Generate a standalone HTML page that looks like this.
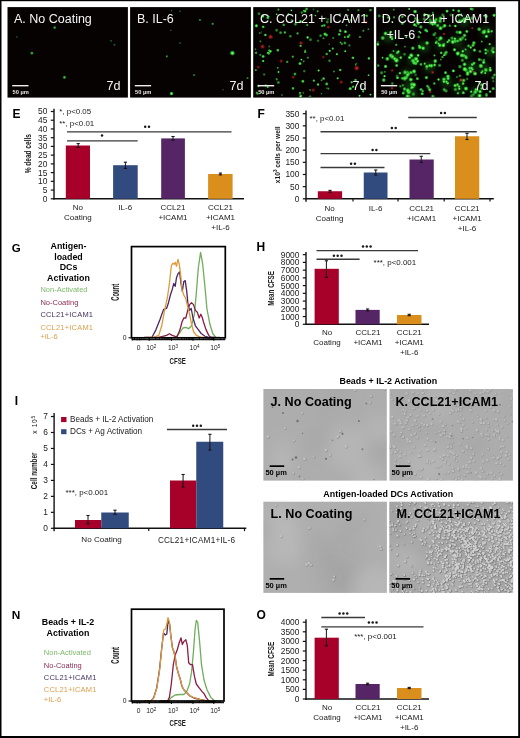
<!DOCTYPE html>
<html><head><meta charset="utf-8"><style>
html,body{margin:0;padding:0;background:#fff;}
body{width:520px;height:738px;position:relative;overflow:hidden;font-family:"Liberation Sans", sans-serif;}
</style></head><body>
<svg width="520" height="738" viewBox="0 0 520 738" style="position:absolute;left:0;top:0;will-change:transform;filter:blur(0.25px)" font-family='"Liberation Sans", sans-serif'>
<defs><filter id="blur1" x="-5%" y="-5%" width="110%" height="110%"><feGaussianBlur stdDeviation="0.85"/></filter><filter id="blurH" x="-10%" y="-10%" width="120%" height="120%"><feGaussianBlur stdDeviation="2.5"/></filter><filter id="blurBig" x="-20%" y="-20%" width="140%" height="140%"><feGaussianBlur stdDeviation="7"/></filter><filter id="blurS" x="-5%" y="-5%" width="110%" height="110%"><feGaussianBlur stdDeviation="0.45"/></filter><filter id="blurF" x="-5%" y="-5%" width="110%" height="110%"><feGaussianBlur stdDeviation="0.65"/></filter><radialGradient id="gG"><stop offset="0" stop-color="#b4ffb0"/><stop offset="0.35" stop-color="#46ee46"/><stop offset="0.7" stop-color="#22b422" stop-opacity="0.75"/><stop offset="1" stop-color="#128012" stop-opacity="0"/></radialGradient><radialGradient id="gGd"><stop offset="0" stop-color="#60c060"/><stop offset="0.4" stop-color="#2a8a2a"/><stop offset="1" stop-color="#145a14" stop-opacity="0"/></radialGradient><radialGradient id="gR"><stop offset="0" stop-color="#ff5050"/><stop offset="0.4" stop-color="#c81c1c"/><stop offset="1" stop-color="#801010" stop-opacity="0"/></radialGradient></defs>
<rect x="0" y="0" width="520" height="738" fill="#fff"/>
<rect x="7.5" y="7.1" width="120.4" height="90.5" fill="#060202"/>
<defs><clipPath id="f1"><rect x="7.5" y="7.1" width="120.4" height="90.5"/></clipPath></defs>
<g clip-path="url(#f1)">
<g filter="url(#blurF)">
<circle cx="54.7" cy="27.6" r="1.81" fill="url(#gG)" opacity="0.6"/>
<circle cx="16.8" cy="36.9" r="1.4" fill="url(#gGd)" opacity="0.45"/>
<circle cx="31.9" cy="53.1" r="1.95" fill="url(#gG)" opacity="0.68"/>
<circle cx="64.5" cy="77.3" r="2.09" fill="url(#gG)" opacity="0.68"/>
<circle cx="111" cy="40.8" r="1.53" fill="url(#gGd)" opacity="0.52"/>
<circle cx="114.5" cy="44.8" r="1.67" fill="url(#gGd)" opacity="0.52"/>
</g>
</g>
<text x="14" y="23.3" font-size="12.5" text-anchor="start" font-weight="normal" fill="#f4f4f4" >A. No Coating</text>
<text x="120.6" y="90.2" font-size="12.6" text-anchor="end" font-weight="normal" fill="#f4f4f4" >7d</text>
<rect x="12.2" y="85" width="16.3" height="1.4" fill="#eeeeee"/>
<text x="12.5" y="93.5" font-size="5.7" text-anchor="start" font-weight="bold" fill="#e8e8e8" >50 &#181;m</text>
<rect x="130.1" y="7.1" width="120.8" height="90.5" fill="#060202"/>
<defs><clipPath id="f2"><rect x="130.1" y="7.1" width="120.8" height="90.5"/></clipPath></defs>
<g clip-path="url(#f2)">
<g filter="url(#blurF)">
<circle cx="171.5" cy="10.6" r="1.4" fill="url(#gGd)" opacity="0.49"/>
<circle cx="180.1" cy="11.3" r="1.4" fill="url(#gGd)" opacity="0.49"/>
<circle cx="199.9" cy="19.9" r="1.53" fill="url(#gG)" opacity="0.56"/>
<circle cx="212.7" cy="23.8" r="1.67" fill="url(#gG)" opacity="0.56"/>
<circle cx="170.8" cy="30.4" r="1.4" fill="url(#gGd)" opacity="0.42"/>
<circle cx="180.1" cy="43.1" r="1.53" fill="url(#gGd)" opacity="0.49"/>
<circle cx="166.8" cy="56.4" r="1.53" fill="url(#gG)" opacity="0.56"/>
<circle cx="232.4" cy="53.1" r="2.79" fill="url(#gG)" opacity="0.95"/>
<circle cx="194.1" cy="75.1" r="1.53" fill="url(#gG)" opacity="0.49"/>
<circle cx="171.5" cy="93.6" r="2.23" fill="url(#gG)" opacity="0.95"/>
<circle cx="247.5" cy="78.1" r="1.53" fill="url(#gG)" opacity="0.49"/>
<circle cx="223.1" cy="89.7" r="1.4" fill="url(#gGd)" opacity="0.42"/>
</g>
</g>
<text x="137" y="23.3" font-size="12.5" text-anchor="start" font-weight="normal" fill="#f4f4f4" >B. IL-6</text>
<text x="243.6" y="90.2" font-size="12.6" text-anchor="end" font-weight="normal" fill="#f4f4f4" >7d</text>
<rect x="134.8" y="85" width="16.3" height="1.4" fill="#eeeeee"/>
<text x="135.1" y="93.5" font-size="5.7" text-anchor="start" font-weight="bold" fill="#e8e8e8" >50 &#181;m</text>
<rect x="253.2" y="7.1" width="120.7" height="90.5" fill="#060202"/>
<defs><clipPath id="f3"><rect x="253.2" y="7.1" width="120.7" height="90.5"/></clipPath></defs>
<g clip-path="url(#f3)">
<g filter="url(#blurF)">
<circle cx="307.85" cy="57.64" r="1.63" fill="url(#gGd)" opacity="0.88"/>
<circle cx="276.72" cy="79.25" r="1.78" fill="url(#gGd)" opacity="0.86"/>
<circle cx="265.36" cy="34.95" r="1.7" fill="url(#gG)" opacity="0.9"/>
<circle cx="329.45" cy="60.8" r="2.06" fill="url(#gGd)" opacity="0.79"/>
<circle cx="327.21" cy="22.04" r="1.95" fill="url(#gG)" opacity="0.53"/>
<circle cx="258.43" cy="85.94" r="1.9" fill="url(#gG)" opacity="0.65"/>
<circle cx="324.29" cy="25.39" r="1.79" fill="url(#gG)" opacity="0.72"/>
<circle cx="332.77" cy="48.57" r="1.59" fill="url(#gG)" opacity="0.75"/>
<circle cx="364.7" cy="15.46" r="1.51" fill="url(#gG)" opacity="0.6"/>
<circle cx="288.48" cy="14.31" r="1.58" fill="url(#gG)" opacity="0.88"/>
<circle cx="300.04" cy="92.89" r="1.42" fill="url(#gG)" opacity="0.92"/>
<circle cx="260.41" cy="41.33" r="1.6" fill="url(#gGd)" opacity="0.75"/>
<circle cx="277.74" cy="67.83" r="1.31" fill="url(#gG)" opacity="0.65"/>
<circle cx="368.54" cy="75.19" r="1.35" fill="url(#gG)" opacity="0.82"/>
<circle cx="255.5" cy="49.25" r="1.39" fill="url(#gGd)" opacity="0.75"/>
<circle cx="307.26" cy="24.98" r="1.6" fill="url(#gG)" opacity="0.67"/>
<circle cx="301.03" cy="95.72" r="1.47" fill="url(#gG)" opacity="0.94"/>
<circle cx="349.48" cy="35.02" r="1.42" fill="url(#gG)" opacity="0.68"/>
<circle cx="355.53" cy="64.9" r="1.28" fill="url(#gG)" opacity="0.57"/>
<circle cx="306.57" cy="8.95" r="1.95" fill="url(#gG)" opacity="0.67"/>
<circle cx="263.01" cy="26.57" r="1.25" fill="url(#gG)" opacity="0.67"/>
<circle cx="327.99" cy="19.36" r="1.95" fill="url(#gGd)" opacity="0.56"/>
<circle cx="299.99" cy="63.61" r="2.01" fill="url(#gG)" opacity="0.87"/>
<circle cx="283.79" cy="24.9" r="1.83" fill="url(#gG)" opacity="0.67"/>
<circle cx="311.43" cy="15.05" r="1.33" fill="url(#gG)" opacity="0.52"/>
<circle cx="368.37" cy="29.2" r="1.46" fill="url(#gGd)" opacity="0.87"/>
<circle cx="324.94" cy="34.07" r="2.03" fill="url(#gG)" opacity="0.94"/>
<circle cx="269.19" cy="50.52" r="1.48" fill="url(#gG)" opacity="0.91"/>
<circle cx="278.39" cy="9.57" r="1.59" fill="url(#gG)" opacity="0.61"/>
<circle cx="259.73" cy="33.05" r="1.32" fill="url(#gG)" opacity="0.56"/>
<circle cx="307.61" cy="37.39" r="1.74" fill="url(#gG)" opacity="0.92"/>
<circle cx="310.51" cy="39.74" r="2.06" fill="url(#gG)" opacity="0.51"/>
<circle cx="329.65" cy="50.78" r="1.51" fill="url(#gG)" opacity="0.95"/>
<circle cx="263.13" cy="56.43" r="2.01" fill="url(#gG)" opacity="0.83"/>
<circle cx="337.66" cy="78.3" r="1.54" fill="url(#gG)" opacity="0.81"/>
<circle cx="361.04" cy="85.19" r="2.04" fill="url(#gGd)" opacity="0.51"/>
<circle cx="313.49" cy="9.39" r="1.56" fill="url(#gGd)" opacity="0.51"/>
<circle cx="262.77" cy="16.12" r="2.09" fill="url(#gG)" opacity="0.9"/>
<circle cx="340.57" cy="42.48" r="1.62" fill="url(#gGd)" opacity="0.88"/>
<circle cx="264.14" cy="74.49" r="1.5" fill="url(#gG)" opacity="0.54"/>
<circle cx="256.84" cy="92.83" r="1.66" fill="url(#gG)" opacity="0.78"/>
<circle cx="363.37" cy="30.74" r="1.55" fill="url(#gG)" opacity="0.56"/>
<circle cx="326.75" cy="53.98" r="1.8" fill="url(#gG)" opacity="0.7"/>
<circle cx="359.96" cy="37.04" r="1.41" fill="url(#gG)" opacity="0.69"/>
<circle cx="349.79" cy="89.01" r="1.57" fill="url(#gG)" opacity="0.76"/>
<circle cx="291.74" cy="20.15" r="1.54" fill="url(#gGd)" opacity="0.9"/>
<circle cx="259.01" cy="13.78" r="1.94" fill="url(#gG)" opacity="0.55"/>
<circle cx="310.1" cy="90.03" r="1.57" fill="url(#gGd)" opacity="0.73"/>
<circle cx="333.92" cy="71.49" r="1.51" fill="url(#gGd)" opacity="0.87"/>
<circle cx="287.19" cy="61.87" r="1.73" fill="url(#gG)" opacity="0.64"/>
<circle cx="348.07" cy="9.79" r="1.59" fill="url(#gG)" opacity="0.59"/>
<circle cx="345.43" cy="31.68" r="1.92" fill="url(#gG)" opacity="0.94"/>
<circle cx="267.88" cy="17.75" r="2.06" fill="url(#gG)" opacity="0.81"/>
<circle cx="277.84" cy="50.15" r="1.85" fill="url(#gG)" opacity="0.84"/>
<circle cx="317.63" cy="11.3" r="1.47" fill="url(#gG)" opacity="0.66"/>
<circle cx="336.9" cy="54.16" r="1.58" fill="url(#gG)" opacity="0.86"/>
<circle cx="361.68" cy="15.82" r="1.35" fill="url(#gGd)" opacity="0.7"/>
<circle cx="328.39" cy="88.63" r="1.71" fill="url(#gGd)" opacity="0.79"/>
<circle cx="313.81" cy="80.62" r="1.64" fill="url(#gG)" opacity="0.79"/>
<circle cx="278.5" cy="71.99" r="1.42" fill="url(#gG)" opacity="0.9"/>
<circle cx="370.49" cy="94.6" r="1.46" fill="url(#gG)" opacity="0.82"/>
<circle cx="256.06" cy="52.77" r="1.62" fill="url(#gG)" opacity="0.75"/>
<circle cx="345.31" cy="51.24" r="1.43" fill="url(#gG)" opacity="0.89"/>
<circle cx="305.07" cy="11.21" r="1.83" fill="url(#gG)" opacity="0.91"/>
<circle cx="310.01" cy="96.58" r="2.05" fill="url(#gGd)" opacity="0.72"/>
<circle cx="366.77" cy="15.71" r="1.61" fill="url(#gG)" opacity="0.75"/>
<circle cx="352.78" cy="57.8" r="1.69" fill="url(#gG)" opacity="0.88"/>
<circle cx="320.61" cy="35.69" r="2.05" fill="url(#gGd)" opacity="0.89"/>
<circle cx="326.48" cy="35.04" r="2.07" fill="url(#gG)" opacity="0.74"/>
<circle cx="322.16" cy="25.89" r="1.67" fill="url(#gG)" opacity="0.77"/>
<circle cx="257.49" cy="93.89" r="1.7" fill="url(#gGd)" opacity="0.95"/>
<circle cx="268.66" cy="16.35" r="1.3" fill="url(#gG)" opacity="0.74"/>
<circle cx="303.27" cy="92.78" r="1.47" fill="url(#gGd)" opacity="0.71"/>
<circle cx="269.26" cy="46.48" r="1.69" fill="url(#gGd)" opacity="0.55"/>
<circle cx="303.96" cy="10.7" r="1.35" fill="url(#gG)" opacity="0.85"/>
<circle cx="256.9" cy="25.28" r="1.25" fill="url(#gG)" opacity="0.63"/>
<circle cx="340.02" cy="29.74" r="1.33" fill="url(#gGd)" opacity="0.83"/>
<circle cx="268.76" cy="53.28" r="1.85" fill="url(#gG)" opacity="0.82"/>
<circle cx="358.42" cy="10.16" r="1.94" fill="url(#gGd)" opacity="0.78"/>
<circle cx="318.03" cy="84.55" r="1.69" fill="url(#gG)" opacity="0.88"/>
<circle cx="326.75" cy="83.92" r="2.02" fill="url(#gG)" opacity="0.78"/>
<circle cx="295.42" cy="24.13" r="2" fill="url(#gG)" opacity="0.59"/>
<circle cx="346.51" cy="25.32" r="1.35" fill="url(#gG)" opacity="0.61"/>
<circle cx="340.37" cy="31.07" r="1.61" fill="url(#gG)" opacity="0.92"/>
<circle cx="318.63" cy="70.48" r="1.58" fill="url(#gG)" opacity="0.81"/>
<circle cx="256.31" cy="25.88" r="2.02" fill="url(#gG)" opacity="0.94"/>
<circle cx="267.89" cy="52.85" r="1.67" fill="url(#gG)" opacity="0.81"/>
<circle cx="276.62" cy="14.34" r="1.26" fill="url(#gG)" opacity="0.84"/>
<circle cx="326.94" cy="88.2" r="1.36" fill="url(#gGd)" opacity="0.58"/>
<circle cx="278.38" cy="82.46" r="2.03" fill="url(#gG)" opacity="0.54"/>
<circle cx="261.55" cy="92.31" r="1.31" fill="url(#gGd)" opacity="0.54"/>
<circle cx="300.56" cy="45.84" r="1.61" fill="url(#gG)" opacity="0.77"/>
<circle cx="255.77" cy="70.14" r="1.39" fill="url(#gG)" opacity="0.7"/>
<circle cx="341.89" cy="43.97" r="1.76" fill="url(#gG)" opacity="0.54"/>
<circle cx="348.17" cy="36.75" r="1.92" fill="url(#gG)" opacity="0.82"/>
<circle cx="356.28" cy="63.8" r="1.73" fill="url(#gGd)" opacity="0.59"/>
<circle cx="323.54" cy="38.28" r="1.48" fill="url(#gG)" opacity="0.55"/>
<circle cx="342.32" cy="22.26" r="1.35" fill="url(#gGd)" opacity="0.65"/>
<circle cx="318.11" cy="40.83" r="1.89" fill="url(#gGd)" opacity="0.68"/>
<circle cx="339.9" cy="14.34" r="1.5" fill="url(#gG)" opacity="0.55"/>
<circle cx="359.52" cy="95.77" r="1.44" fill="url(#gG)" opacity="0.93"/>
<circle cx="333.2" cy="38" r="1.73" fill="url(#gGd)" opacity="0.74"/>
<circle cx="300.41" cy="96.59" r="1.84" fill="url(#gG)" opacity="0.84"/>
<circle cx="370.44" cy="10.12" r="1.87" fill="url(#gG)" opacity="0.62"/>
<circle cx="301.82" cy="12.57" r="1.79" fill="url(#gG)" opacity="0.5"/>
<circle cx="284.86" cy="32.5" r="1.71" fill="url(#gG)" opacity="0.73"/>
<circle cx="368.9" cy="58.37" r="1.78" fill="url(#gG)" opacity="0.86"/>
<circle cx="263.24" cy="60.98" r="1.57" fill="url(#gG)" opacity="0.92"/>
<circle cx="299.97" cy="93.95" r="1.7" fill="url(#gGd)" opacity="0.77"/>
<circle cx="305.15" cy="51.87" r="1.69" fill="url(#gG)" opacity="0.77"/>
<circle cx="297.56" cy="33.39" r="1.72" fill="url(#gG)" opacity="0.63"/>
<circle cx="339.19" cy="34.3" r="1.9" fill="url(#gG)" opacity="0.76"/>
<circle cx="329.27" cy="44.28" r="1.29" fill="url(#gGd)" opacity="0.64"/>
<circle cx="301.38" cy="59.58" r="1.3" fill="url(#gG)" opacity="0.91"/>
<circle cx="305.14" cy="50.37" r="1.28" fill="url(#gG)" opacity="0.54"/>
<circle cx="350.29" cy="88.59" r="2.07" fill="url(#gG)" opacity="0.87"/>
<circle cx="325.79" cy="18.29" r="1.63" fill="url(#gGd)" opacity="0.59"/>
<circle cx="260.37" cy="54.84" r="1.55" fill="url(#gG)" opacity="0.56"/>
<circle cx="303.65" cy="61.29" r="1.55" fill="url(#gGd)" opacity="0.83"/>
<circle cx="350.87" cy="20.22" r="1.87" fill="url(#gG)" opacity="0.61"/>
<circle cx="267.7" cy="87.1" r="1.47" fill="url(#gG)" opacity="0.77"/>
<circle cx="340.19" cy="69.97" r="1.78" fill="url(#gG)" opacity="0.84"/>
<circle cx="276.71" cy="30.13" r="1.99" fill="url(#gG)" opacity="0.52"/>
<circle cx="261.41" cy="32.08" r="1.26" fill="url(#gGd)" opacity="0.52"/>
<circle cx="280.6" cy="32.73" r="2.02" fill="url(#gG)" opacity="0.57"/>
<circle cx="282.04" cy="94.96" r="1.65" fill="url(#gGd)" opacity="0.59"/>
<circle cx="294.96" cy="74.02" r="1.92" fill="url(#gG)" opacity="0.7"/>
<circle cx="351.69" cy="82.26" r="1.62" fill="url(#gG)" opacity="0.84"/>
<circle cx="300.47" cy="21.44" r="1.8" fill="url(#gG)" opacity="0.95"/>
<circle cx="292.79" cy="56.65" r="1.6" fill="url(#gG)" opacity="0.67"/>
<circle cx="265.71" cy="85.55" r="1.7" fill="url(#gG)" opacity="0.69"/>
<circle cx="321.56" cy="80.25" r="1.49" fill="url(#gGd)" opacity="0.85"/>
<circle cx="263.22" cy="26.97" r="1.83" fill="url(#gG)" opacity="0.72"/>
<circle cx="344.83" cy="37.12" r="1.43" fill="url(#gG)" opacity="0.8"/>
<circle cx="292.99" cy="88.31" r="1.84" fill="url(#gG)" opacity="0.76"/>
<circle cx="363.14" cy="91.28" r="1.61" fill="url(#gG)" opacity="0.86"/>
<circle cx="290.35" cy="36.21" r="2.07" fill="url(#gGd)" opacity="0.83"/>
<circle cx="315.42" cy="15.56" r="1.26" fill="url(#gG)" opacity="0.8"/>
<circle cx="323.56" cy="78.56" r="1.92" fill="url(#gG)" opacity="0.74"/>
<circle cx="353.39" cy="57.91" r="1.32" fill="url(#gG)" opacity="0.7"/>
<circle cx="355.57" cy="79.95" r="1.68" fill="url(#gG)" opacity="0.74"/>
<circle cx="321.5" cy="93.63" r="1.29" fill="url(#gGd)" opacity="0.75"/>
<circle cx="347.66" cy="15.54" r="1.47" fill="url(#gG)" opacity="0.55"/>
<circle cx="291.42" cy="10.4" r="1.32" fill="url(#gG)" opacity="0.87"/>
<circle cx="304.26" cy="71.13" r="1.89" fill="url(#gGd)" opacity="0.73"/>
<circle cx="344.89" cy="43" r="1.93" fill="url(#gG)" opacity="0.65"/>
<circle cx="270.41" cy="51.29" r="1.84" fill="url(#gG)" opacity="0.91"/>
<circle cx="302.9" cy="81.22" r="1.97" fill="url(#gG)" opacity="0.86"/>
<circle cx="353.09" cy="86.75" r="1.69" fill="url(#gG)" opacity="0.82"/>
<circle cx="349.35" cy="45.41" r="2.02" fill="url(#gGd)" opacity="0.61"/>
<circle cx="270.6" cy="36.9" r="2.94" fill="url(#gR)" opacity="0.7"/>
<circle cx="262.5" cy="46.6" r="2.79" fill="url(#gR)" opacity="0.65"/>
<circle cx="300.9" cy="43.1" r="2.48" fill="url(#gR)" opacity="0.6"/>
<circle cx="356.7" cy="68.1" r="3.1" fill="url(#gR)" opacity="0.75"/>
<circle cx="281.2" cy="61.1" r="2.33" fill="url(#gR)" opacity="0.55"/>
<circle cx="328.2" cy="27.1" r="2.17" fill="url(#gR)" opacity="0.5"/>
<circle cx="341.2" cy="82.1" r="2.33" fill="url(#gR)" opacity="0.55"/>
<circle cx="313.2" cy="90.1" r="2.33" fill="url(#gR)" opacity="0.55"/>
<circle cx="366.2" cy="22.1" r="2.17" fill="url(#gR)" opacity="0.5"/>
<circle cx="293.2" cy="77.1" r="2.17" fill="url(#gR)" opacity="0.5"/>
<circle cx="258.2" cy="67.1" r="2.17" fill="url(#gR)" opacity="0.5"/>
<circle cx="323.2" cy="57.1" r="2.02" fill="url(#gR)" opacity="0.5"/>
</g>
</g>
<text x="260" y="23.3" font-size="12.5" text-anchor="start" font-weight="normal" fill="#f4f4f4" >C. CCL21 + ICAM1</text>
<text x="366.6" y="90.2" font-size="12.6" text-anchor="end" font-weight="normal" fill="#f4f4f4" >7d</text>
<rect x="257.9" y="85" width="16.3" height="1.4" fill="#eeeeee"/>
<text x="258.2" y="93.5" font-size="5.7" text-anchor="start" font-weight="bold" fill="#e8e8e8" >50 &#181;m</text>
<rect x="376.2" y="7.1" width="119.6" height="90.5" fill="#060202"/>
<defs><clipPath id="f4"><rect x="376.2" y="7.1" width="119.6" height="90.5"/></clipPath></defs>
<g clip-path="url(#f4)">
<g filter="url(#blurH)">
<circle cx="463.9" cy="20.9" r="6" fill="#1a701a" opacity="0.4"/>
<circle cx="457" cy="41.7" r="6" fill="#1a701a" opacity="0.4"/>
<circle cx="465" cy="53.1" r="6" fill="#1a701a" opacity="0.4"/>
<circle cx="429.2" cy="67.1" r="6" fill="#1a701a" opacity="0.4"/>
<circle cx="413.2" cy="60.1" r="6" fill="#1a701a" opacity="0.4"/>
<circle cx="406.2" cy="74.1" r="6" fill="#1a701a" opacity="0.4"/>
<circle cx="409.2" cy="87.1" r="6" fill="#1a701a" opacity="0.4"/>
<circle cx="412.2" cy="95.1" r="6" fill="#1a701a" opacity="0.4"/>
<circle cx="459.2" cy="87.9" r="6" fill="#1a701a" opacity="0.4"/>
<circle cx="484.7" cy="69.1" r="6" fill="#1a701a" opacity="0.4"/>
<circle cx="440.8" cy="44.1" r="6" fill="#1a701a" opacity="0.4"/>
<circle cx="396.2" cy="57.1" r="6" fill="#1a701a" opacity="0.4"/>
<circle cx="486.2" cy="32.1" r="6" fill="#1a701a" opacity="0.4"/>
<circle cx="436.2" cy="22.1" r="6" fill="#1a701a" opacity="0.4"/>
<circle cx="476.2" cy="92.1" r="6" fill="#1a701a" opacity="0.4"/>
<circle cx="446.2" cy="82.1" r="6" fill="#1a701a" opacity="0.4"/>
<circle cx="388.2" cy="37.1" r="6" fill="#1a701a" opacity="0.4"/>
<circle cx="424.2" cy="47.1" r="6" fill="#1a701a" opacity="0.4"/>
<circle cx="471.2" cy="67.1" r="6" fill="#1a701a" opacity="0.4"/>
<circle cx="491.2" cy="52.1" r="6" fill="#1a701a" opacity="0.4"/>
</g>
<g filter="url(#blurF)">
<circle cx="438.53" cy="79.49" r="1.71" fill="url(#gG)" opacity="0.88"/>
<circle cx="459.95" cy="66.63" r="2.39" fill="url(#gG)" opacity="0.62"/>
<circle cx="472.98" cy="45.23" r="2.09" fill="url(#gG)" opacity="0.84"/>
<circle cx="462.3" cy="20.27" r="1.55" fill="url(#gG)" opacity="0.9"/>
<circle cx="400.3" cy="86.23" r="1.75" fill="url(#gG)" opacity="0.56"/>
<circle cx="461.28" cy="14.22" r="1.48" fill="url(#gGd)" opacity="0.97"/>
<circle cx="432.91" cy="96.27" r="2.14" fill="url(#gG)" opacity="0.7"/>
<circle cx="436.66" cy="37.87" r="1.8" fill="url(#gGd)" opacity="0.53"/>
<circle cx="465.56" cy="39.49" r="1.8" fill="url(#gGd)" opacity="0.89"/>
<circle cx="479.17" cy="29.25" r="2.43" fill="url(#gG)" opacity="0.76"/>
<circle cx="419.47" cy="31.75" r="1.6" fill="url(#gG)" opacity="0.8"/>
<circle cx="442.48" cy="57.08" r="1.67" fill="url(#gG)" opacity="0.65"/>
<circle cx="418.07" cy="23.21" r="2.38" fill="url(#gG)" opacity="0.79"/>
<circle cx="409.23" cy="8.96" r="1.42" fill="url(#gG)" opacity="0.87"/>
<circle cx="432.87" cy="12.88" r="1.73" fill="url(#gG)" opacity="0.54"/>
<circle cx="493.15" cy="88.64" r="2.07" fill="url(#gG)" opacity="0.76"/>
<circle cx="393.46" cy="51.01" r="1.59" fill="url(#gGd)" opacity="1"/>
<circle cx="490.11" cy="67.95" r="1.45" fill="url(#gG)" opacity="0.99"/>
<circle cx="413.05" cy="86.84" r="2.27" fill="url(#gG)" opacity="0.52"/>
<circle cx="486" cy="16.31" r="2.31" fill="url(#gG)" opacity="0.83"/>
<circle cx="424.63" cy="14.74" r="1.98" fill="url(#gG)" opacity="0.99"/>
<circle cx="403.63" cy="92.88" r="2.26" fill="url(#gG)" opacity="0.52"/>
<circle cx="481.5" cy="60" r="1.64" fill="url(#gGd)" opacity="0.7"/>
<circle cx="450.85" cy="14.95" r="2.21" fill="url(#gGd)" opacity="0.61"/>
<circle cx="414.59" cy="24.81" r="2.04" fill="url(#gG)" opacity="0.98"/>
<circle cx="445.12" cy="54.07" r="2.36" fill="url(#gG)" opacity="0.66"/>
<circle cx="445.18" cy="90.38" r="2.06" fill="url(#gG)" opacity="0.68"/>
<circle cx="494.48" cy="74.9" r="1.87" fill="url(#gG)" opacity="0.72"/>
<circle cx="388.18" cy="17.44" r="1.6" fill="url(#gG)" opacity="0.79"/>
<circle cx="459.91" cy="75.8" r="1.9" fill="url(#gGd)" opacity="0.93"/>
<circle cx="393.32" cy="56.72" r="1.41" fill="url(#gGd)" opacity="0.63"/>
<circle cx="493.27" cy="81.23" r="1.76" fill="url(#gGd)" opacity="0.66"/>
<circle cx="383.29" cy="16.82" r="1.42" fill="url(#gG)" opacity="0.74"/>
<circle cx="483.66" cy="62.28" r="2.24" fill="url(#gG)" opacity="0.91"/>
<circle cx="492.97" cy="48.4" r="2.34" fill="url(#gG)" opacity="0.51"/>
<circle cx="424.2" cy="18.96" r="2.2" fill="url(#gG)" opacity="0.53"/>
<circle cx="491.69" cy="31.32" r="1.77" fill="url(#gG)" opacity="0.77"/>
<circle cx="473.5" cy="94.42" r="2.39" fill="url(#gGd)" opacity="0.76"/>
<circle cx="494.07" cy="15.26" r="2.07" fill="url(#gG)" opacity="0.93"/>
<circle cx="415.43" cy="18.5" r="1.98" fill="url(#gG)" opacity="0.62"/>
<circle cx="435.3" cy="33.17" r="1.67" fill="url(#gG)" opacity="0.54"/>
<circle cx="426.61" cy="68.71" r="1.79" fill="url(#gGd)" opacity="0.61"/>
<circle cx="492.88" cy="77.77" r="2.25" fill="url(#gG)" opacity="0.54"/>
<circle cx="428.61" cy="87.53" r="2.11" fill="url(#gG)" opacity="0.57"/>
<circle cx="446.11" cy="90.92" r="2.27" fill="url(#gGd)" opacity="0.94"/>
<circle cx="489.61" cy="44.13" r="1.58" fill="url(#gG)" opacity="0.86"/>
<circle cx="468.62" cy="45.89" r="1.98" fill="url(#gG)" opacity="0.72"/>
<circle cx="436.17" cy="19.47" r="1.93" fill="url(#gG)" opacity="0.75"/>
<circle cx="420.96" cy="64.34" r="1.93" fill="url(#gG)" opacity="0.72"/>
<circle cx="481.74" cy="41.57" r="1.47" fill="url(#gG)" opacity="0.65"/>
<circle cx="411.1" cy="88.36" r="1.74" fill="url(#gGd)" opacity="0.98"/>
<circle cx="464.56" cy="35.39" r="2.4" fill="url(#gG)" opacity="0.76"/>
<circle cx="394.07" cy="17.31" r="1.65" fill="url(#gG)" opacity="0.61"/>
<circle cx="479.15" cy="82.37" r="1.8" fill="url(#gGd)" opacity="0.97"/>
<circle cx="413.36" cy="94.06" r="2.35" fill="url(#gG)" opacity="0.51"/>
<circle cx="479.31" cy="59.61" r="2.13" fill="url(#gG)" opacity="0.75"/>
<circle cx="426.92" cy="31.05" r="1.88" fill="url(#gG)" opacity="0.89"/>
<circle cx="396.28" cy="44.82" r="1.62" fill="url(#gG)" opacity="0.68"/>
<circle cx="480.11" cy="91.54" r="2.22" fill="url(#gG)" opacity="0.92"/>
<circle cx="385.58" cy="66.42" r="2.18" fill="url(#gG)" opacity="0.89"/>
<circle cx="487.59" cy="50.95" r="2.28" fill="url(#gGd)" opacity="0.54"/>
<circle cx="404.89" cy="46.68" r="1.64" fill="url(#gGd)" opacity="0.7"/>
<circle cx="434.31" cy="83.49" r="1.75" fill="url(#gG)" opacity="0.69"/>
<circle cx="402.36" cy="23.46" r="1.91" fill="url(#gG)" opacity="0.7"/>
<circle cx="492.08" cy="50.71" r="1.93" fill="url(#gG)" opacity="0.63"/>
<circle cx="392.35" cy="21.98" r="1.43" fill="url(#gG)" opacity="0.56"/>
<circle cx="429.03" cy="15.85" r="2.32" fill="url(#gG)" opacity="0.82"/>
<circle cx="439.63" cy="65.39" r="2.27" fill="url(#gG)" opacity="0.52"/>
<circle cx="453.31" cy="70.87" r="1.98" fill="url(#gG)" opacity="0.96"/>
<circle cx="459.93" cy="32.41" r="2.37" fill="url(#gG)" opacity="0.98"/>
<circle cx="467.38" cy="17.62" r="1.8" fill="url(#gG)" opacity="0.72"/>
<circle cx="471.54" cy="96.11" r="2.46" fill="url(#gG)" opacity="0.5"/>
<circle cx="472.13" cy="18.15" r="2.32" fill="url(#gG)" opacity="0.56"/>
<circle cx="442.77" cy="15.1" r="2.41" fill="url(#gGd)" opacity="0.84"/>
<circle cx="431.36" cy="65.57" r="1.45" fill="url(#gGd)" opacity="0.94"/>
<circle cx="408.71" cy="96.25" r="2.23" fill="url(#gG)" opacity="0.57"/>
<circle cx="403.09" cy="78" r="1.72" fill="url(#gG)" opacity="0.67"/>
<circle cx="379.16" cy="15.93" r="2.08" fill="url(#gG)" opacity="0.55"/>
<circle cx="415.55" cy="74.76" r="2.4" fill="url(#gGd)" opacity="0.53"/>
<circle cx="434.45" cy="55.38" r="1.72" fill="url(#gGd)" opacity="0.96"/>
<circle cx="462.38" cy="60.32" r="2.22" fill="url(#gG)" opacity="0.54"/>
<circle cx="415.06" cy="11.55" r="2.31" fill="url(#gG)" opacity="0.98"/>
<circle cx="456.92" cy="85.47" r="2.26" fill="url(#gGd)" opacity="0.55"/>
<circle cx="467.13" cy="78.97" r="1.95" fill="url(#gGd)" opacity="0.71"/>
<circle cx="466.85" cy="31.41" r="2.01" fill="url(#gG)" opacity="0.87"/>
<circle cx="447.97" cy="76.39" r="2.33" fill="url(#gG)" opacity="0.92"/>
<circle cx="454.49" cy="49.77" r="2.07" fill="url(#gG)" opacity="0.92"/>
<circle cx="465.56" cy="49.5" r="1.87" fill="url(#gGd)" opacity="0.91"/>
<circle cx="449.77" cy="25.71" r="1.67" fill="url(#gG)" opacity="0.63"/>
<circle cx="481.63" cy="84.96" r="2.29" fill="url(#gG)" opacity="0.69"/>
<circle cx="382.58" cy="57.63" r="1.42" fill="url(#gG)" opacity="0.77"/>
<circle cx="466.08" cy="70.09" r="2.28" fill="url(#gG)" opacity="0.83"/>
<circle cx="397.49" cy="77.69" r="2.04" fill="url(#gG)" opacity="0.91"/>
<circle cx="444.35" cy="89.8" r="1.53" fill="url(#gG)" opacity="0.95"/>
<circle cx="430.55" cy="21.64" r="2.39" fill="url(#gGd)" opacity="0.5"/>
<circle cx="378.12" cy="41.96" r="1.5" fill="url(#gGd)" opacity="0.6"/>
<circle cx="393.73" cy="9.7" r="1.75" fill="url(#gGd)" opacity="0.74"/>
<circle cx="490.25" cy="70.03" r="2.17" fill="url(#gG)" opacity="0.95"/>
<circle cx="432.35" cy="23.32" r="1.94" fill="url(#gG)" opacity="0.66"/>
<circle cx="407.7" cy="72.11" r="1.75" fill="url(#gG)" opacity="0.63"/>
<circle cx="423.12" cy="48.19" r="2.21" fill="url(#gG)" opacity="0.98"/>
<circle cx="402.14" cy="17.34" r="1.52" fill="url(#gG)" opacity="0.52"/>
<circle cx="418.84" cy="36.99" r="1.94" fill="url(#gG)" opacity="0.58"/>
<circle cx="486.43" cy="94.72" r="1.92" fill="url(#gG)" opacity="0.93"/>
<circle cx="460.89" cy="80.3" r="1.84" fill="url(#gGd)" opacity="0.67"/>
<circle cx="440.79" cy="59.54" r="1.42" fill="url(#gG)" opacity="0.53"/>
<circle cx="396.92" cy="75.84" r="2.1" fill="url(#gGd)" opacity="0.58"/>
<circle cx="410.83" cy="79.59" r="2.39" fill="url(#gG)" opacity="0.93"/>
<circle cx="486.43" cy="36.38" r="2.01" fill="url(#gG)" opacity="0.98"/>
<circle cx="411.64" cy="73.26" r="1.63" fill="url(#gGd)" opacity="0.78"/>
<circle cx="427.42" cy="86.03" r="1.9" fill="url(#gG)" opacity="0.66"/>
<circle cx="384.54" cy="76.16" r="1.54" fill="url(#gG)" opacity="0.98"/>
<circle cx="381.59" cy="72.84" r="2.25" fill="url(#gG)" opacity="0.54"/>
<circle cx="446.1" cy="52.36" r="2.28" fill="url(#gG)" opacity="0.69"/>
<circle cx="435.24" cy="61.07" r="2.4" fill="url(#gG)" opacity="0.91"/>
<circle cx="474.47" cy="50.11" r="2.05" fill="url(#gG)" opacity="0.9"/>
<circle cx="426.39" cy="77.63" r="2.23" fill="url(#gG)" opacity="0.82"/>
<circle cx="425.72" cy="30.07" r="2.04" fill="url(#gG)" opacity="0.77"/>
<circle cx="417.5" cy="20.55" r="2.44" fill="url(#gG)" opacity="0.63"/>
<circle cx="384.77" cy="71.84" r="1.68" fill="url(#gGd)" opacity="0.73"/>
<circle cx="471.01" cy="8.9" r="1.84" fill="url(#gG)" opacity="0.84"/>
<circle cx="378.25" cy="65.57" r="1.92" fill="url(#gG)" opacity="0.56"/>
<circle cx="472.27" cy="64.54" r="1.95" fill="url(#gG)" opacity="0.85"/>
<circle cx="458.81" cy="10.97" r="1.93" fill="url(#gG)" opacity="0.88"/>
<circle cx="473.82" cy="42.97" r="2.33" fill="url(#gG)" opacity="0.81"/>
<circle cx="403.1" cy="93.28" r="1.69" fill="url(#gG)" opacity="0.75"/>
<circle cx="444.07" cy="55.28" r="1.4" fill="url(#gG)" opacity="0.98"/>
<circle cx="472.4" cy="9.17" r="1.99" fill="url(#gG)" opacity="0.57"/>
<circle cx="429.64" cy="89.72" r="2.27" fill="url(#gG)" opacity="0.81"/>
<circle cx="447.05" cy="11.11" r="1.95" fill="url(#gG)" opacity="0.96"/>
<circle cx="443.22" cy="26.82" r="1.8" fill="url(#gG)" opacity="0.55"/>
<circle cx="467.56" cy="73.8" r="2.47" fill="url(#gG)" opacity="0.97"/>
<circle cx="436.45" cy="41.98" r="2.06" fill="url(#gG)" opacity="0.65"/>
<circle cx="444.11" cy="89.37" r="2.33" fill="url(#gGd)" opacity="0.82"/>
<circle cx="413.21" cy="87.29" r="1.45" fill="url(#gG)" opacity="0.6"/>
<circle cx="404.58" cy="54.23" r="1.93" fill="url(#gG)" opacity="0.5"/>
<circle cx="486.5" cy="95.54" r="2.03" fill="url(#gGd)" opacity="0.85"/>
<circle cx="396.65" cy="65.5" r="1.93" fill="url(#gG)" opacity="0.85"/>
<circle cx="377.75" cy="44.27" r="2.06" fill="url(#gG)" opacity="0.9"/>
<circle cx="390.85" cy="31.93" r="1.59" fill="url(#gG)" opacity="0.94"/>
<circle cx="444.7" cy="25.71" r="2.3" fill="url(#gG)" opacity="0.92"/>
<circle cx="455.29" cy="26.01" r="1.79" fill="url(#gG)" opacity="0.98"/>
<circle cx="455.4" cy="89.38" r="2.36" fill="url(#gG)" opacity="0.54"/>
<circle cx="434.07" cy="34.64" r="2.42" fill="url(#gGd)" opacity="0.97"/>
<circle cx="416.22" cy="25.98" r="1.66" fill="url(#gG)" opacity="0.64"/>
<circle cx="422.69" cy="91.14" r="1.58" fill="url(#gG)" opacity="0.8"/>
<circle cx="452.05" cy="38.13" r="2.24" fill="url(#gG)" opacity="0.6"/>
<circle cx="439.25" cy="39.75" r="1.9" fill="url(#gG)" opacity="0.7"/>
<circle cx="424.75" cy="63.63" r="1.63" fill="url(#gG)" opacity="0.81"/>
<circle cx="444.22" cy="44.11" r="1.57" fill="url(#gG)" opacity="0.78"/>
<circle cx="490.13" cy="91.58" r="1.58" fill="url(#gG)" opacity="0.97"/>
<circle cx="402.48" cy="16.59" r="1.74" fill="url(#gGd)" opacity="0.98"/>
<circle cx="488.43" cy="29.8" r="1.77" fill="url(#gG)" opacity="0.51"/>
<circle cx="402.86" cy="85.22" r="2.02" fill="url(#gGd)" opacity="0.82"/>
<circle cx="485.26" cy="73.01" r="1.48" fill="url(#gG)" opacity="0.92"/>
<circle cx="420.84" cy="26.97" r="2.16" fill="url(#gG)" opacity="0.72"/>
<circle cx="383.72" cy="80.05" r="2.39" fill="url(#gG)" opacity="0.79"/>
<circle cx="417.32" cy="78.69" r="2.02" fill="url(#gG)" opacity="0.8"/>
<circle cx="420.56" cy="32.77" r="1.42" fill="url(#gG)" opacity="0.75"/>
<circle cx="453.38" cy="10.22" r="1.64" fill="url(#gG)" opacity="0.81"/>
<circle cx="397.36" cy="52.67" r="1.86" fill="url(#gG)" opacity="0.89"/>
<circle cx="406.34" cy="37.14" r="1.42" fill="url(#gG)" opacity="0.81"/>
<circle cx="483.96" cy="59.99" r="1.77" fill="url(#gG)" opacity="0.6"/>
<circle cx="474.73" cy="73.41" r="2.43" fill="url(#gG)" opacity="0.8"/>
<circle cx="392.31" cy="83.43" r="2.21" fill="url(#gGd)" opacity="0.76"/>
<circle cx="462.76" cy="37.84" r="2.29" fill="url(#gG)" opacity="0.6"/>
<circle cx="479.98" cy="51.36" r="1.99" fill="url(#gG)" opacity="0.61"/>
<circle cx="430.16" cy="19.98" r="2.47" fill="url(#gGd)" opacity="0.7"/>
<circle cx="456.97" cy="77.04" r="1.58" fill="url(#gGd)" opacity="0.83"/>
<circle cx="457.11" cy="32.13" r="2.13" fill="url(#gG)" opacity="0.6"/>
<circle cx="464.47" cy="20.57" r="2.06" fill="url(#gG)" opacity="0.96"/>
<circle cx="464.13" cy="18.92" r="1.99" fill="url(#gG)" opacity="0.83"/>
<circle cx="458.6" cy="15.51" r="1.59" fill="url(#gG)" opacity="0.82"/>
<circle cx="459.64" cy="21.11" r="2.2" fill="url(#gG)" opacity="0.81"/>
<circle cx="464.72" cy="21.35" r="2.27" fill="url(#gG)" opacity="0.96"/>
<circle cx="454.96" cy="38.78" r="1.77" fill="url(#gG)" opacity="0.95"/>
<circle cx="457.71" cy="40.98" r="1.88" fill="url(#gG)" opacity="0.82"/>
<circle cx="454.96" cy="41.1" r="2.65" fill="url(#gG)" opacity="0.76"/>
<circle cx="460.51" cy="39.39" r="2.62" fill="url(#gG)" opacity="0.77"/>
<circle cx="449.1" cy="40.44" r="1.94" fill="url(#gG)" opacity="0.84"/>
<circle cx="452.76" cy="41.94" r="2.42" fill="url(#gG)" opacity="1"/>
<circle cx="462.81" cy="51.26" r="1.75" fill="url(#gG)" opacity="0.98"/>
<circle cx="465.58" cy="56.37" r="1.94" fill="url(#gG)" opacity="0.83"/>
<circle cx="470.76" cy="47.45" r="1.65" fill="url(#gG)" opacity="0.92"/>
<circle cx="463.48" cy="55.49" r="2.29" fill="url(#gG)" opacity="0.91"/>
<circle cx="466.22" cy="57.65" r="2.39" fill="url(#gG)" opacity="0.75"/>
<circle cx="457.77" cy="53.48" r="2.61" fill="url(#gG)" opacity="0.97"/>
<circle cx="461.75" cy="55.4" r="2.51" fill="url(#gG)" opacity="0.87"/>
<circle cx="431.39" cy="65.76" r="2.35" fill="url(#gG)" opacity="0.88"/>
<circle cx="429.56" cy="65.68" r="2.09" fill="url(#gG)" opacity="0.82"/>
<circle cx="434.61" cy="65" r="2.04" fill="url(#gG)" opacity="0.86"/>
<circle cx="426.88" cy="66.51" r="2.19" fill="url(#gG)" opacity="0.86"/>
<circle cx="415.28" cy="59.22" r="2.4" fill="url(#gG)" opacity="0.76"/>
<circle cx="411.24" cy="55.43" r="2.61" fill="url(#gG)" opacity="0.97"/>
<circle cx="418.11" cy="55.34" r="1.82" fill="url(#gG)" opacity="0.98"/>
<circle cx="417.53" cy="61.1" r="2.11" fill="url(#gG)" opacity="0.99"/>
<circle cx="415.62" cy="63.33" r="2.16" fill="url(#gG)" opacity="0.98"/>
<circle cx="414.07" cy="62.66" r="2.4" fill="url(#gG)" opacity="0.97"/>
<circle cx="412.96" cy="60.77" r="2.58" fill="url(#gG)" opacity="0.81"/>
<circle cx="416.17" cy="58.94" r="2.52" fill="url(#gG)" opacity="0.95"/>
<circle cx="409.58" cy="57.52" r="2.13" fill="url(#gG)" opacity="0.94"/>
<circle cx="408.47" cy="73.88" r="2.07" fill="url(#gG)" opacity="0.91"/>
<circle cx="407.47" cy="75.03" r="2.29" fill="url(#gG)" opacity="0.87"/>
<circle cx="406.25" cy="77.35" r="2.28" fill="url(#gG)" opacity="0.87"/>
<circle cx="405.12" cy="72.4" r="2.7" fill="url(#gG)" opacity="0.77"/>
<circle cx="402.21" cy="78.42" r="1.66" fill="url(#gG)" opacity="0.82"/>
<circle cx="404.72" cy="78.52" r="2.76" fill="url(#gG)" opacity="0.81"/>
<circle cx="410.91" cy="72.35" r="1.93" fill="url(#gG)" opacity="0.82"/>
<circle cx="414.04" cy="71.39" r="2.55" fill="url(#gG)" opacity="0.98"/>
<circle cx="399.89" cy="73.18" r="1.72" fill="url(#gG)" opacity="0.88"/>
<circle cx="404.51" cy="88.96" r="2.19" fill="url(#gG)" opacity="0.83"/>
<circle cx="408.92" cy="91.64" r="2.53" fill="url(#gG)" opacity="0.94"/>
<circle cx="411.93" cy="84.37" r="2.57" fill="url(#gG)" opacity="0.85"/>
<circle cx="407.24" cy="96.1" r="2.22" fill="url(#gG)" opacity="0.87"/>
<circle cx="413.93" cy="84.7" r="2.6" fill="url(#gG)" opacity="0.99"/>
<circle cx="408.52" cy="92.11" r="2.66" fill="url(#gG)" opacity="0.81"/>
<circle cx="407.74" cy="90.37" r="2.62" fill="url(#gG)" opacity="0.88"/>
<circle cx="411.89" cy="99.27" r="2.28" fill="url(#gG)" opacity="0.99"/>
<circle cx="418.16" cy="99.24" r="2.52" fill="url(#gG)" opacity="0.99"/>
<circle cx="411.98" cy="87.23" r="2.16" fill="url(#gG)" opacity="0.88"/>
<circle cx="422.17" cy="93.81" r="2.05" fill="url(#gG)" opacity="0.84"/>
<circle cx="421" cy="89.53" r="2.1" fill="url(#gG)" opacity="0.76"/>
<circle cx="463.08" cy="83.6" r="1.92" fill="url(#gG)" opacity="0.87"/>
<circle cx="455.07" cy="85.49" r="2.14" fill="url(#gG)" opacity="0.92"/>
<circle cx="459.01" cy="86.67" r="1.85" fill="url(#gG)" opacity="0.75"/>
<circle cx="463.3" cy="92.79" r="2" fill="url(#gG)" opacity="0.86"/>
<circle cx="463.64" cy="80.47" r="2.48" fill="url(#gG)" opacity="0.76"/>
<circle cx="457.49" cy="84.62" r="1.91" fill="url(#gG)" opacity="0.78"/>
<circle cx="459.29" cy="88.72" r="1.63" fill="url(#gG)" opacity="0.98"/>
<circle cx="465.97" cy="88.56" r="2.55" fill="url(#gG)" opacity="0.95"/>
<circle cx="457.91" cy="93.25" r="1.66" fill="url(#gG)" opacity="0.8"/>
<circle cx="485.79" cy="69.96" r="2.61" fill="url(#gG)" opacity="0.8"/>
<circle cx="482.42" cy="71.2" r="1.57" fill="url(#gG)" opacity="0.85"/>
<circle cx="480.83" cy="65.89" r="2.72" fill="url(#gG)" opacity="0.89"/>
<circle cx="481.49" cy="72.53" r="1.82" fill="url(#gG)" opacity="0.8"/>
<circle cx="447.61" cy="41.99" r="1.67" fill="url(#gG)" opacity="0.88"/>
<circle cx="438.52" cy="43.58" r="1.65" fill="url(#gG)" opacity="0.78"/>
<circle cx="439.79" cy="45.3" r="2.32" fill="url(#gG)" opacity="0.91"/>
<circle cx="435.88" cy="42.89" r="1.6" fill="url(#gG)" opacity="0.86"/>
<circle cx="443.33" cy="45.41" r="2.4" fill="url(#gG)" opacity="0.97"/>
<circle cx="440.63" cy="38.2" r="2.54" fill="url(#gG)" opacity="0.91"/>
<circle cx="441.22" cy="52.87" r="1.75" fill="url(#gG)" opacity="0.87"/>
<circle cx="396.32" cy="59.83" r="2.14" fill="url(#gG)" opacity="0.91"/>
<circle cx="394.82" cy="59.24" r="1.84" fill="url(#gG)" opacity="0.88"/>
<circle cx="387.36" cy="58.81" r="2.5" fill="url(#gG)" opacity="0.86"/>
<circle cx="390.87" cy="55.57" r="2.69" fill="url(#gG)" opacity="0.89"/>
<circle cx="396.45" cy="60.46" r="2.76" fill="url(#gG)" opacity="0.93"/>
<circle cx="400.73" cy="57.64" r="1.78" fill="url(#gG)" opacity="0.89"/>
<circle cx="392.42" cy="56.87" r="2.53" fill="url(#gG)" opacity="0.8"/>
<circle cx="398.43" cy="51.59" r="1.76" fill="url(#gG)" opacity="0.86"/>
<circle cx="394.61" cy="58.6" r="1.98" fill="url(#gG)" opacity="0.88"/>
<circle cx="484.4" cy="31.06" r="1.99" fill="url(#gG)" opacity="0.89"/>
<circle cx="483.5" cy="32.2" r="2.54" fill="url(#gG)" opacity="0.83"/>
<circle cx="488.48" cy="31.61" r="2.02" fill="url(#gG)" opacity="0.94"/>
<circle cx="484.28" cy="32.03" r="2.09" fill="url(#gG)" opacity="0.94"/>
<circle cx="440.08" cy="21.01" r="2.41" fill="url(#gG)" opacity="0.75"/>
<circle cx="440.46" cy="18.31" r="2.38" fill="url(#gG)" opacity="0.83"/>
<circle cx="432.64" cy="24.12" r="2.04" fill="url(#gG)" opacity="0.91"/>
<circle cx="440.5" cy="28.23" r="2.51" fill="url(#gG)" opacity="0.92"/>
<circle cx="430.74" cy="22.58" r="2.59" fill="url(#gG)" opacity="0.76"/>
<circle cx="434.75" cy="21.23" r="2.61" fill="url(#gG)" opacity="0.91"/>
<circle cx="437.68" cy="25.45" r="2.17" fill="url(#gG)" opacity="0.77"/>
<circle cx="434.76" cy="23.63" r="2.12" fill="url(#gG)" opacity="0.77"/>
<circle cx="475.72" cy="89.49" r="1.65" fill="url(#gG)" opacity="0.96"/>
<circle cx="479.57" cy="95.72" r="2.58" fill="url(#gG)" opacity="0.99"/>
<circle cx="481.54" cy="88.43" r="1.77" fill="url(#gG)" opacity="0.75"/>
<circle cx="477.07" cy="90.31" r="1.95" fill="url(#gG)" opacity="0.81"/>
<circle cx="471.23" cy="91.64" r="1.63" fill="url(#gG)" opacity="0.91"/>
<circle cx="475.29" cy="91.99" r="2.59" fill="url(#gG)" opacity="0.8"/>
<circle cx="445.53" cy="72.7" r="2.02" fill="url(#gG)" opacity="0.84"/>
<circle cx="448.08" cy="78.45" r="2.16" fill="url(#gG)" opacity="0.9"/>
<circle cx="443.99" cy="79.39" r="2.49" fill="url(#gG)" opacity="0.83"/>
<circle cx="447.75" cy="83.17" r="1.8" fill="url(#gG)" opacity="0.93"/>
<circle cx="443.9" cy="81.62" r="1.88" fill="url(#gG)" opacity="0.94"/>
<circle cx="446.48" cy="81.76" r="1.85" fill="url(#gG)" opacity="0.87"/>
<circle cx="391.33" cy="37.11" r="2.13" fill="url(#gG)" opacity="0.85"/>
<circle cx="392.1" cy="38.89" r="1.83" fill="url(#gG)" opacity="0.93"/>
<circle cx="385.51" cy="33.49" r="2.42" fill="url(#gG)" opacity="0.91"/>
<circle cx="382.73" cy="38.02" r="2.49" fill="url(#gG)" opacity="0.76"/>
<circle cx="419.13" cy="45.84" r="1.68" fill="url(#gG)" opacity="0.86"/>
<circle cx="412.83" cy="48.21" r="2.3" fill="url(#gG)" opacity="0.79"/>
<circle cx="427.09" cy="42.99" r="2.32" fill="url(#gG)" opacity="0.88"/>
<circle cx="419.89" cy="47.32" r="2.42" fill="url(#gG)" opacity="0.87"/>
<circle cx="467.68" cy="72.73" r="2.08" fill="url(#gG)" opacity="0.75"/>
<circle cx="464.56" cy="64.33" r="2.45" fill="url(#gG)" opacity="0.89"/>
<circle cx="472.42" cy="69.37" r="1.77" fill="url(#gG)" opacity="0.91"/>
<circle cx="475.24" cy="73.8" r="2.28" fill="url(#gG)" opacity="0.78"/>
<circle cx="464.72" cy="69.14" r="2.75" fill="url(#gG)" opacity="0.96"/>
<circle cx="473.95" cy="63.17" r="2" fill="url(#gG)" opacity="0.82"/>
<circle cx="469.75" cy="68.13" r="2.12" fill="url(#gG)" opacity="0.76"/>
<circle cx="471.47" cy="68.1" r="2.08" fill="url(#gG)" opacity="0.8"/>
<circle cx="470.4" cy="71.41" r="2.46" fill="url(#gG)" opacity="0.9"/>
<circle cx="485.66" cy="49.86" r="1.85" fill="url(#gG)" opacity="0.86"/>
<circle cx="493.23" cy="52.09" r="2.03" fill="url(#gG)" opacity="0.97"/>
<circle cx="497.25" cy="49.23" r="1.81" fill="url(#gG)" opacity="0.75"/>
<circle cx="485.76" cy="53.2" r="1.71" fill="url(#gG)" opacity="0.9"/>
<circle cx="430.23" cy="92" r="1.55" fill="url(#gR)" opacity="0.72"/>
<circle cx="392" cy="88.22" r="1.77" fill="url(#gR)" opacity="0.73"/>
<circle cx="473.25" cy="71.73" r="1.59" fill="url(#gR)" opacity="0.59"/>
<circle cx="392.12" cy="70.46" r="1.78" fill="url(#gR)" opacity="0.64"/>
<circle cx="460.85" cy="80.01" r="2.24" fill="url(#gR)" opacity="0.66"/>
<circle cx="444.01" cy="33.94" r="1.71" fill="url(#gR)" opacity="0.7"/>
<circle cx="432.65" cy="72.36" r="2.19" fill="url(#gR)" opacity="0.57"/>
<circle cx="472.26" cy="28.21" r="1.62" fill="url(#gR)" opacity="0.64"/>
</g>
</g>
<text x="381.8" y="23.3" font-size="12.5" text-anchor="start" font-weight="normal" fill="#f4f4f4" >D. CCL21 + ICAM1</text>
<text x="386.4" y="38.6" font-size="12.5" text-anchor="start" font-weight="normal" fill="#f4f4f4" >+IL-6</text>
<text x="488.5" y="90.2" font-size="12.6" text-anchor="end" font-weight="normal" fill="#f4f4f4" >7d</text>
<rect x="380.9" y="85" width="16.3" height="1.4" fill="#eeeeee"/>
<text x="381.2" y="93.5" font-size="5.7" text-anchor="start" font-weight="bold" fill="#e8e8e8" >50 &#181;m</text>
<text x="12.6" y="118.2" font-size="12" text-anchor="start" font-weight="bold" fill="#000" >E</text>
<line x1="54" y1="108.8" x2="54" y2="199.5" stroke="#111" stroke-width="1.4"/>
<line x1="50.8" y1="198.8" x2="54" y2="198.8" stroke="#111" stroke-width="1.2"/>
<text x="47.4" y="201.75" font-size="8.4" text-anchor="end" font-weight="normal" fill="#1a1a1a" >0</text>
<line x1="50.8" y1="190.07" x2="54" y2="190.07" stroke="#111" stroke-width="1.2"/>
<text x="47.4" y="193.02" font-size="8.4" text-anchor="end" font-weight="normal" fill="#1a1a1a" >5</text>
<line x1="50.8" y1="181.34" x2="54" y2="181.34" stroke="#111" stroke-width="1.2"/>
<text x="47.4" y="184.29" font-size="8.4" text-anchor="end" font-weight="normal" fill="#1a1a1a" >10</text>
<line x1="50.8" y1="172.61" x2="54" y2="172.61" stroke="#111" stroke-width="1.2"/>
<text x="47.4" y="175.56" font-size="8.4" text-anchor="end" font-weight="normal" fill="#1a1a1a" >15</text>
<line x1="50.8" y1="163.88" x2="54" y2="163.88" stroke="#111" stroke-width="1.2"/>
<text x="47.4" y="166.83" font-size="8.4" text-anchor="end" font-weight="normal" fill="#1a1a1a" >20</text>
<line x1="50.8" y1="155.15" x2="54" y2="155.15" stroke="#111" stroke-width="1.2"/>
<text x="47.4" y="158.1" font-size="8.4" text-anchor="end" font-weight="normal" fill="#1a1a1a" >25</text>
<line x1="50.8" y1="146.42" x2="54" y2="146.42" stroke="#111" stroke-width="1.2"/>
<text x="47.4" y="149.37" font-size="8.4" text-anchor="end" font-weight="normal" fill="#1a1a1a" >30</text>
<line x1="50.8" y1="137.69" x2="54" y2="137.69" stroke="#111" stroke-width="1.2"/>
<text x="47.4" y="140.64" font-size="8.4" text-anchor="end" font-weight="normal" fill="#1a1a1a" >35</text>
<line x1="50.8" y1="128.96" x2="54" y2="128.96" stroke="#111" stroke-width="1.2"/>
<text x="47.4" y="131.91" font-size="8.4" text-anchor="end" font-weight="normal" fill="#1a1a1a" >40</text>
<line x1="50.8" y1="120.23" x2="54" y2="120.23" stroke="#111" stroke-width="1.2"/>
<text x="47.4" y="123.18" font-size="8.4" text-anchor="end" font-weight="normal" fill="#1a1a1a" >45</text>
<line x1="50.8" y1="111.5" x2="54" y2="111.5" stroke="#111" stroke-width="1.2"/>
<text x="47.4" y="114.45" font-size="8.4" text-anchor="end" font-weight="normal" fill="#1a1a1a" >50</text>
<line x1="53.3" y1="198.8" x2="244" y2="198.8" stroke="#111" stroke-width="1.4"/>
<rect x="65.8" y="145.5" width="24.2" height="53.3" fill="#a7012a"/>
<line x1="78.2" y1="143.6" x2="78.2" y2="147.4" stroke="#151515" stroke-width="1"/>
<line x1="76.6" y1="143.6" x2="79.8" y2="143.6" stroke="#151515" stroke-width="1.1"/>
<line x1="76.6" y1="147.4" x2="79.8" y2="147.4" stroke="#151515" stroke-width="1.1"/>
<rect x="113.1" y="165.2" width="24.6" height="33.6" fill="#324b7e"/>
<line x1="125.4" y1="162.2" x2="125.4" y2="168.4" stroke="#151515" stroke-width="1"/>
<line x1="123.8" y1="162.2" x2="127" y2="162.2" stroke="#151515" stroke-width="1.1"/>
<line x1="123.8" y1="168.4" x2="127" y2="168.4" stroke="#151515" stroke-width="1.1"/>
<rect x="161.2" y="138.4" width="23.7" height="60.4" fill="#552566"/>
<line x1="173" y1="136.5" x2="173" y2="140.3" stroke="#151515" stroke-width="1"/>
<line x1="171.4" y1="136.5" x2="174.6" y2="136.5" stroke="#151515" stroke-width="1.1"/>
<line x1="171.4" y1="140.3" x2="174.6" y2="140.3" stroke="#151515" stroke-width="1.1"/>
<rect x="208.1" y="174" width="24.5" height="24.8" fill="#da8e1c"/>
<line x1="220.4" y1="173.1" x2="220.4" y2="174.9" stroke="#151515" stroke-width="1"/>
<line x1="218.8" y1="173.1" x2="222" y2="173.1" stroke="#151515" stroke-width="1.1"/>
<line x1="218.8" y1="174.9" x2="222" y2="174.9" stroke="#151515" stroke-width="1.1"/>
<line x1="67" y1="131.9" x2="231.5" y2="131.9" stroke="#3a3a3a" stroke-width="1.4"/>
<circle cx="145.2" cy="126.7" r="1.25" fill="#1a1a1a"/>
<circle cx="149" cy="126.7" r="1.25" fill="#1a1a1a"/>
<line x1="67" y1="140.85" x2="137.7" y2="140.85" stroke="#3a3a3a" stroke-width="1.4"/>
<circle cx="102" cy="135.6" r="1.25" fill="#1a1a1a"/>
<text x="59.3" y="114.2" font-size="7.9" text-anchor="start" font-weight="normal" fill="#1a1a1a" >*, p&lt;0.05</text>
<text x="59.3" y="125.9" font-size="7.9" text-anchor="start" font-weight="normal" fill="#1a1a1a" >**, p&lt;0.01</text>
<text x="77.8" y="210.3" font-size="8" text-anchor="middle" font-weight="normal" fill="#1a1a1a" >No</text>
<text x="77.8" y="220.25" font-size="8" text-anchor="middle" font-weight="normal" fill="#1a1a1a" >Coating</text>
<text x="125.3" y="210.3" font-size="8" text-anchor="middle" font-weight="normal" fill="#1a1a1a" >IL-6</text>
<text x="173" y="210.3" font-size="8" text-anchor="middle" font-weight="normal" fill="#1a1a1a" >CCL21</text>
<text x="173" y="220.25" font-size="8" text-anchor="middle" font-weight="normal" fill="#1a1a1a" >+ICAM1</text>
<text x="220.5" y="210.3" font-size="8" text-anchor="middle" font-weight="normal" fill="#1a1a1a" >CCL21</text>
<text x="220.5" y="220.25" font-size="8" text-anchor="middle" font-weight="normal" fill="#1a1a1a" >+ICAM1</text>
<text x="220.5" y="230.2" font-size="8" text-anchor="middle" font-weight="normal" fill="#1a1a1a" >+IL-6</text>
<text x="0" y="0" font-size="8.4" font-weight="bold" text-anchor="middle" fill="#1a1a1a" transform="translate(31.2 153.75) rotate(-90) scale(0.78 1)">% dead cells</text>
<text x="257.6" y="117.6" font-size="12" text-anchor="start" font-weight="bold" fill="#000" >F</text>
<line x1="306" y1="110.4" x2="306" y2="201.8" stroke="#111" stroke-width="1.4"/>
<line x1="302.8" y1="198.8" x2="306" y2="198.8" stroke="#111" stroke-width="1.2"/>
<text x="299.4" y="201.75" font-size="8.4" text-anchor="end" font-weight="normal" fill="#1a1a1a" >0</text>
<line x1="302.8" y1="186.64" x2="306" y2="186.64" stroke="#111" stroke-width="1.2"/>
<text x="299.4" y="189.59" font-size="8.4" text-anchor="end" font-weight="normal" fill="#1a1a1a" >50</text>
<line x1="302.8" y1="174.48" x2="306" y2="174.48" stroke="#111" stroke-width="1.2"/>
<text x="299.4" y="177.43" font-size="8.4" text-anchor="end" font-weight="normal" fill="#1a1a1a" >100</text>
<line x1="302.8" y1="162.32" x2="306" y2="162.32" stroke="#111" stroke-width="1.2"/>
<text x="299.4" y="165.27" font-size="8.4" text-anchor="end" font-weight="normal" fill="#1a1a1a" >150</text>
<line x1="302.8" y1="150.16" x2="306" y2="150.16" stroke="#111" stroke-width="1.2"/>
<text x="299.4" y="153.11" font-size="8.4" text-anchor="end" font-weight="normal" fill="#1a1a1a" >200</text>
<line x1="302.8" y1="138" x2="306" y2="138" stroke="#111" stroke-width="1.2"/>
<text x="299.4" y="140.95" font-size="8.4" text-anchor="end" font-weight="normal" fill="#1a1a1a" >250</text>
<line x1="302.8" y1="125.84" x2="306" y2="125.84" stroke="#111" stroke-width="1.2"/>
<text x="299.4" y="128.79" font-size="8.4" text-anchor="end" font-weight="normal" fill="#1a1a1a" >300</text>
<line x1="302.8" y1="113.68" x2="306" y2="113.68" stroke="#111" stroke-width="1.2"/>
<text x="299.4" y="116.63" font-size="8.4" text-anchor="end" font-weight="normal" fill="#1a1a1a" >350</text>
<line x1="305.3" y1="198.8" x2="493.8" y2="198.8" stroke="#111" stroke-width="1.4"/>
<line x1="353" y1="198.8" x2="353" y2="201.6" stroke="#111" stroke-width="1.2"/>
<line x1="398" y1="198.8" x2="398" y2="201.6" stroke="#111" stroke-width="1.2"/>
<line x1="444.2" y1="198.8" x2="444.2" y2="201.6" stroke="#111" stroke-width="1.2"/>
<line x1="490" y1="198.8" x2="490" y2="201.6" stroke="#111" stroke-width="1.2"/>
<rect x="317.8" y="191.25" width="24.3" height="7.55" fill="#a7012a"/>
<line x1="330" y1="190.4" x2="330" y2="192.2" stroke="#151515" stroke-width="1"/>
<line x1="328.4" y1="190.4" x2="331.6" y2="190.4" stroke="#151515" stroke-width="1.1"/>
<line x1="328.4" y1="192.2" x2="331.6" y2="192.2" stroke="#151515" stroke-width="1.1"/>
<rect x="363.75" y="172.5" width="23.75" height="26.3" fill="#324b7e"/>
<line x1="375.75" y1="170" x2="375.75" y2="175" stroke="#151515" stroke-width="1"/>
<line x1="374.15" y1="170" x2="377.35" y2="170" stroke="#151515" stroke-width="1.1"/>
<line x1="374.15" y1="175" x2="377.35" y2="175" stroke="#151515" stroke-width="1.1"/>
<rect x="409.5" y="159.5" width="24.25" height="39.3" fill="#552566"/>
<line x1="421.25" y1="156.3" x2="421.25" y2="162.5" stroke="#151515" stroke-width="1"/>
<line x1="419.65" y1="156.3" x2="422.85" y2="156.3" stroke="#151515" stroke-width="1.1"/>
<line x1="419.65" y1="162.5" x2="422.85" y2="162.5" stroke="#151515" stroke-width="1.1"/>
<rect x="455" y="136.25" width="24.25" height="62.55" fill="#da8e1c"/>
<line x1="467" y1="133.3" x2="467" y2="139.5" stroke="#151515" stroke-width="1"/>
<line x1="465.4" y1="133.3" x2="468.6" y2="133.3" stroke="#151515" stroke-width="1.1"/>
<line x1="465.4" y1="139.5" x2="468.6" y2="139.5" stroke="#151515" stroke-width="1.1"/>
<line x1="408.25" y1="117.5" x2="476.75" y2="117.5" stroke="#3a3a3a" stroke-width="1.4"/>
<circle cx="441.1" cy="113" r="1.25" fill="#1a1a1a"/>
<circle cx="444.9" cy="113" r="1.25" fill="#1a1a1a"/>
<line x1="320.5" y1="131.75" x2="476.75" y2="131.75" stroke="#3a3a3a" stroke-width="1.4"/>
<circle cx="391.9" cy="128" r="1.25" fill="#1a1a1a"/>
<circle cx="395.7" cy="128" r="1.25" fill="#1a1a1a"/>
<line x1="320.5" y1="153.6" x2="430.3" y2="153.6" stroke="#3a3a3a" stroke-width="1.4"/>
<circle cx="372.6" cy="150" r="1.25" fill="#1a1a1a"/>
<circle cx="376.4" cy="150" r="1.25" fill="#1a1a1a"/>
<line x1="320.5" y1="167.5" x2="384.5" y2="167.5" stroke="#3a3a3a" stroke-width="1.4"/>
<circle cx="351.1" cy="163.8" r="1.25" fill="#1a1a1a"/>
<circle cx="354.9" cy="163.8" r="1.25" fill="#1a1a1a"/>
<text x="309.5" y="120.8" font-size="7.9" text-anchor="start" font-weight="normal" fill="#1a1a1a" >**, p&lt;0.01</text>
<text x="329.6" y="210.6" font-size="8" text-anchor="middle" font-weight="normal" fill="#1a1a1a" >No</text>
<text x="329.6" y="220.55" font-size="8" text-anchor="middle" font-weight="normal" fill="#1a1a1a" >Coating</text>
<text x="375.6" y="210.6" font-size="8" text-anchor="middle" font-weight="normal" fill="#1a1a1a" >IL-6</text>
<text x="421.6" y="210.6" font-size="8" text-anchor="middle" font-weight="normal" fill="#1a1a1a" >CCL21</text>
<text x="421.6" y="220.55" font-size="8" text-anchor="middle" font-weight="normal" fill="#1a1a1a" >+ICAM1</text>
<text x="467.1" y="210.6" font-size="8" text-anchor="middle" font-weight="normal" fill="#1a1a1a" >CCL21</text>
<text x="467.1" y="220.55" font-size="8" text-anchor="middle" font-weight="normal" fill="#1a1a1a" >+ICAM1</text>
<text x="467.1" y="230.5" font-size="8" text-anchor="middle" font-weight="normal" fill="#1a1a1a" >+IL-6</text>
<text x="0" y="0" font-size="8.1" font-weight="bold" text-anchor="middle" fill="#1a1a1a" transform="translate(280.2 154.8) rotate(-90) scale(0.82 1)">x10<tspan font-size="5.6" dy="-3">3</tspan><tspan dy="3"> cells per well</tspan></text>
<text x="11.8" y="252.2" font-size="11.5" text-anchor="start" font-weight="bold" fill="#000" >G</text>
<path d="M174 337.4 L176 337 L180 332.5 L182.9 328 L185.8 327.3 L188.7 328.7 L191.5 325.8 L194.4 314.2 L196.3 293 L198.3 268 L200.6 252.3 L202.7 264.2 L205 287.3 L206.9 308.5 L209.8 323.8 L212.7 333.5 L215.6 337.2 L220 337.4" fill="none" stroke="#6fae5a" stroke-width="1.3" stroke-linejoin="round"/>
<path d="M154 337.4 L158.8 337.3 L166.5 335.4 L169.4 333.8 L172.3 335.4 L177 337 L180 329.6 L182 322 L183.8 318 L185.8 318 L187.7 310.4 L189.6 304.6 L191.5 302.7 L193.5 304.6 L195.4 310.4 L197.3 312.3 L199.2 318 L200.8 314.2 L202.1 317 L203.5 322 L206 329.6 L208.8 335.4 L210.8 337.3 L216 337.4" fill="none" stroke="#8c1c44" stroke-width="1.3" stroke-linejoin="round"/>
<path d="M144 337.4 L152 337.3 L156 329.6 L159.8 320 L163.6 309.4 L166.5 308.5 L168.5 302.7 L170.4 295 L172.3 289.2 L173.8 283.5 L175.2 286.3 L176.5 277.7 L178 273.8 L179.6 271.9 L181 283.5 L182.3 291.2 L183.8 281.5 L185.2 280.6 L186.7 291.2 L188 304.6 L189.6 310.4 L191.2 308.5 L193 318 L195.4 325.8 L198.3 329.6 L201.2 333.5 L205 336.3 L208.8 337.3 L214 337.4" fill="none" stroke="#4a2466" stroke-width="1.3" stroke-linejoin="round"/>
<path d="M146 337.4 L153 337.3 L158.8 335.4 L161.7 325.8 L164.6 310.4 L167.5 297 L169.4 283.5 L171.3 266.2 L172.7 263.3 L174.2 264.2 L175.2 262.3 L176.5 266.2 L178 259.4 L179.2 264.2 L180.6 273.8 L181.9 289.2 L183.8 295 L185.8 298.8 L187.7 306.5 L189.6 314.2 L191.5 323.8 L193.5 331.5 L196.3 335.4 L201.2 337.3 L206 337.4" fill="none" stroke="#dc9a3a" stroke-width="1.3" stroke-linejoin="round"/>
<rect x="131.5" y="246.6" width="93.8" height="91.2" fill="none" stroke="#000" stroke-width="1.7"/>
<line x1="131.5" y1="339.4" x2="225.3" y2="339.4" stroke="#111" stroke-width="1.5"/>
<line x1="132.5" y1="337.8" x2="132.5" y2="340.4" stroke="#000" stroke-width="0.8"/>
<line x1="134.46" y1="337.8" x2="134.46" y2="339.8" stroke="#000" stroke-width="0.8"/>
<line x1="137.17" y1="337.8" x2="137.17" y2="340.4" stroke="#000" stroke-width="0.8"/>
<line x1="139.68" y1="337.8" x2="139.68" y2="340.4" stroke="#000" stroke-width="0.8"/>
<line x1="141.32" y1="337.8" x2="141.32" y2="339.8" stroke="#000" stroke-width="0.8"/>
<line x1="144.01" y1="337.8" x2="144.01" y2="339.2" stroke="#000" stroke-width="0.8"/>
<line x1="149.2" y1="337.8" x2="149.2" y2="340.8" stroke="#000" stroke-width="1"/>
<line x1="155.7" y1="337.8" x2="155.7" y2="339.8" stroke="#000" stroke-width="0.8"/>
<line x1="159.51" y1="337.8" x2="159.51" y2="339.8" stroke="#000" stroke-width="0.8"/>
<line x1="162.2" y1="337.8" x2="162.2" y2="339.8" stroke="#000" stroke-width="0.8"/>
<line x1="164.3" y1="337.8" x2="164.3" y2="339.8" stroke="#000" stroke-width="0.8"/>
<line x1="166.01" y1="337.8" x2="166.01" y2="339.8" stroke="#000" stroke-width="0.8"/>
<line x1="167.45" y1="337.8" x2="167.45" y2="339.8" stroke="#000" stroke-width="0.8"/>
<line x1="168.71" y1="337.8" x2="168.71" y2="339.8" stroke="#000" stroke-width="0.8"/>
<line x1="169.81" y1="337.8" x2="169.81" y2="339.8" stroke="#000" stroke-width="0.8"/>
<line x1="171.4" y1="337.8" x2="171.4" y2="340.8" stroke="#000" stroke-width="1"/>
<line x1="177.9" y1="337.8" x2="177.9" y2="339.8" stroke="#000" stroke-width="0.8"/>
<line x1="181.71" y1="337.8" x2="181.71" y2="339.8" stroke="#000" stroke-width="0.8"/>
<line x1="184.4" y1="337.8" x2="184.4" y2="339.8" stroke="#000" stroke-width="0.8"/>
<line x1="186.5" y1="337.8" x2="186.5" y2="339.8" stroke="#000" stroke-width="0.8"/>
<line x1="188.21" y1="337.8" x2="188.21" y2="339.8" stroke="#000" stroke-width="0.8"/>
<line x1="189.65" y1="337.8" x2="189.65" y2="339.8" stroke="#000" stroke-width="0.8"/>
<line x1="190.91" y1="337.8" x2="190.91" y2="339.8" stroke="#000" stroke-width="0.8"/>
<line x1="192.01" y1="337.8" x2="192.01" y2="339.8" stroke="#000" stroke-width="0.8"/>
<line x1="193" y1="337.8" x2="193" y2="340.8" stroke="#000" stroke-width="1"/>
<line x1="199.5" y1="337.8" x2="199.5" y2="339.8" stroke="#000" stroke-width="0.8"/>
<line x1="203.31" y1="337.8" x2="203.31" y2="339.8" stroke="#000" stroke-width="0.8"/>
<line x1="206" y1="337.8" x2="206" y2="339.8" stroke="#000" stroke-width="0.8"/>
<line x1="208.1" y1="337.8" x2="208.1" y2="339.8" stroke="#000" stroke-width="0.8"/>
<line x1="209.81" y1="337.8" x2="209.81" y2="339.8" stroke="#000" stroke-width="0.8"/>
<line x1="211.25" y1="337.8" x2="211.25" y2="339.8" stroke="#000" stroke-width="0.8"/>
<line x1="212.51" y1="337.8" x2="212.51" y2="339.8" stroke="#000" stroke-width="0.8"/>
<line x1="213.61" y1="337.8" x2="213.61" y2="339.8" stroke="#000" stroke-width="0.8"/>
<line x1="213.8" y1="337.8" x2="213.8" y2="340.8" stroke="#000" stroke-width="1"/>
<line x1="220.3" y1="337.8" x2="220.3" y2="339.8" stroke="#000" stroke-width="0.8"/>
<line x1="224.11" y1="337.8" x2="224.11" y2="339.8" stroke="#000" stroke-width="0.8"/>
<line x1="128.5" y1="337.8" x2="131.5" y2="337.8" stroke="#000" stroke-width="1"/>
<text x="124.6" y="340.2" font-size="6.8" text-anchor="middle" font-weight="normal" fill="#1a1a1a" >0</text>
<text x="138.7" y="349.8" font-size="6.7" text-anchor="middle" font-weight="normal" fill="#1a1a1a" >0</text>
<text x="146.3" y="349.8" font-size="6.7" text-anchor="start" font-weight="normal" fill="#1a1a1a" >10<tspan font-size="4.6" dy="-2.2">2</tspan></text>
<text x="168" y="349.8" font-size="6.7" text-anchor="start" font-weight="normal" fill="#1a1a1a" >10<tspan font-size="4.6" dy="-2.2">3</tspan></text>
<text x="189.6" y="349.8" font-size="6.7" text-anchor="start" font-weight="normal" fill="#1a1a1a" >10<tspan font-size="4.6" dy="-2.2">4</tspan></text>
<text x="210.2" y="349.8" font-size="6.7" text-anchor="start" font-weight="normal" fill="#1a1a1a" >10<tspan font-size="4.6" dy="-2.2">5</tspan></text>
<text x="0" y="0" font-size="9.7" font-weight="bold" text-anchor="middle" fill="#1a1a1a" transform="translate(177.7 363.5) scale(0.63 1)">CFSE</text>
<text x="0" y="0" font-size="10.1" font-weight="bold" text-anchor="middle" fill="#1a1a1a" transform="translate(118.6 292.35) rotate(-90) scale(0.58 1)">Count</text>
<text x="68.5" y="249.2" font-size="8.85" text-anchor="middle" font-weight="bold" fill="#000" >Antigen-</text>
<text x="68.5" y="259.8" font-size="8.85" text-anchor="middle" font-weight="bold" fill="#000" >loaded</text>
<text x="68.5" y="270.4" font-size="8.85" text-anchor="middle" font-weight="bold" fill="#000" >DCs</text>
<text x="68.5" y="281" font-size="8.85" text-anchor="middle" font-weight="bold" fill="#000" >Activation</text>
<text x="40.4" y="292.2" font-size="7.5" text-anchor="start" font-weight="normal" fill="#7db86a" >Non-Activated</text>
<text x="40.4" y="304.7" font-size="7.5" text-anchor="start" font-weight="normal" fill="#8c2a55" >No-Coating</text>
<text x="40.4" y="317.4" font-size="7.5" text-anchor="start" font-weight="normal" fill="#46325c" letter-spacing="0.2">CCL21+ICAM1</text>
<text x="40.4" y="329.7" font-size="7.5" text-anchor="start" font-weight="normal" fill="#d8a04c" letter-spacing="0.2">CCL21+ICAM1</text>
<text x="40.4" y="339.3" font-size="7.5" text-anchor="start" font-weight="normal" fill="#d8a04c" >+IL-6</text>
<text x="256.6" y="251.4" font-size="12" text-anchor="start" font-weight="bold" fill="#000" >H</text>
<line x1="306" y1="251.9" x2="306" y2="325" stroke="#111" stroke-width="1.4"/>
<line x1="302.8" y1="324.3" x2="306" y2="324.3" stroke="#111" stroke-width="1.2"/>
<text x="299.4" y="327.25" font-size="8.4" text-anchor="end" font-weight="normal" fill="#1a1a1a" >0</text>
<line x1="302.8" y1="316.56" x2="306" y2="316.56" stroke="#111" stroke-width="1.2"/>
<text x="299.4" y="319.51" font-size="8.4" text-anchor="end" font-weight="normal" fill="#1a1a1a" >1000</text>
<line x1="302.8" y1="308.82" x2="306" y2="308.82" stroke="#111" stroke-width="1.2"/>
<text x="299.4" y="311.77" font-size="8.4" text-anchor="end" font-weight="normal" fill="#1a1a1a" >2000</text>
<line x1="302.8" y1="301.08" x2="306" y2="301.08" stroke="#111" stroke-width="1.2"/>
<text x="299.4" y="304.03" font-size="8.4" text-anchor="end" font-weight="normal" fill="#1a1a1a" >3000</text>
<line x1="302.8" y1="293.34" x2="306" y2="293.34" stroke="#111" stroke-width="1.2"/>
<text x="299.4" y="296.29" font-size="8.4" text-anchor="end" font-weight="normal" fill="#1a1a1a" >4000</text>
<line x1="302.8" y1="285.6" x2="306" y2="285.6" stroke="#111" stroke-width="1.2"/>
<text x="299.4" y="288.55" font-size="8.4" text-anchor="end" font-weight="normal" fill="#1a1a1a" >5000</text>
<line x1="302.8" y1="277.86" x2="306" y2="277.86" stroke="#111" stroke-width="1.2"/>
<text x="299.4" y="280.81" font-size="8.4" text-anchor="end" font-weight="normal" fill="#1a1a1a" >6000</text>
<line x1="302.8" y1="270.12" x2="306" y2="270.12" stroke="#111" stroke-width="1.2"/>
<text x="299.4" y="273.07" font-size="8.4" text-anchor="end" font-weight="normal" fill="#1a1a1a" >7000</text>
<line x1="302.8" y1="262.38" x2="306" y2="262.38" stroke="#111" stroke-width="1.2"/>
<text x="299.4" y="265.33" font-size="8.4" text-anchor="end" font-weight="normal" fill="#1a1a1a" >8000</text>
<line x1="302.8" y1="254.64" x2="306" y2="254.64" stroke="#111" stroke-width="1.2"/>
<text x="299.4" y="257.59" font-size="8.4" text-anchor="end" font-weight="normal" fill="#1a1a1a" >9000</text>
<line x1="305.3" y1="324.3" x2="429" y2="324.3" stroke="#111" stroke-width="1.4"/>
<rect x="314.6" y="268.8" width="24.2" height="55.5" fill="#a7012a"/>
<line x1="326.4" y1="260.8" x2="326.4" y2="277.4" stroke="#151515" stroke-width="1"/>
<line x1="324.8" y1="260.8" x2="328" y2="260.8" stroke="#151515" stroke-width="1.1"/>
<line x1="324.8" y1="277.4" x2="328" y2="277.4" stroke="#151515" stroke-width="1.1"/>
<rect x="355.5" y="309.9" width="24.2" height="14.4" fill="#552566"/>
<line x1="367.6" y1="309" x2="367.6" y2="310.8" stroke="#151515" stroke-width="1"/>
<line x1="366" y1="309" x2="369.2" y2="309" stroke="#151515" stroke-width="1.1"/>
<line x1="366" y1="310.8" x2="369.2" y2="310.8" stroke="#151515" stroke-width="1.1"/>
<rect x="397" y="315" width="24.5" height="9.3" fill="#da8e1c"/>
<line x1="409.2" y1="314.3" x2="409.2" y2="315.7" stroke="#151515" stroke-width="1"/>
<line x1="407.6" y1="314.3" x2="410.8" y2="314.3" stroke="#151515" stroke-width="1.1"/>
<line x1="407.6" y1="315.7" x2="410.8" y2="315.7" stroke="#151515" stroke-width="1.1"/>
<line x1="316.5" y1="250.6" x2="418" y2="250.6" stroke="#3a3a3a" stroke-width="1.4"/>
<circle cx="363" cy="246.6" r="1.25" fill="#1a1a1a"/>
<circle cx="366.8" cy="246.6" r="1.25" fill="#1a1a1a"/>
<circle cx="370.6" cy="246.6" r="1.25" fill="#1a1a1a"/>
<line x1="316.5" y1="259.3" x2="359.6" y2="259.3" stroke="#3a3a3a" stroke-width="1.4"/>
<circle cx="333.9" cy="255.7" r="1.25" fill="#1a1a1a"/>
<circle cx="337.7" cy="255.7" r="1.25" fill="#1a1a1a"/>
<circle cx="341.5" cy="255.7" r="1.25" fill="#1a1a1a"/>
<text x="373.6" y="264.6" font-size="7.95" text-anchor="start" font-weight="normal" fill="#1a1a1a" >***, p&lt;0.001</text>
<text x="327" y="334.6" font-size="8" text-anchor="middle" font-weight="normal" fill="#1a1a1a" >No</text>
<text x="327" y="344.55" font-size="8" text-anchor="middle" font-weight="normal" fill="#1a1a1a" >Coating</text>
<text x="368" y="334.6" font-size="8" text-anchor="middle" font-weight="normal" fill="#1a1a1a" >CCL21</text>
<text x="368" y="344.55" font-size="8" text-anchor="middle" font-weight="normal" fill="#1a1a1a" >+ICAM1</text>
<text x="409.2" y="334.6" font-size="8" text-anchor="middle" font-weight="normal" fill="#1a1a1a" >CCL21</text>
<text x="409.2" y="344.55" font-size="8" text-anchor="middle" font-weight="normal" fill="#1a1a1a" >+ICAM1</text>
<text x="409.2" y="354.5" font-size="8" text-anchor="middle" font-weight="normal" fill="#1a1a1a" >+IL-6</text>
<text x="0" y="0" font-size="8.9" font-weight="bold" text-anchor="middle" fill="#1a1a1a" transform="translate(273.9 288.4) rotate(-90) scale(0.71 1)">Mean CFSE</text>
<text x="14.8" y="405.2" font-size="12" text-anchor="start" font-weight="bold" fill="#000" >I</text>
<line x1="54.1" y1="412.9" x2="54.1" y2="531.3" stroke="#111" stroke-width="1.4"/>
<line x1="50.9" y1="528.3" x2="54.1" y2="528.3" stroke="#111" stroke-width="1.2"/>
<text x="47.9" y="531.25" font-size="8.4" text-anchor="end" font-weight="normal" fill="#1a1a1a" >0</text>
<line x1="50.9" y1="512.33" x2="54.1" y2="512.33" stroke="#111" stroke-width="1.2"/>
<text x="47.9" y="515.28" font-size="8.4" text-anchor="end" font-weight="normal" fill="#1a1a1a" >1</text>
<line x1="50.9" y1="496.36" x2="54.1" y2="496.36" stroke="#111" stroke-width="1.2"/>
<text x="47.9" y="499.31" font-size="8.4" text-anchor="end" font-weight="normal" fill="#1a1a1a" >2</text>
<line x1="50.9" y1="480.39" x2="54.1" y2="480.39" stroke="#111" stroke-width="1.2"/>
<text x="47.9" y="483.34" font-size="8.4" text-anchor="end" font-weight="normal" fill="#1a1a1a" >3</text>
<line x1="50.9" y1="464.42" x2="54.1" y2="464.42" stroke="#111" stroke-width="1.2"/>
<text x="47.9" y="467.37" font-size="8.4" text-anchor="end" font-weight="normal" fill="#1a1a1a" >4</text>
<line x1="50.9" y1="448.45" x2="54.1" y2="448.45" stroke="#111" stroke-width="1.2"/>
<text x="47.9" y="451.4" font-size="8.4" text-anchor="end" font-weight="normal" fill="#1a1a1a" >5</text>
<line x1="50.9" y1="432.48" x2="54.1" y2="432.48" stroke="#111" stroke-width="1.2"/>
<text x="47.9" y="435.43" font-size="8.4" text-anchor="end" font-weight="normal" fill="#1a1a1a" >6</text>
<line x1="50.9" y1="416.51" x2="54.1" y2="416.51" stroke="#111" stroke-width="1.2"/>
<text x="47.9" y="419.46" font-size="8.4" text-anchor="end" font-weight="normal" fill="#1a1a1a" >7</text>
<line x1="53.4" y1="528.3" x2="246.3" y2="528.3" stroke="#111" stroke-width="1.4"/>
<line x1="148.75" y1="528.3" x2="148.75" y2="531.1" stroke="#111" stroke-width="1.2"/>
<line x1="244.5" y1="528.3" x2="244.5" y2="531.1" stroke="#111" stroke-width="1.2"/>
<rect x="75" y="520" width="26.25" height="8.3" fill="#a7012a"/>
<line x1="88" y1="515.5" x2="88" y2="523.8" stroke="#151515" stroke-width="1"/>
<line x1="86.4" y1="515.5" x2="89.6" y2="515.5" stroke="#151515" stroke-width="1.1"/>
<line x1="86.4" y1="523.8" x2="89.6" y2="523.8" stroke="#151515" stroke-width="1.1"/>
<rect x="101.25" y="512.5" width="27.5" height="15.8" fill="#324b7e"/>
<line x1="115" y1="510.2" x2="115" y2="514.3" stroke="#151515" stroke-width="1"/>
<line x1="113.4" y1="510.2" x2="116.6" y2="510.2" stroke="#151515" stroke-width="1.1"/>
<line x1="113.4" y1="514.3" x2="116.6" y2="514.3" stroke="#151515" stroke-width="1.1"/>
<rect x="170" y="480.5" width="26.25" height="47.8" fill="#a7012a"/>
<line x1="183.1" y1="474.5" x2="183.1" y2="487" stroke="#151515" stroke-width="1"/>
<line x1="181.5" y1="474.5" x2="184.7" y2="474.5" stroke="#151515" stroke-width="1.1"/>
<line x1="181.5" y1="487" x2="184.7" y2="487" stroke="#151515" stroke-width="1.1"/>
<rect x="196.25" y="441.75" width="27" height="86.55" fill="#324b7e"/>
<line x1="209.9" y1="434.3" x2="209.9" y2="450" stroke="#151515" stroke-width="1"/>
<line x1="208.3" y1="434.3" x2="211.5" y2="434.3" stroke="#151515" stroke-width="1.1"/>
<line x1="208.3" y1="450" x2="211.5" y2="450" stroke="#151515" stroke-width="1.1"/>
<line x1="167" y1="429.5" x2="227" y2="429.5" stroke="#3a3a3a" stroke-width="1.4"/>
<circle cx="193.2" cy="425.8" r="1.25" fill="#1a1a1a"/>
<circle cx="197" cy="425.8" r="1.25" fill="#1a1a1a"/>
<circle cx="200.8" cy="425.8" r="1.25" fill="#1a1a1a"/>
<text x="65.5" y="495.3" font-size="7.95" text-anchor="start" font-weight="normal" fill="#1a1a1a" >***, p&lt;0.001</text>
<rect x="61.1" y="417" width="5.4" height="5.1" fill="#a7012a"/>
<text x="70" y="422.1" font-size="8.15" text-anchor="start" font-weight="normal" fill="#1a1a1a" >Beads + IL-2 Activation</text>
<rect x="61.1" y="429.2" width="5.4" height="5" fill="#324b7e"/>
<text x="70" y="434.2" font-size="8.2" text-anchor="start" font-weight="normal" fill="#1a1a1a" >DCs + Ag Activation</text>
<text x="101.6" y="541.5" font-size="8.1" text-anchor="middle" font-weight="normal" fill="#1a1a1a" >No Coating</text>
<text x="196.6" y="543.1" font-size="8.2" text-anchor="middle" font-weight="normal" fill="#1a1a1a" letter-spacing="0.2">CCL21+ICAM1+IL-6</text>
<text x="0" y="0" font-size="9.2" font-weight="bold" text-anchor="middle" fill="#1a1a1a" transform="translate(37.2 470.9) rotate(-90) scale(0.69 1)">Cell number</text>
<text x="0" y="0" font-size="6.6" letter-spacing="0.7" text-anchor="middle" fill="#1a1a1a" transform="translate(37.2 424.5) rotate(-90)">x 10<tspan font-size="4.8" dy="-2.6">5</tspan></text>
<defs><clipPath id="c21"><rect x="263.4" y="389" width="123.4" height="91.6"/></clipPath><clipPath id="c22"><rect x="389.5" y="389" width="123.4" height="91.6"/></clipPath><clipPath id="c23"><rect x="263.4" y="501.7" width="123.5" height="91.2"/></clipPath><clipPath id="c24"><rect x="389.3" y="501.7" width="123.8" height="91.2"/></clipPath></defs>
<text x="388.3" y="383.7" font-size="8.9" text-anchor="middle" font-weight="bold" fill="#000" >Beads + IL-2 Activation</text>
<text x="388.3" y="496.6" font-size="8.9" text-anchor="middle" font-weight="bold" fill="#000" >Antigen-loaded DCs Activation</text>
<rect x="263.4" y="389" width="123.4" height="91.6" fill="#adadad"/>
<g clip-path="url(#c21)">
<g filter="url(#blurBig)">
<circle cx="283.75" cy="452.18" r="17.62" fill="#808080" opacity="0.10"/>
<circle cx="367.46" cy="479.66" r="15.7" fill="#ffffff" opacity="0.10"/>
<circle cx="325.73" cy="410.62" r="10.04" fill="#808080" opacity="0.10"/>
<circle cx="378.5" cy="428.22" r="11.74" fill="#ffffff" opacity="0.10"/>
<circle cx="377.11" cy="452.56" r="15.24" fill="#808080" opacity="0.10"/>
<circle cx="339.4" cy="392.12" r="13.95" fill="#808080" opacity="0.10"/>
<circle cx="349.03" cy="448.43" r="21.25" fill="#ffffff" opacity="0.10"/>
<circle cx="282.5" cy="463.88" r="11.5" fill="#ffffff" opacity="0.10"/>
<circle cx="319.32" cy="439.56" r="14.12" fill="#808080" opacity="0.10"/>
<circle cx="282.05" cy="449.92" r="15.64" fill="#ffffff" opacity="0.10"/>
</g>
<g filter="url(#blurS)">
<circle cx="272.61" cy="407.08" r="0.94" fill="#5a5a5a" opacity="0.6"/>
<circle cx="362.48" cy="449.27" r="1.07" fill="#5a5a5a" opacity="0.6"/>
<circle cx="374.14" cy="479.58" r="0.64" fill="#5a5a5a" opacity="0.6"/>
<circle cx="332.52" cy="440.2" r="0.79" fill="#5a5a5a" opacity="0.6"/>
<circle cx="305.51" cy="402.39" r="0.87" fill="#5a5a5a" opacity="0.6"/>
<circle cx="299.43" cy="476.43" r="0.85" fill="#5a5a5a" opacity="0.6"/>
<circle cx="302.64" cy="433.38" r="0.73" fill="#5a5a5a" opacity="0.6"/>
<circle cx="366.33" cy="403.56" r="0.96" fill="#5a5a5a" opacity="0.6"/>
<circle cx="297.5" cy="421" r="1.2" fill="#555" opacity="0.7"/>
<circle cx="296" cy="457.5" r="1.3" fill="#555" opacity="0.7"/>
<circle cx="292.5" cy="459.5" r="1" fill="#555" opacity="0.7"/>
<circle cx="358.8" cy="421" r="1" fill="#555" opacity="0.7"/>
<circle cx="342.5" cy="433.8" r="1.1" fill="#555" opacity="0.7"/>
<circle cx="326" cy="458.8" r="1.1" fill="#555" opacity="0.7"/>
<circle cx="283" cy="413" r="0.9" fill="#555" opacity="0.7"/>
<g fill="#6a6a6a" fill-opacity="0.35"><circle cx="385.1" cy="389.8" r="1.3"/><circle cx="337.9" cy="437.3" r="1.6"/><circle cx="303.2" cy="479.3" r="1.4"/><circle cx="346.5" cy="446.9" r="1.8"/><circle cx="304.9" cy="459.3" r="1.8"/><circle cx="294.2" cy="405" r="1.8"/><circle cx="285.4" cy="428.8" r="1.4"/><circle cx="268.4" cy="437.1" r="1.7"/><circle cx="293.7" cy="473.6" r="1.4"/><circle cx="355.4" cy="390.8" r="1.5"/><circle cx="326.4" cy="450.6" r="1.8"/><circle cx="294.2" cy="441" r="1.5"/><circle cx="314.2" cy="457.4" r="1.3"/><circle cx="299.4" cy="467.7" r="1.7"/><circle cx="371.5" cy="396.5" r="1.5"/><circle cx="370.5" cy="403" r="1.4"/><circle cx="340.5" cy="431.5" r="1.5"/><circle cx="338.5" cy="436.5" r="1.4"/><circle cx="302.5" cy="413.5" r="1.3"/><circle cx="330.5" cy="455.5" r="1.4"/></g>
<g fill="#c2c2c2"><circle cx="384.6" cy="389.3" r="0.9"/><circle cx="337.4" cy="436.8" r="1.2"/><circle cx="302.7" cy="478.8" r="1"/><circle cx="346" cy="446.4" r="1.4"/><circle cx="304.4" cy="458.8" r="1.4"/><circle cx="293.7" cy="404.5" r="1.4"/><circle cx="284.9" cy="428.3" r="1"/><circle cx="267.9" cy="436.6" r="1.3"/><circle cx="293.2" cy="473.1" r="1"/><circle cx="354.9" cy="390.3" r="1.1"/><circle cx="325.9" cy="450.1" r="1.4"/><circle cx="293.7" cy="440.5" r="1.1"/><circle cx="313.7" cy="456.9" r="0.9"/><circle cx="298.9" cy="467.2" r="1.3"/><circle cx="371" cy="396" r="1.1"/><circle cx="370" cy="402.5" r="1"/><circle cx="340" cy="431" r="1.1"/><circle cx="338" cy="436" r="1"/><circle cx="302" cy="413" r="0.9"/><circle cx="330" cy="455" r="1"/></g>
</g>
</g>
<text x="270.6" y="405.7" font-size="12.6" text-anchor="start" font-weight="bold" fill="#000" >J. No Coating</text>
<rect x="269.7" y="465.3" width="14.5" height="1.7" fill="#000"/>
<text x="265.4" y="475.3" font-size="7.5" text-anchor="start" font-weight="bold" fill="#000" >50 &#181;m</text>
<rect x="389.5" y="389" width="123.4" height="91.6" fill="#adadad"/>
<g clip-path="url(#c22)">
<g filter="url(#blurBig)">
<circle cx="507.74" cy="401.86" r="10.28" fill="#808080" opacity="0.10"/>
<circle cx="412.24" cy="400.05" r="17.82" fill="#808080" opacity="0.10"/>
<circle cx="487.3" cy="396.3" r="13.23" fill="#ffffff" opacity="0.10"/>
<circle cx="428.92" cy="444.06" r="21.19" fill="#808080" opacity="0.10"/>
<circle cx="476.88" cy="393.44" r="20.58" fill="#808080" opacity="0.10"/>
<circle cx="427.84" cy="406.42" r="20.2" fill="#ffffff" opacity="0.10"/>
<circle cx="475.68" cy="445.09" r="13.1" fill="#808080" opacity="0.10"/>
<circle cx="428.06" cy="460.55" r="21.46" fill="#ffffff" opacity="0.10"/>
<circle cx="423.99" cy="413.79" r="18.3" fill="#808080" opacity="0.10"/>
<circle cx="395.56" cy="437.71" r="10.39" fill="#808080" opacity="0.10"/>
</g>
<g filter="url(#blurS)">
<circle cx="451.97" cy="436.39" r="0.8" fill="#5a5a5a" opacity="0.6"/>
<circle cx="471.07" cy="472.95" r="0.75" fill="#5a5a5a" opacity="0.6"/>
<circle cx="435.62" cy="442.37" r="0.75" fill="#5a5a5a" opacity="0.6"/>
<circle cx="463" cy="438.75" r="0.82" fill="#5a5a5a" opacity="0.6"/>
<circle cx="472.58" cy="437.39" r="0.64" fill="#5a5a5a" opacity="0.6"/>
<circle cx="512.47" cy="421.58" r="0.82" fill="#5a5a5a" opacity="0.6"/>
<circle cx="439.21" cy="474.14" r="1.08" fill="#5a5a5a" opacity="0.6"/>
<circle cx="452.68" cy="425.7" r="0.65" fill="#5a5a5a" opacity="0.6"/>
<circle cx="500" cy="404.7" r="0.87" fill="#5a5a5a" opacity="0.6"/>
<circle cx="432.58" cy="419.07" r="0.78" fill="#5a5a5a" opacity="0.6"/>
<g fill="#6a6a6a" fill-opacity="0.28"><circle cx="413.6" cy="392.9" r="1.5"/><circle cx="488.2" cy="448.8" r="1.3"/><circle cx="475.6" cy="394.3" r="1.4"/><circle cx="492.2" cy="473.9" r="1.4"/><circle cx="494.5" cy="435.2" r="1.5"/><circle cx="462.1" cy="480.3" r="1.6"/><circle cx="448.4" cy="456.1" r="1.5"/><circle cx="433.7" cy="461.3" r="1.6"/><circle cx="465.1" cy="475.9" r="1.2"/><circle cx="451.7" cy="447.6" r="1.4"/><circle cx="411.1" cy="452.9" r="1.4"/><circle cx="423.2" cy="393.3" r="1.7"/><circle cx="433.5" cy="400.3" r="1.3"/><circle cx="421.5" cy="468.8" r="1.3"/><circle cx="424.1" cy="398.4" r="1.4"/><circle cx="415.6" cy="421" r="1.6"/><circle cx="504.2" cy="465.9" r="1.2"/><circle cx="436.6" cy="467.3" r="1.2"/><circle cx="415.1" cy="434.4" r="1.4"/><circle cx="482.6" cy="455.3" r="1.4"/><circle cx="420.7" cy="410.6" r="1.3"/><circle cx="398" cy="450.5" r="1.3"/><circle cx="499.8" cy="448.7" r="1.2"/><circle cx="451.5" cy="444.8" r="1.2"/><circle cx="450.1" cy="392.2" r="1.6"/><circle cx="390.5" cy="447.4" r="1.7"/><circle cx="494.4" cy="410.9" r="1.5"/><circle cx="407.3" cy="420.9" r="1.6"/><circle cx="490.9" cy="390.3" r="1.4"/><circle cx="469" cy="405.6" r="1.6"/><circle cx="500.2" cy="440" r="1.4"/><circle cx="494.7" cy="436.5" r="1.3"/><circle cx="424.3" cy="404.1" r="1.6"/><circle cx="452.9" cy="453.3" r="1.6"/><circle cx="510.2" cy="406.9" r="1.4"/><circle cx="497.9" cy="459.3" r="1.4"/><circle cx="470.9" cy="407.4" r="1.3"/><circle cx="396.2" cy="424.3" r="1.3"/><circle cx="453.9" cy="478.3" r="1.3"/><circle cx="458.8" cy="468.7" r="1.5"/><circle cx="455.1" cy="459.8" r="1.2"/><circle cx="507.1" cy="452.4" r="1.6"/><circle cx="491.8" cy="398.5" r="1.2"/><circle cx="412" cy="435.7" r="1.7"/><circle cx="502.2" cy="427.2" r="1.5"/><circle cx="481.3" cy="419.9" r="1.7"/><circle cx="506.2" cy="456.1" r="1.7"/><circle cx="488.8" cy="449.2" r="1.4"/><circle cx="424.7" cy="411.3" r="1.2"/><circle cx="504.3" cy="416.8" r="1.2"/><circle cx="429" cy="399" r="1.4"/><circle cx="431" cy="405.6" r="1.4"/><circle cx="441.2" cy="421.9" r="1.6"/><circle cx="427.9" cy="439.1" r="1.6"/><circle cx="508.3" cy="423.8" r="1.2"/><circle cx="507.3" cy="436.6" r="1.3"/><circle cx="405.8" cy="411.4" r="1.4"/><circle cx="407.1" cy="394" r="1.7"/><circle cx="491.2" cy="399.9" r="1.4"/><circle cx="488.9" cy="435.7" r="1.2"/><circle cx="431.9" cy="424.4" r="1.7"/><circle cx="461.9" cy="431.5" r="1.5"/><circle cx="396" cy="452.4" r="1.6"/><circle cx="472.8" cy="422.6" r="1.3"/><circle cx="391.3" cy="397" r="1.3"/><circle cx="445.9" cy="460.8" r="1.3"/><circle cx="448.3" cy="447.7" r="1.5"/><circle cx="392.5" cy="473.8" r="1.5"/><circle cx="427.4" cy="411.4" r="1.5"/><circle cx="505.1" cy="420.4" r="1.4"/><circle cx="458.7" cy="405.5" r="1.4"/><circle cx="503.2" cy="440.5" r="1.6"/><circle cx="422.3" cy="469.1" r="1.6"/><circle cx="417.8" cy="438" r="1.5"/><circle cx="460.7" cy="444.6" r="1.3"/><circle cx="458.4" cy="422" r="1.6"/><circle cx="436" cy="479.2" r="1.5"/><circle cx="418.1" cy="427.6" r="1.3"/><circle cx="480.9" cy="393.7" r="1.5"/><circle cx="428" cy="460.7" r="1.3"/><circle cx="474" cy="454.9" r="1.3"/><circle cx="406.1" cy="423.6" r="1.5"/><circle cx="422.2" cy="390.3" r="1.4"/><circle cx="489.8" cy="404" r="1.7"/><circle cx="452.7" cy="404.2" r="1.3"/><circle cx="435.8" cy="433.1" r="1.3"/><circle cx="400.4" cy="435.4" r="1.3"/><circle cx="444.8" cy="430.8" r="1.5"/><circle cx="461.3" cy="410.4" r="1.3"/><circle cx="496" cy="394.1" r="1.3"/><circle cx="398.6" cy="465.2" r="1.5"/><circle cx="504" cy="446.9" r="1.4"/><circle cx="443.1" cy="456.6" r="1.3"/><circle cx="489.1" cy="426.8" r="1.2"/><circle cx="432.4" cy="440.8" r="1.3"/><circle cx="501.7" cy="474.3" r="1.5"/><circle cx="501.6" cy="452.7" r="1.5"/><circle cx="409.5" cy="476.8" r="1.7"/><circle cx="445.8" cy="424.8" r="1.2"/><circle cx="466.4" cy="467.8" r="1.4"/><circle cx="425.6" cy="445.6" r="1.6"/><circle cx="410.9" cy="415.4" r="1.5"/><circle cx="395.1" cy="464.3" r="1.4"/><circle cx="492.7" cy="431.2" r="1.3"/><circle cx="392.4" cy="399.9" r="1.3"/><circle cx="483.5" cy="462.2" r="1.5"/><circle cx="427.9" cy="450.3" r="1.6"/><circle cx="435.3" cy="397" r="1.4"/><circle cx="417.4" cy="406.8" r="1.4"/><circle cx="399.2" cy="471.8" r="1.3"/><circle cx="500.9" cy="457" r="1.2"/><circle cx="501" cy="463.6" r="1.5"/><circle cx="499.1" cy="433.3" r="1.2"/><circle cx="408.5" cy="417.9" r="1.6"/><circle cx="492.4" cy="400.3" r="1.4"/><circle cx="403.8" cy="410.4" r="1.4"/><circle cx="441.1" cy="403.2" r="1.5"/><circle cx="419.9" cy="471" r="1.4"/><circle cx="443" cy="459.6" r="1.4"/><circle cx="421.7" cy="400.7" r="1.3"/><circle cx="418.9" cy="456.8" r="1.4"/><circle cx="477.2" cy="414.7" r="1.2"/><circle cx="427.6" cy="425.5" r="1.7"/><circle cx="414.6" cy="408.9" r="1.3"/><circle cx="421.2" cy="477.5" r="1.7"/><circle cx="418.1" cy="394.1" r="1.4"/><circle cx="462.1" cy="399.7" r="1.4"/><circle cx="484.9" cy="389.6" r="1.6"/><circle cx="474.5" cy="461.5" r="1.4"/><circle cx="447.3" cy="437" r="1.3"/><circle cx="453.4" cy="411.4" r="1.4"/><circle cx="395.5" cy="404" r="1.2"/><circle cx="456.8" cy="411.1" r="1.5"/><circle cx="452.1" cy="410.8" r="1.3"/><circle cx="463.5" cy="451.5" r="1.5"/><circle cx="452.6" cy="442.6" r="1.2"/><circle cx="427.8" cy="462.8" r="1.4"/><circle cx="402.8" cy="428.1" r="1.6"/><circle cx="402.1" cy="399.7" r="1.4"/><circle cx="497.7" cy="425.3" r="1.3"/><circle cx="484.8" cy="398.1" r="1.3"/><circle cx="463.8" cy="467.3" r="1.6"/><circle cx="430.2" cy="413.9" r="1.4"/><circle cx="405" cy="414.5" r="1.6"/><circle cx="510.8" cy="414.3" r="1.2"/><circle cx="481.2" cy="478" r="1.6"/><circle cx="440.9" cy="457.7" r="1.6"/><circle cx="481.8" cy="434.6" r="1.7"/><circle cx="486.3" cy="411" r="1.4"/><circle cx="401" cy="423.8" r="1.6"/><circle cx="450" cy="437.5" r="1.6"/><circle cx="400.8" cy="421.9" r="1.4"/><circle cx="450.9" cy="452.2" r="1.7"/><circle cx="488.9" cy="439.5" r="1.5"/><circle cx="456.5" cy="479.8" r="1.5"/><circle cx="463.3" cy="425.8" r="1.4"/><circle cx="484.3" cy="423.7" r="1.7"/><circle cx="479.8" cy="477" r="1.6"/><circle cx="460.3" cy="423.1" r="1.2"/><circle cx="471.6" cy="458.3" r="1.6"/><circle cx="483.7" cy="392.8" r="1.5"/><circle cx="424.5" cy="425.1" r="1.6"/><circle cx="440" cy="432.3" r="1.2"/><circle cx="412.4" cy="408.8" r="1.3"/><circle cx="454.5" cy="393.9" r="1.2"/><circle cx="400.6" cy="456.7" r="1.7"/><circle cx="482.6" cy="436.7" r="1.3"/><circle cx="486.7" cy="401.4" r="1.2"/><circle cx="453.1" cy="468.5" r="1.4"/><circle cx="496.5" cy="419.9" r="1.7"/><circle cx="481.2" cy="468.7" r="1.7"/><circle cx="490.8" cy="407.5" r="1.5"/><circle cx="457.2" cy="455.7" r="1.3"/><circle cx="461.2" cy="415.5" r="1.3"/><circle cx="445.5" cy="463.1" r="1.5"/><circle cx="433.8" cy="410.2" r="1.4"/><circle cx="439.2" cy="414.4" r="1.4"/><circle cx="418" cy="416.4" r="1.5"/><circle cx="467.1" cy="446.9" r="1.7"/><circle cx="472.2" cy="401.4" r="1.4"/><circle cx="454.7" cy="457.9" r="1.5"/><circle cx="401.5" cy="433.1" r="1.5"/><circle cx="486.9" cy="430.3" r="1.3"/><circle cx="394.2" cy="435.6" r="1.6"/><circle cx="403.6" cy="437.4" r="1.5"/><circle cx="459.1" cy="410.7" r="1.2"/><circle cx="392.7" cy="417.5" r="1.6"/><circle cx="441.7" cy="479.9" r="1.6"/><circle cx="462.1" cy="429.8" r="1.5"/><circle cx="493.6" cy="420.1" r="1.3"/><circle cx="500.9" cy="447.3" r="1.4"/><circle cx="439.3" cy="398.8" r="1.5"/><circle cx="487" cy="435.2" r="1.5"/><circle cx="481.1" cy="419.8" r="1.5"/><circle cx="510" cy="455" r="1.3"/><circle cx="471.8" cy="448.6" r="1.6"/><circle cx="476.6" cy="473.1" r="1.7"/><circle cx="415.9" cy="433.4" r="1.2"/><circle cx="511.7" cy="399.3" r="1.4"/><circle cx="466.1" cy="428.8" r="1.3"/><circle cx="452" cy="410" r="1.4"/><circle cx="478.2" cy="416.9" r="1.4"/><circle cx="468" cy="438.2" r="1.6"/><circle cx="500" cy="478.1" r="1.3"/><circle cx="449.5" cy="400.3" r="1.5"/><circle cx="438.9" cy="467.3" r="1.4"/><circle cx="488.5" cy="392.3" r="1.5"/><circle cx="441" cy="465.8" r="1.3"/><circle cx="401" cy="452.5" r="1.4"/><circle cx="443.7" cy="426.5" r="1.7"/><circle cx="467" cy="465.8" r="1.6"/><circle cx="495.8" cy="430.5" r="1.3"/><circle cx="453.6" cy="471.4" r="1.6"/><circle cx="449" cy="472.6" r="1.6"/><circle cx="395" cy="447.5" r="1.6"/><circle cx="395.4" cy="424.1" r="1.5"/><circle cx="452.6" cy="438" r="1.2"/><circle cx="422.3" cy="469.1" r="1.4"/><circle cx="449.1" cy="443.6" r="1.3"/><circle cx="441.1" cy="435.8" r="1.6"/><circle cx="494" cy="405.7" r="1.5"/><circle cx="482.8" cy="471.6" r="1.5"/><circle cx="467.9" cy="448.6" r="1.5"/><circle cx="500.2" cy="479.8" r="1.7"/><circle cx="405.4" cy="455.1" r="1.4"/><circle cx="424.5" cy="398.6" r="1.7"/><circle cx="500.3" cy="437.9" r="1.4"/><circle cx="415.3" cy="474.4" r="1.6"/><circle cx="410.6" cy="442.1" r="1.7"/><circle cx="422.5" cy="423.7" r="1.4"/><circle cx="435.9" cy="400.3" r="1.5"/><circle cx="420.2" cy="451.8" r="1.4"/><circle cx="494" cy="457.9" r="1.6"/><circle cx="409.1" cy="462.3" r="1.6"/><circle cx="426" cy="389.6" r="1.2"/><circle cx="485.3" cy="478.2" r="1.2"/><circle cx="420" cy="426.3" r="1.2"/><circle cx="469.1" cy="468.1" r="1.6"/><circle cx="412" cy="472.9" r="1.6"/><circle cx="409.2" cy="467.7" r="1.7"/><circle cx="498.5" cy="458.3" r="1.6"/><circle cx="456" cy="390.3" r="1.5"/><circle cx="451.6" cy="403.1" r="1.3"/><circle cx="499.2" cy="472.3" r="1.2"/><circle cx="392.3" cy="453.4" r="1.3"/><circle cx="497.3" cy="431.8" r="1.6"/><circle cx="395.8" cy="460.6" r="1.3"/><circle cx="443" cy="434" r="1.4"/><circle cx="420" cy="430.5" r="1.2"/><circle cx="409.4" cy="401.4" r="1.6"/><circle cx="428.5" cy="479.6" r="1.7"/><circle cx="410.4" cy="467.9" r="1.7"/><circle cx="444.6" cy="433.8" r="1.5"/><circle cx="450.5" cy="413.6" r="1.6"/><circle cx="417.1" cy="424.7" r="1.2"/><circle cx="429.9" cy="463.3" r="1.3"/><circle cx="413.4" cy="425.7" r="1.3"/><circle cx="390.8" cy="394.5" r="1.3"/><circle cx="487.8" cy="460.6" r="1.6"/><circle cx="475.8" cy="480.9" r="1.3"/><circle cx="477.3" cy="430.7" r="1.7"/><circle cx="444.6" cy="455.8" r="1.6"/><circle cx="508.9" cy="459.6" r="1.4"/><circle cx="470.1" cy="462.5" r="1.7"/><circle cx="420.5" cy="456.4" r="1.6"/><circle cx="409.5" cy="400.4" r="1.5"/><circle cx="463.9" cy="419.6" r="1.5"/><circle cx="408.2" cy="441.9" r="1.5"/><circle cx="492.6" cy="455.5" r="1.2"/><circle cx="458.7" cy="401.1" r="1.5"/><circle cx="473.7" cy="454" r="1.2"/><circle cx="455.7" cy="405.5" r="1.5"/><circle cx="450.8" cy="434.2" r="1.6"/><circle cx="426.8" cy="433.1" r="1.3"/><circle cx="414.4" cy="447.4" r="1.3"/><circle cx="488.7" cy="423.8" r="1.3"/><circle cx="487.1" cy="391.4" r="1.3"/><circle cx="470.8" cy="390.9" r="1.6"/><circle cx="459.4" cy="478.9" r="1.4"/><circle cx="492.3" cy="479.3" r="1.4"/><circle cx="399.4" cy="420.8" r="1.6"/><circle cx="390" cy="447.5" r="1.5"/><circle cx="481.3" cy="423.4" r="1.7"/><circle cx="404.1" cy="427.7" r="1.4"/><circle cx="459" cy="409.4" r="1.4"/><circle cx="445.5" cy="474" r="1.2"/><circle cx="425" cy="403" r="1.6"/><circle cx="485.2" cy="391" r="1.6"/><circle cx="498.7" cy="431.9" r="1.5"/><circle cx="487.8" cy="474.4" r="1.3"/><circle cx="477.4" cy="396.7" r="1.4"/><circle cx="502.4" cy="447" r="1.5"/><circle cx="445" cy="431.3" r="1.2"/><circle cx="459.2" cy="475.7" r="1.3"/><circle cx="394.3" cy="446.7" r="1.6"/><circle cx="443" cy="397.2" r="1.5"/><circle cx="471" cy="410.8" r="1.6"/><circle cx="457" cy="461.5" r="1.3"/><circle cx="434.7" cy="450.2" r="1.5"/><circle cx="494.6" cy="475.9" r="1.6"/><circle cx="391.2" cy="432.2" r="1.5"/><circle cx="486.2" cy="418.3" r="1.2"/><circle cx="461.6" cy="407.2" r="1.5"/><circle cx="418.4" cy="470" r="1.2"/><circle cx="458.9" cy="470" r="1.5"/><circle cx="408" cy="439.7" r="1.6"/><circle cx="467.9" cy="472.5" r="1.6"/><circle cx="437.2" cy="400.8" r="1.5"/><circle cx="449.3" cy="464.4" r="1.4"/><circle cx="478.7" cy="402.7" r="1.6"/><circle cx="496.8" cy="463.7" r="1.6"/><circle cx="472.8" cy="405.1" r="1.4"/><circle cx="424.6" cy="416.2" r="1.5"/><circle cx="434.8" cy="449.8" r="1.6"/><circle cx="512.6" cy="389.9" r="1.5"/><circle cx="461.5" cy="429.1" r="1.6"/><circle cx="498.6" cy="411.9" r="1.5"/><circle cx="409.5" cy="429.8" r="1.4"/><circle cx="491.2" cy="472.9" r="1.6"/><circle cx="454.4" cy="454.5" r="1.5"/></g>
<g fill="#bebebe"><circle cx="413.1" cy="392.4" r="1.1"/><circle cx="487.7" cy="448.3" r="0.9"/><circle cx="475.1" cy="393.8" r="1"/><circle cx="491.7" cy="473.4" r="1"/><circle cx="494" cy="434.7" r="1.1"/><circle cx="461.6" cy="479.8" r="1.2"/><circle cx="447.9" cy="455.6" r="1.1"/><circle cx="433.2" cy="460.8" r="1.2"/><circle cx="464.6" cy="475.4" r="0.8"/><circle cx="451.2" cy="447.1" r="1"/><circle cx="410.6" cy="452.4" r="1"/><circle cx="422.7" cy="392.8" r="1.3"/><circle cx="433" cy="399.8" r="0.9"/><circle cx="421" cy="468.3" r="0.9"/><circle cx="423.6" cy="397.9" r="1"/><circle cx="415.1" cy="420.5" r="1.2"/><circle cx="503.7" cy="465.4" r="0.8"/><circle cx="436.1" cy="466.8" r="0.8"/><circle cx="414.6" cy="433.9" r="1"/><circle cx="482.1" cy="454.8" r="1"/><circle cx="420.2" cy="410.1" r="0.9"/><circle cx="397.5" cy="450" r="0.9"/><circle cx="499.3" cy="448.2" r="0.8"/><circle cx="451" cy="444.3" r="0.8"/><circle cx="449.6" cy="391.7" r="1.2"/><circle cx="390" cy="446.9" r="1.3"/><circle cx="493.9" cy="410.4" r="1.1"/><circle cx="406.8" cy="420.4" r="1.2"/><circle cx="490.4" cy="389.8" r="1"/><circle cx="468.5" cy="405.1" r="1.2"/><circle cx="499.7" cy="439.5" r="1"/><circle cx="494.2" cy="436" r="0.9"/><circle cx="423.8" cy="403.6" r="1.2"/><circle cx="452.4" cy="452.8" r="1.2"/><circle cx="509.7" cy="406.4" r="1"/><circle cx="497.4" cy="458.8" r="1"/><circle cx="470.4" cy="406.9" r="0.9"/><circle cx="395.7" cy="423.8" r="0.9"/><circle cx="453.4" cy="477.8" r="0.9"/><circle cx="458.3" cy="468.2" r="1.1"/><circle cx="454.6" cy="459.3" r="0.8"/><circle cx="506.6" cy="451.9" r="1.2"/><circle cx="491.3" cy="398" r="0.8"/><circle cx="411.5" cy="435.2" r="1.3"/><circle cx="501.7" cy="426.7" r="1.1"/><circle cx="480.8" cy="419.4" r="1.3"/><circle cx="505.7" cy="455.6" r="1.3"/><circle cx="488.3" cy="448.7" r="1"/><circle cx="424.2" cy="410.8" r="0.8"/><circle cx="503.8" cy="416.3" r="0.8"/><circle cx="428.5" cy="398.5" r="1"/><circle cx="430.5" cy="405.1" r="1"/><circle cx="440.7" cy="421.4" r="1.2"/><circle cx="427.4" cy="438.6" r="1.2"/><circle cx="507.8" cy="423.3" r="0.8"/><circle cx="506.8" cy="436.1" r="0.9"/><circle cx="405.3" cy="410.9" r="1"/><circle cx="406.6" cy="393.5" r="1.3"/><circle cx="490.7" cy="399.4" r="1"/><circle cx="488.4" cy="435.2" r="0.8"/><circle cx="431.4" cy="423.9" r="1.3"/><circle cx="461.4" cy="431" r="1.1"/><circle cx="395.5" cy="451.9" r="1.2"/><circle cx="472.3" cy="422.1" r="0.9"/><circle cx="390.8" cy="396.5" r="0.9"/><circle cx="445.4" cy="460.3" r="0.9"/><circle cx="447.8" cy="447.2" r="1.1"/><circle cx="392" cy="473.3" r="1.1"/><circle cx="426.9" cy="410.9" r="1.1"/><circle cx="504.6" cy="419.9" r="1"/><circle cx="458.2" cy="405" r="1"/><circle cx="502.7" cy="440" r="1.2"/><circle cx="421.8" cy="468.6" r="1.2"/><circle cx="417.3" cy="437.5" r="1.1"/><circle cx="460.2" cy="444.1" r="0.9"/><circle cx="457.9" cy="421.5" r="1.2"/><circle cx="435.5" cy="478.7" r="1.1"/><circle cx="417.6" cy="427.1" r="0.9"/><circle cx="480.4" cy="393.2" r="1.1"/><circle cx="427.5" cy="460.2" r="0.9"/><circle cx="473.5" cy="454.4" r="0.9"/><circle cx="405.6" cy="423.1" r="1.1"/><circle cx="421.7" cy="389.8" r="1"/><circle cx="489.3" cy="403.5" r="1.3"/><circle cx="452.2" cy="403.7" r="0.9"/><circle cx="435.3" cy="432.6" r="0.9"/><circle cx="399.9" cy="434.9" r="0.9"/><circle cx="444.3" cy="430.3" r="1.1"/><circle cx="460.8" cy="409.9" r="0.9"/><circle cx="495.5" cy="393.6" r="0.9"/><circle cx="398.1" cy="464.7" r="1.1"/><circle cx="503.5" cy="446.4" r="1"/><circle cx="442.6" cy="456.1" r="0.9"/><circle cx="488.6" cy="426.3" r="0.8"/><circle cx="431.9" cy="440.3" r="0.9"/><circle cx="501.2" cy="473.8" r="1.1"/><circle cx="501.1" cy="452.2" r="1.1"/><circle cx="409" cy="476.3" r="1.3"/><circle cx="445.3" cy="424.3" r="0.8"/><circle cx="465.9" cy="467.3" r="1"/><circle cx="425.1" cy="445.1" r="1.2"/><circle cx="410.4" cy="414.9" r="1.1"/><circle cx="394.6" cy="463.8" r="1"/><circle cx="492.2" cy="430.7" r="0.9"/><circle cx="391.9" cy="399.4" r="0.9"/><circle cx="483" cy="461.7" r="1.1"/><circle cx="427.4" cy="449.8" r="1.2"/><circle cx="434.8" cy="396.5" r="1"/><circle cx="416.9" cy="406.3" r="1"/><circle cx="398.7" cy="471.3" r="0.9"/><circle cx="500.4" cy="456.5" r="0.8"/><circle cx="500.5" cy="463.1" r="1.1"/><circle cx="498.6" cy="432.8" r="0.8"/><circle cx="408" cy="417.4" r="1.2"/><circle cx="491.9" cy="399.8" r="1"/><circle cx="403.3" cy="409.9" r="1"/><circle cx="440.6" cy="402.7" r="1.1"/><circle cx="419.4" cy="470.5" r="1"/><circle cx="442.5" cy="459.1" r="1"/><circle cx="421.2" cy="400.2" r="0.9"/><circle cx="418.4" cy="456.3" r="1"/><circle cx="476.7" cy="414.2" r="0.8"/><circle cx="427.1" cy="425" r="1.3"/><circle cx="414.1" cy="408.4" r="0.9"/><circle cx="420.7" cy="477" r="1.3"/><circle cx="417.6" cy="393.6" r="1"/><circle cx="461.6" cy="399.2" r="1"/><circle cx="484.4" cy="389.1" r="1.2"/><circle cx="474" cy="461" r="1"/><circle cx="446.8" cy="436.5" r="0.9"/><circle cx="452.9" cy="410.9" r="1"/><circle cx="395" cy="403.5" r="0.8"/><circle cx="456.3" cy="410.6" r="1.1"/><circle cx="451.6" cy="410.3" r="0.9"/><circle cx="463" cy="451" r="1.1"/><circle cx="452.1" cy="442.1" r="0.8"/><circle cx="427.3" cy="462.3" r="1"/><circle cx="402.3" cy="427.6" r="1.2"/><circle cx="401.6" cy="399.2" r="1"/><circle cx="497.2" cy="424.8" r="0.9"/><circle cx="484.3" cy="397.6" r="0.9"/><circle cx="463.3" cy="466.8" r="1.2"/><circle cx="429.7" cy="413.4" r="1"/><circle cx="404.5" cy="414" r="1.2"/><circle cx="510.3" cy="413.8" r="0.8"/><circle cx="480.7" cy="477.5" r="1.2"/><circle cx="440.4" cy="457.2" r="1.2"/><circle cx="481.3" cy="434.1" r="1.3"/><circle cx="485.8" cy="410.5" r="1"/><circle cx="400.5" cy="423.3" r="1.2"/><circle cx="449.5" cy="437" r="1.2"/><circle cx="400.3" cy="421.4" r="1"/><circle cx="450.4" cy="451.7" r="1.3"/><circle cx="488.4" cy="439" r="1.1"/><circle cx="456" cy="479.3" r="1.1"/><circle cx="462.8" cy="425.3" r="1"/><circle cx="483.8" cy="423.2" r="1.3"/><circle cx="479.3" cy="476.5" r="1.2"/><circle cx="459.8" cy="422.6" r="0.8"/><circle cx="471.1" cy="457.8" r="1.2"/><circle cx="483.2" cy="392.3" r="1.1"/><circle cx="424" cy="424.6" r="1.2"/><circle cx="439.5" cy="431.8" r="0.8"/><circle cx="411.9" cy="408.3" r="0.9"/><circle cx="454" cy="393.4" r="0.8"/><circle cx="400.1" cy="456.2" r="1.3"/><circle cx="482.1" cy="436.2" r="0.9"/><circle cx="486.2" cy="400.9" r="0.8"/><circle cx="452.6" cy="468" r="1"/><circle cx="496" cy="419.4" r="1.3"/><circle cx="480.7" cy="468.2" r="1.3"/><circle cx="490.3" cy="407" r="1.1"/><circle cx="456.7" cy="455.2" r="0.9"/><circle cx="460.7" cy="415" r="0.9"/><circle cx="445" cy="462.6" r="1.1"/><circle cx="433.3" cy="409.7" r="1"/><circle cx="438.7" cy="413.9" r="1"/><circle cx="417.5" cy="415.9" r="1.1"/><circle cx="466.6" cy="446.4" r="1.3"/><circle cx="471.7" cy="400.9" r="1"/><circle cx="454.2" cy="457.4" r="1.1"/><circle cx="401" cy="432.6" r="1.1"/><circle cx="486.4" cy="429.8" r="0.9"/><circle cx="393.7" cy="435.1" r="1.2"/><circle cx="403.1" cy="436.9" r="1.1"/><circle cx="458.6" cy="410.2" r="0.8"/><circle cx="392.2" cy="417" r="1.2"/><circle cx="441.2" cy="479.4" r="1.2"/><circle cx="461.6" cy="429.3" r="1.1"/><circle cx="493.1" cy="419.6" r="0.9"/><circle cx="500.4" cy="446.8" r="1"/><circle cx="438.8" cy="398.3" r="1.1"/><circle cx="486.5" cy="434.7" r="1.1"/><circle cx="480.6" cy="419.3" r="1.1"/><circle cx="509.5" cy="454.5" r="0.9"/><circle cx="471.3" cy="448.1" r="1.2"/><circle cx="476.1" cy="472.6" r="1.3"/><circle cx="415.4" cy="432.9" r="0.8"/><circle cx="511.2" cy="398.8" r="1"/><circle cx="465.6" cy="428.3" r="0.9"/><circle cx="451.5" cy="409.5" r="1"/><circle cx="477.7" cy="416.4" r="1"/><circle cx="467.5" cy="437.7" r="1.2"/><circle cx="499.5" cy="477.6" r="0.9"/><circle cx="449" cy="399.8" r="1.1"/><circle cx="438.4" cy="466.8" r="1"/><circle cx="488" cy="391.8" r="1.1"/><circle cx="440.5" cy="465.3" r="0.9"/><circle cx="400.5" cy="452" r="1"/><circle cx="443.2" cy="426" r="1.3"/><circle cx="466.5" cy="465.3" r="1.2"/><circle cx="495.3" cy="430" r="0.9"/><circle cx="453.1" cy="470.9" r="1.2"/><circle cx="448.5" cy="472.1" r="1.2"/><circle cx="394.5" cy="447" r="1.2"/><circle cx="394.9" cy="423.6" r="1.1"/><circle cx="452.1" cy="437.5" r="0.8"/><circle cx="421.8" cy="468.6" r="1"/><circle cx="448.6" cy="443.1" r="0.9"/><circle cx="440.6" cy="435.3" r="1.2"/><circle cx="493.5" cy="405.2" r="1.1"/><circle cx="482.3" cy="471.1" r="1.1"/><circle cx="467.4" cy="448.1" r="1.1"/><circle cx="499.7" cy="479.3" r="1.3"/><circle cx="404.9" cy="454.6" r="1"/><circle cx="424" cy="398.1" r="1.3"/><circle cx="499.8" cy="437.4" r="1"/><circle cx="414.8" cy="473.9" r="1.2"/><circle cx="410.1" cy="441.6" r="1.3"/><circle cx="422" cy="423.2" r="1"/><circle cx="435.4" cy="399.8" r="1.1"/><circle cx="419.7" cy="451.3" r="1"/><circle cx="493.5" cy="457.4" r="1.2"/><circle cx="408.6" cy="461.8" r="1.2"/><circle cx="425.5" cy="389.1" r="0.8"/><circle cx="484.8" cy="477.7" r="0.8"/><circle cx="419.5" cy="425.8" r="0.8"/><circle cx="468.6" cy="467.6" r="1.2"/><circle cx="411.5" cy="472.4" r="1.2"/><circle cx="408.7" cy="467.2" r="1.3"/><circle cx="498" cy="457.8" r="1.2"/><circle cx="455.5" cy="389.8" r="1.1"/><circle cx="451.1" cy="402.6" r="0.9"/><circle cx="498.7" cy="471.8" r="0.8"/><circle cx="391.8" cy="452.9" r="0.9"/><circle cx="496.8" cy="431.3" r="1.2"/><circle cx="395.3" cy="460.1" r="0.9"/><circle cx="442.5" cy="433.5" r="1"/><circle cx="419.5" cy="430" r="0.8"/><circle cx="408.9" cy="400.9" r="1.2"/><circle cx="428" cy="479.1" r="1.3"/><circle cx="409.9" cy="467.4" r="1.3"/><circle cx="444.1" cy="433.3" r="1.1"/><circle cx="450" cy="413.1" r="1.2"/><circle cx="416.6" cy="424.2" r="0.8"/><circle cx="429.4" cy="462.8" r="0.9"/><circle cx="412.9" cy="425.2" r="0.9"/><circle cx="390.3" cy="394" r="0.9"/><circle cx="487.3" cy="460.1" r="1.2"/><circle cx="475.3" cy="480.4" r="0.9"/><circle cx="476.8" cy="430.2" r="1.3"/><circle cx="444.1" cy="455.3" r="1.2"/><circle cx="508.4" cy="459.1" r="1"/><circle cx="469.6" cy="462" r="1.3"/><circle cx="420" cy="455.9" r="1.2"/><circle cx="409" cy="399.9" r="1.1"/><circle cx="463.4" cy="419.1" r="1.1"/><circle cx="407.7" cy="441.4" r="1.1"/><circle cx="492.1" cy="455" r="0.8"/><circle cx="458.2" cy="400.6" r="1.1"/><circle cx="473.2" cy="453.5" r="0.8"/><circle cx="455.2" cy="405" r="1.1"/><circle cx="450.3" cy="433.7" r="1.2"/><circle cx="426.3" cy="432.6" r="0.9"/><circle cx="413.9" cy="446.9" r="0.9"/><circle cx="488.2" cy="423.3" r="0.9"/><circle cx="486.6" cy="390.9" r="0.9"/><circle cx="470.3" cy="390.4" r="1.2"/><circle cx="458.9" cy="478.4" r="1"/><circle cx="491.8" cy="478.8" r="1"/><circle cx="398.9" cy="420.3" r="1.2"/><circle cx="389.5" cy="447" r="1.1"/><circle cx="480.8" cy="422.9" r="1.3"/><circle cx="403.6" cy="427.2" r="1"/><circle cx="458.5" cy="408.9" r="1"/><circle cx="445" cy="473.5" r="0.8"/><circle cx="424.5" cy="402.5" r="1.2"/><circle cx="484.7" cy="390.5" r="1.2"/><circle cx="498.2" cy="431.4" r="1.1"/><circle cx="487.3" cy="473.9" r="0.9"/><circle cx="476.9" cy="396.2" r="1"/><circle cx="501.9" cy="446.5" r="1.1"/><circle cx="444.5" cy="430.8" r="0.8"/><circle cx="458.7" cy="475.2" r="0.9"/><circle cx="393.8" cy="446.2" r="1.2"/><circle cx="442.5" cy="396.7" r="1.1"/><circle cx="470.5" cy="410.3" r="1.2"/><circle cx="456.5" cy="461" r="0.9"/><circle cx="434.2" cy="449.7" r="1.1"/><circle cx="494.1" cy="475.4" r="1.2"/><circle cx="390.7" cy="431.7" r="1.1"/><circle cx="485.7" cy="417.8" r="0.8"/><circle cx="461.1" cy="406.7" r="1.1"/><circle cx="417.9" cy="469.5" r="0.8"/><circle cx="458.4" cy="469.5" r="1.1"/><circle cx="407.5" cy="439.2" r="1.2"/><circle cx="467.4" cy="472" r="1.2"/><circle cx="436.7" cy="400.3" r="1.1"/><circle cx="448.8" cy="463.9" r="1"/><circle cx="478.2" cy="402.2" r="1.2"/><circle cx="496.3" cy="463.2" r="1.2"/><circle cx="472.3" cy="404.6" r="1"/><circle cx="424.1" cy="415.7" r="1.1"/><circle cx="434.3" cy="449.3" r="1.2"/><circle cx="512.1" cy="389.4" r="1.1"/><circle cx="461" cy="428.6" r="1.2"/><circle cx="498.1" cy="411.4" r="1.1"/><circle cx="409" cy="429.3" r="1"/><circle cx="490.7" cy="472.4" r="1.2"/><circle cx="453.9" cy="454" r="1.1"/></g>
</g>
</g>
<text x="395.4" y="405.7" font-size="12.6" text-anchor="start" font-weight="bold" fill="#000" >K. CCL21+ICAM1</text>
<rect x="395.8" y="465.3" width="14.5" height="1.7" fill="#000"/>
<text x="391.5" y="475.3" font-size="7.5" text-anchor="start" font-weight="bold" fill="#000" >50 &#181;m</text>
<rect x="263.4" y="501.7" width="123.5" height="91.2" fill="#afafaf"/>
<g clip-path="url(#c23)">
<g filter="url(#blurBig)">
<circle cx="377.62" cy="588.21" r="20.71" fill="#ffffff" opacity="0.10"/>
<circle cx="265.51" cy="529.68" r="14.55" fill="#808080" opacity="0.10"/>
<circle cx="279.49" cy="519.21" r="15.33" fill="#ffffff" opacity="0.10"/>
<circle cx="339.99" cy="583.93" r="11.27" fill="#808080" opacity="0.10"/>
<circle cx="315.42" cy="548.45" r="18.81" fill="#808080" opacity="0.10"/>
<circle cx="358.59" cy="520.45" r="10.42" fill="#808080" opacity="0.10"/>
<circle cx="344.65" cy="558.33" r="21.65" fill="#808080" opacity="0.10"/>
<circle cx="333.24" cy="580.15" r="21.62" fill="#808080" opacity="0.10"/>
<circle cx="344.98" cy="530.37" r="11.03" fill="#808080" opacity="0.10"/>
<circle cx="285.34" cy="545.76" r="19.5" fill="#ffffff" opacity="0.10"/>
</g>
<g filter="url(#blurS)">
<g fill="#6a6a6a" fill-opacity="0.35"><circle cx="286.4" cy="518.5" r="1.5"/><circle cx="364.7" cy="520" r="1.4"/><circle cx="276.1" cy="505.8" r="1.5"/><circle cx="334.6" cy="577" r="1.5"/><circle cx="309.6" cy="528.5" r="1.5"/><circle cx="307" cy="565" r="1.7"/><circle cx="309.5" cy="563.7" r="1.6"/><circle cx="311.5" cy="565.5" r="1.5"/><circle cx="281.5" cy="536.8" r="1.6"/><circle cx="380.5" cy="547" r="1.6"/><circle cx="381.5" cy="549.5" r="1.5"/><circle cx="333.9" cy="580.3" r="1.6"/></g>
<g fill="#c4c4c4"><circle cx="285.9" cy="518" r="1.1"/><circle cx="364.2" cy="519.5" r="1"/><circle cx="275.6" cy="505.3" r="1.1"/><circle cx="334.1" cy="576.5" r="1.1"/><circle cx="309.1" cy="528" r="1.1"/><circle cx="306.5" cy="564.5" r="1.3"/><circle cx="309" cy="563.2" r="1.2"/><circle cx="311" cy="565" r="1.1"/><circle cx="281" cy="536.3" r="1.2"/><circle cx="380" cy="546.5" r="1.2"/><circle cx="381" cy="549" r="1.1"/><circle cx="333.4" cy="579.8" r="1.2"/></g>
</g>
</g>
<text x="270.6" y="518.4" font-size="12.6" text-anchor="start" font-weight="bold" fill="#000" >L. No Coating</text>
<rect x="269.7" y="578" width="14.5" height="1.7" fill="#000"/>
<text x="265.4" y="588" font-size="7.5" text-anchor="start" font-weight="bold" fill="#000" >50 &#181;m</text>
<rect x="389.3" y="501.7" width="123.8" height="91.2" fill="#a6a6a6"/>
<g clip-path="url(#c24)">
<g filter="url(#blurBig)">
<circle cx="477.49" cy="578.29" r="12.19" fill="#ffffff" opacity="0.10"/>
<circle cx="413.33" cy="562.88" r="11.1" fill="#ffffff" opacity="0.10"/>
<circle cx="489.13" cy="527.54" r="21.07" fill="#ffffff" opacity="0.10"/>
<circle cx="443.94" cy="580.66" r="21.85" fill="#ffffff" opacity="0.10"/>
<circle cx="392.79" cy="517.08" r="15.9" fill="#808080" opacity="0.10"/>
<circle cx="473.71" cy="547.28" r="21.94" fill="#808080" opacity="0.10"/>
<circle cx="493.69" cy="516.08" r="13.92" fill="#808080" opacity="0.10"/>
<circle cx="398.52" cy="560.89" r="17.93" fill="#ffffff" opacity="0.10"/>
<circle cx="503.77" cy="530.53" r="20.74" fill="#ffffff" opacity="0.10"/>
<circle cx="427.77" cy="524.13" r="17.16" fill="#ffffff" opacity="0.10"/>
</g>
<g filter="url(#blurS)">
<g fill="#6a6a6a" fill-opacity="0.5"><circle cx="512.6" cy="580.6" r="1.2"/><circle cx="504.3" cy="510.7" r="1.3"/><circle cx="453.7" cy="532.2" r="1.4"/><circle cx="448.7" cy="525.9" r="1.3"/><circle cx="432.3" cy="527.6" r="1.2"/><circle cx="418.3" cy="521" r="1.2"/><circle cx="502.2" cy="541" r="1.2"/><circle cx="443.6" cy="581.9" r="1.2"/><circle cx="502.3" cy="570.6" r="1.3"/><circle cx="400.9" cy="509.6" r="1.2"/><circle cx="482" cy="558.9" r="1.3"/><circle cx="449.9" cy="545.5" r="1.2"/><circle cx="397.6" cy="555" r="1.5"/><circle cx="471.2" cy="569" r="1.2"/><circle cx="439" cy="504" r="1.3"/><circle cx="500" cy="557.4" r="1.5"/><circle cx="454" cy="572.6" r="1.2"/><circle cx="508" cy="559.5" r="1.4"/><circle cx="499.6" cy="532.9" r="1.2"/><circle cx="477.9" cy="556.9" r="1.3"/><circle cx="476.6" cy="548" r="1.5"/><circle cx="481.3" cy="516.3" r="1.1"/><circle cx="412.3" cy="542.4" r="1.3"/><circle cx="469.2" cy="514.5" r="1.1"/><circle cx="468.6" cy="557.4" r="1.5"/><circle cx="446.9" cy="519.3" r="1.3"/><circle cx="489.6" cy="555.7" r="1.5"/><circle cx="501.6" cy="588" r="1.2"/><circle cx="425.9" cy="538.2" r="1.3"/><circle cx="461.8" cy="583.6" r="1.2"/><circle cx="482.9" cy="578.9" r="1.2"/><circle cx="460.2" cy="587.2" r="1.3"/><circle cx="467.8" cy="531.9" r="1.3"/><circle cx="434" cy="543.1" r="1.4"/><circle cx="439.3" cy="519.5" r="1.4"/><circle cx="468.2" cy="551.6" r="1.1"/><circle cx="511.1" cy="585.2" r="1.4"/><circle cx="434" cy="588.7" r="1.4"/><circle cx="416.2" cy="525.3" r="1.4"/><circle cx="480.6" cy="551.8" r="1.5"/><circle cx="458.7" cy="518.4" r="1.5"/><circle cx="446.8" cy="575.9" r="1.5"/><circle cx="464.7" cy="561.5" r="1.3"/><circle cx="471.7" cy="591.9" r="1.2"/><circle cx="432.3" cy="557" r="1.2"/><circle cx="509" cy="591.5" r="1.4"/><circle cx="466" cy="553.1" r="1.4"/><circle cx="505.3" cy="534.8" r="1.1"/><circle cx="482.4" cy="524.5" r="1.5"/><circle cx="484.5" cy="536.6" r="1.3"/><circle cx="485.4" cy="558.7" r="1.2"/><circle cx="473.9" cy="537.5" r="1.5"/><circle cx="510.7" cy="569.8" r="1.2"/><circle cx="474.8" cy="554.9" r="1.4"/><circle cx="478.9" cy="549.8" r="1.2"/><circle cx="461.4" cy="586.8" r="1.4"/><circle cx="509.6" cy="521.1" r="1.1"/><circle cx="454.9" cy="545" r="1.1"/><circle cx="510.5" cy="588.7" r="1.5"/><circle cx="451.4" cy="512.7" r="1.1"/><circle cx="508.9" cy="591.7" r="1.3"/><circle cx="498.9" cy="528" r="1.4"/><circle cx="443.5" cy="537.7" r="1.2"/><circle cx="501.7" cy="532.4" r="1.3"/><circle cx="495.3" cy="503.7" r="1.5"/><circle cx="470" cy="581.7" r="1.3"/><circle cx="513.5" cy="508.8" r="1.2"/><circle cx="456.6" cy="576" r="1.4"/><circle cx="404.8" cy="534.6" r="1.3"/><circle cx="474" cy="560.7" r="1.4"/><circle cx="511.4" cy="535.2" r="1.5"/><circle cx="501.8" cy="572" r="1.5"/><circle cx="462.7" cy="547.8" r="1.1"/><circle cx="510.3" cy="536.7" r="1.5"/><circle cx="503.1" cy="573.7" r="1.2"/><circle cx="459.8" cy="522.1" r="1.2"/><circle cx="484.9" cy="524.6" r="1.5"/><circle cx="500.4" cy="523.3" r="1.2"/><circle cx="504" cy="554.1" r="1.2"/><circle cx="506.2" cy="582.7" r="1.2"/><circle cx="511.2" cy="550.7" r="1.5"/><circle cx="396.3" cy="593.2" r="1.2"/><circle cx="502.9" cy="538.7" r="1.1"/><circle cx="511.8" cy="544.8" r="1.5"/><circle cx="476.2" cy="550.9" r="1.4"/><circle cx="498" cy="515" r="1.4"/><circle cx="448" cy="531.1" r="1.5"/><circle cx="439" cy="562.8" r="1.2"/><circle cx="403.2" cy="516.4" r="1.1"/><circle cx="431.9" cy="563.4" r="1.5"/><circle cx="503.6" cy="561.8" r="1.3"/><circle cx="435.1" cy="528.5" r="1.3"/><circle cx="447.4" cy="563.1" r="1.5"/><circle cx="463" cy="545.3" r="1.2"/><circle cx="447.5" cy="517.2" r="1.3"/><circle cx="425.5" cy="503.1" r="1.4"/><circle cx="492.6" cy="537.4" r="1.5"/><circle cx="475.1" cy="523.5" r="1.5"/><circle cx="464.7" cy="524" r="1.4"/><circle cx="471.1" cy="555.6" r="1.2"/><circle cx="475" cy="518.9" r="1.3"/><circle cx="509.4" cy="512.3" r="1.2"/><circle cx="434.3" cy="535.2" r="1.1"/><circle cx="494.5" cy="535.2" r="1.5"/><circle cx="442.9" cy="538.5" r="1.4"/><circle cx="490.8" cy="549.3" r="1.3"/><circle cx="436.9" cy="550.3" r="1.3"/><circle cx="509.7" cy="552.9" r="1.5"/><circle cx="423.8" cy="516.5" r="1.4"/><circle cx="467.4" cy="579.4" r="1.4"/><circle cx="465.4" cy="572.7" r="1.4"/><circle cx="451.1" cy="553.9" r="1.4"/><circle cx="457.2" cy="548.7" r="1.3"/><circle cx="436" cy="529.1" r="1.4"/><circle cx="454.3" cy="505.7" r="1.5"/><circle cx="489.5" cy="533.1" r="1.2"/><circle cx="439.1" cy="520.4" r="1.2"/><circle cx="474.4" cy="551.2" r="1.4"/><circle cx="428.2" cy="562.9" r="1.5"/><circle cx="452.7" cy="551.6" r="1.5"/><circle cx="448.3" cy="538.7" r="1.5"/><circle cx="496.5" cy="510" r="1.5"/><circle cx="414.3" cy="589.2" r="1.2"/><circle cx="421" cy="570.8" r="1.3"/><circle cx="501.9" cy="549.1" r="1.1"/><circle cx="508" cy="560.2" r="1.2"/><circle cx="487.5" cy="592.5" r="1.2"/><circle cx="410.8" cy="513.7" r="1.3"/><circle cx="453.2" cy="551.9" r="1.4"/><circle cx="423.4" cy="583" r="1.4"/><circle cx="492" cy="541.9" r="1.2"/><circle cx="469.4" cy="528.3" r="1.3"/><circle cx="488" cy="529.6" r="1.4"/><circle cx="436.1" cy="528.3" r="1.3"/><circle cx="502.6" cy="589.7" r="1.3"/><circle cx="485.4" cy="529.9" r="1.3"/><circle cx="485.5" cy="559" r="1.2"/><circle cx="506.9" cy="544.7" r="1.4"/><circle cx="469.5" cy="580" r="1.4"/><circle cx="494.2" cy="580.5" r="1.4"/><circle cx="492.4" cy="568.8" r="1.5"/><circle cx="426.1" cy="504.1" r="1.3"/><circle cx="429.4" cy="586.1" r="1.4"/><circle cx="494.9" cy="559.4" r="1.3"/><circle cx="507.3" cy="517.5" r="1.1"/><circle cx="465.2" cy="541.3" r="1.3"/><circle cx="483.5" cy="543.6" r="1.5"/><circle cx="471.9" cy="533.7" r="1.2"/><circle cx="452.8" cy="562.3" r="1.3"/><circle cx="481.9" cy="547.1" r="1.2"/><circle cx="421.9" cy="541.1" r="1.4"/><circle cx="508.7" cy="528.8" r="1.5"/><circle cx="486.2" cy="559.4" r="1.5"/><circle cx="469" cy="555.4" r="1.5"/><circle cx="468.1" cy="567.6" r="1.5"/><circle cx="432.2" cy="587" r="1.5"/><circle cx="463.1" cy="546.3" r="1.4"/><circle cx="500.2" cy="537.3" r="1.2"/><circle cx="448.8" cy="593.1" r="1.5"/><circle cx="466.2" cy="575.1" r="1.3"/><circle cx="426.4" cy="572.2" r="1.5"/><circle cx="469.6" cy="557" r="1.1"/><circle cx="474.2" cy="540.3" r="1.5"/><circle cx="447.3" cy="588.8" r="1.5"/><circle cx="434" cy="577.6" r="1.2"/><circle cx="436.9" cy="585.3" r="1.3"/><circle cx="484" cy="535.1" r="1.3"/><circle cx="511.5" cy="570.5" r="1.1"/><circle cx="506.3" cy="538.4" r="1.1"/><circle cx="481.3" cy="571.2" r="1.4"/><circle cx="450.2" cy="572.5" r="1.2"/><circle cx="436.9" cy="519.3" r="1.3"/><circle cx="435.7" cy="525.7" r="1.3"/><circle cx="460.2" cy="548.1" r="1.3"/><circle cx="456.7" cy="539.2" r="1.5"/><circle cx="502.5" cy="527.8" r="1.4"/><circle cx="509.2" cy="551.5" r="1.2"/><circle cx="512.3" cy="503.3" r="1.1"/><circle cx="410.7" cy="586.8" r="1.1"/><circle cx="427.3" cy="556.6" r="1.4"/><circle cx="433.1" cy="589.6" r="1.3"/><circle cx="447.4" cy="560.1" r="1.5"/><circle cx="462.3" cy="527.6" r="1.5"/><circle cx="490.2" cy="565.4" r="1.5"/><circle cx="446.7" cy="588.8" r="1.5"/><circle cx="502.5" cy="530.5" r="1.4"/><circle cx="463.8" cy="563.9" r="1.4"/><circle cx="476.6" cy="541.9" r="1.5"/><circle cx="457.3" cy="552.3" r="1.4"/><circle cx="495.2" cy="563.8" r="1.2"/><circle cx="390.4" cy="526.3" r="1.5"/><circle cx="457.2" cy="529.3" r="1.1"/><circle cx="404.7" cy="590.4" r="1.2"/><circle cx="445.3" cy="572.3" r="1.5"/><circle cx="444" cy="539.3" r="1.1"/><circle cx="453.6" cy="581.3" r="1.2"/><circle cx="434.8" cy="513.9" r="1.2"/><circle cx="474.5" cy="549.1" r="1.3"/><circle cx="410" cy="581.1" r="1.2"/><circle cx="459.6" cy="523.6" r="1.5"/><circle cx="439.7" cy="590.6" r="1.3"/><circle cx="450.8" cy="546.1" r="1.3"/><circle cx="492.5" cy="532.2" r="1.5"/><circle cx="502.7" cy="566.3" r="1.5"/><circle cx="477.3" cy="584.3" r="1.5"/><circle cx="468" cy="545.9" r="1.5"/><circle cx="477.2" cy="576.1" r="1.1"/><circle cx="473.4" cy="592.7" r="1.3"/><circle cx="449.7" cy="534.6" r="1.5"/><circle cx="490" cy="578.4" r="1.2"/><circle cx="467.2" cy="577.1" r="1.2"/><circle cx="476" cy="561.9" r="1.2"/><circle cx="477.8" cy="586.4" r="1.5"/><circle cx="479.9" cy="534.5" r="1.3"/><circle cx="490.7" cy="527.1" r="1.5"/><circle cx="485" cy="528.3" r="1.3"/><circle cx="441.8" cy="562.3" r="1.5"/><circle cx="407.9" cy="579.2" r="1.2"/><circle cx="441.9" cy="543.2" r="1.2"/><circle cx="491.5" cy="552.1" r="1.3"/><circle cx="444.1" cy="580.8" r="1.4"/><circle cx="498.1" cy="587.5" r="1.1"/><circle cx="498.7" cy="559" r="1.4"/><circle cx="432.8" cy="586.8" r="1.1"/><circle cx="501.3" cy="535.9" r="1.3"/><circle cx="506" cy="585.6" r="1.3"/><circle cx="504.5" cy="588.8" r="1.2"/><circle cx="505.1" cy="555.2" r="1.2"/><circle cx="475.5" cy="530.5" r="1.2"/><circle cx="481.1" cy="567.1" r="1.5"/><circle cx="475.2" cy="579.2" r="1.3"/><circle cx="434" cy="541.9" r="1.3"/><circle cx="454.2" cy="507.7" r="1.4"/><circle cx="447.8" cy="564.2" r="1.1"/><circle cx="476.4" cy="506.9" r="1.2"/><circle cx="511.1" cy="524.6" r="1.1"/><circle cx="462" cy="540" r="1.2"/><circle cx="440.8" cy="526.2" r="1.2"/><circle cx="513.8" cy="538.8" r="1.1"/><circle cx="512.9" cy="518.6" r="1.3"/><circle cx="436.5" cy="590.5" r="1.3"/><circle cx="460.2" cy="570.5" r="1.1"/><circle cx="494.3" cy="542.6" r="1.3"/><circle cx="450.6" cy="531" r="1.4"/><circle cx="509.7" cy="512" r="1.5"/><circle cx="505.2" cy="518.4" r="1.5"/><circle cx="498.7" cy="533.6" r="1.5"/><circle cx="475.3" cy="532.1" r="1.3"/><circle cx="392.8" cy="585.4" r="1.2"/><circle cx="471.5" cy="558.8" r="1.2"/><circle cx="450.9" cy="575.5" r="1.2"/><circle cx="477.2" cy="528.8" r="1.1"/><circle cx="481.2" cy="560.8" r="1.4"/><circle cx="445.1" cy="535.8" r="1.3"/><circle cx="504.7" cy="582" r="1.3"/><circle cx="492" cy="546.9" r="1.3"/><circle cx="442.4" cy="587.2" r="1.5"/><circle cx="511.7" cy="576.4" r="1.4"/><circle cx="415.5" cy="536.7" r="1.2"/><circle cx="469" cy="513.4" r="1.4"/><circle cx="505.5" cy="544.6" r="1.5"/><circle cx="463.1" cy="546" r="1.3"/><circle cx="427.6" cy="507.9" r="1.2"/><circle cx="463.5" cy="530.1" r="1.5"/><circle cx="456.9" cy="523.4" r="1.2"/><circle cx="404.1" cy="514.6" r="1.3"/><circle cx="468.7" cy="570.7" r="1.1"/><circle cx="453.9" cy="533.2" r="1.3"/><circle cx="504.4" cy="580.4" r="1.4"/><circle cx="489.9" cy="570.5" r="1.3"/><circle cx="454.8" cy="545.6" r="1.2"/><circle cx="491.9" cy="509.1" r="1.2"/><circle cx="465.5" cy="575" r="1.3"/><circle cx="480" cy="546.7" r="1.3"/><circle cx="455.7" cy="569.7" r="1.4"/><circle cx="438.6" cy="549" r="1.4"/><circle cx="513.3" cy="512.1" r="1.3"/><circle cx="490.5" cy="534.1" r="1.5"/><circle cx="435.1" cy="559" r="1.5"/><circle cx="503" cy="528.1" r="1.5"/><circle cx="397.4" cy="507.1" r="1.4"/><circle cx="490.3" cy="571.6" r="1.3"/><circle cx="459.1" cy="571.6" r="1.3"/><circle cx="463.1" cy="538.7" r="1.5"/><circle cx="507.6" cy="579.3" r="1.2"/><circle cx="499.6" cy="591.4" r="1.4"/><circle cx="446.9" cy="550.9" r="1.2"/><circle cx="493.3" cy="559.2" r="1.2"/><circle cx="465.1" cy="581.5" r="1.1"/><circle cx="462.4" cy="572.1" r="1.4"/><circle cx="401.8" cy="502.9" r="1.4"/><circle cx="455" cy="535.4" r="1.4"/><circle cx="505" cy="560" r="1.1"/><circle cx="474.7" cy="532.6" r="1.3"/><circle cx="456.9" cy="514.7" r="1.3"/><circle cx="450" cy="545.4" r="1.4"/><circle cx="439.9" cy="572.6" r="1.2"/><circle cx="483.4" cy="548.7" r="1.2"/><circle cx="480" cy="546.9" r="1.5"/><circle cx="493.4" cy="557.2" r="1.3"/><circle cx="433.2" cy="593" r="1.1"/><circle cx="500.9" cy="522.1" r="1.5"/><circle cx="442.1" cy="584.3" r="1.5"/><circle cx="488.2" cy="568.1" r="1.3"/><circle cx="436.8" cy="580.7" r="1.2"/><circle cx="420.4" cy="539.3" r="1.2"/><circle cx="498.4" cy="517.7" r="1.1"/><circle cx="489" cy="589.6" r="1.5"/><circle cx="461.8" cy="523.1" r="1.5"/><circle cx="473.1" cy="571.6" r="1.5"/><circle cx="484.6" cy="580.7" r="1.4"/><circle cx="473.3" cy="528.8" r="1.2"/><circle cx="450.7" cy="550.9" r="1.5"/><circle cx="438.9" cy="555.4" r="1.5"/><circle cx="439.4" cy="551.1" r="1.5"/><circle cx="463.5" cy="518.8" r="1.3"/><circle cx="445.8" cy="549.2" r="1.3"/><circle cx="456.5" cy="560.6" r="1.3"/><circle cx="450.5" cy="518.7" r="1.3"/><circle cx="499.8" cy="553.8" r="1.4"/><circle cx="434" cy="571.2" r="1.4"/><circle cx="440.2" cy="532.5" r="1.5"/><circle cx="480.5" cy="560" r="1.5"/><circle cx="404" cy="592.9" r="1.1"/><circle cx="463.8" cy="565.9" r="1.2"/><circle cx="461.1" cy="529.9" r="1.5"/><circle cx="474.6" cy="549.2" r="1.3"/><circle cx="486.6" cy="583.5" r="1.5"/><circle cx="470.2" cy="557.8" r="1.3"/><circle cx="488.8" cy="517.4" r="1.5"/><circle cx="498.3" cy="546" r="1.1"/><circle cx="489.2" cy="530.7" r="1.5"/><circle cx="468" cy="550.4" r="1.5"/><circle cx="455.5" cy="555.5" r="1.3"/><circle cx="470.9" cy="567.1" r="1.3"/><circle cx="471.2" cy="558.1" r="1.3"/><circle cx="496.3" cy="550.6" r="1.4"/><circle cx="464.3" cy="547.5" r="1.3"/><circle cx="432.4" cy="506.8" r="1.1"/><circle cx="452.8" cy="535.5" r="1.5"/><circle cx="469.1" cy="571" r="1.3"/><circle cx="444.5" cy="518.5" r="1.3"/><circle cx="462" cy="575.7" r="1.3"/><circle cx="489.3" cy="563.1" r="1.4"/><circle cx="505.6" cy="590.5" r="1.3"/><circle cx="450" cy="580" r="1.1"/><circle cx="500.1" cy="564.8" r="1.5"/><circle cx="473.7" cy="581" r="1.2"/><circle cx="473.5" cy="539.9" r="1.3"/><circle cx="492.7" cy="538.8" r="1.4"/><circle cx="497" cy="549.6" r="1.5"/><circle cx="469.8" cy="584.4" r="1.4"/><circle cx="421.7" cy="514.7" r="1.4"/><circle cx="490.4" cy="515.5" r="1.5"/><circle cx="477" cy="528.7" r="1.5"/><circle cx="468" cy="541.2" r="1.5"/><circle cx="478.4" cy="506.7" r="1.3"/><circle cx="508.6" cy="584.3" r="1.2"/><circle cx="483.7" cy="548.2" r="1.3"/><circle cx="464.7" cy="530.5" r="1.4"/><circle cx="435.3" cy="526.9" r="1.4"/><circle cx="450.8" cy="579.6" r="1.3"/><circle cx="433.9" cy="590.7" r="1.3"/><circle cx="411" cy="502.5" r="1.4"/><circle cx="395.8" cy="582.5" r="1.5"/><circle cx="491.2" cy="557.4" r="1.4"/><circle cx="490.7" cy="578.5" r="1.1"/><circle cx="512.6" cy="581.2" r="1.4"/><circle cx="498.3" cy="560.9" r="1.3"/><circle cx="511.9" cy="548" r="1.2"/><circle cx="504.4" cy="533.6" r="1.3"/><circle cx="457.6" cy="553" r="1.1"/><circle cx="500.6" cy="555.4" r="1.2"/><circle cx="451.3" cy="541.3" r="1.4"/><circle cx="420.1" cy="590.5" r="1.2"/><circle cx="496.3" cy="574.2" r="1.4"/><circle cx="477.6" cy="579.8" r="1.2"/><circle cx="473.3" cy="551.9" r="1.5"/><circle cx="444.1" cy="589.9" r="1.2"/><circle cx="472.6" cy="517.6" r="1.1"/><circle cx="441.5" cy="551.5" r="1.2"/><circle cx="498.6" cy="588" r="1.4"/><circle cx="445.2" cy="533.2" r="1.3"/><circle cx="422.8" cy="575.8" r="1.5"/><circle cx="500.6" cy="532.6" r="1.5"/><circle cx="492.5" cy="554.8" r="1.4"/><circle cx="455.6" cy="556" r="1.5"/><circle cx="506.4" cy="542.2" r="1.3"/><circle cx="484.8" cy="577.7" r="1.1"/><circle cx="456.1" cy="525" r="1.4"/><circle cx="497.1" cy="540" r="1.1"/><circle cx="468.9" cy="551.7" r="1.5"/><circle cx="495" cy="581" r="1.3"/><circle cx="472.9" cy="527.7" r="1.4"/><circle cx="456.2" cy="513.2" r="1.5"/><circle cx="423.7" cy="529.6" r="1.1"/><circle cx="462.3" cy="531.8" r="1.3"/><circle cx="396.9" cy="576.4" r="1.4"/><circle cx="407.2" cy="591.9" r="1.3"/><circle cx="473.6" cy="559.9" r="1.3"/><circle cx="456.2" cy="562.8" r="1.4"/><circle cx="436.7" cy="569.3" r="1.1"/><circle cx="401" cy="513.3" r="1.2"/><circle cx="511.4" cy="508.3" r="1.5"/><circle cx="509.1" cy="522.1" r="1.4"/><circle cx="470.3" cy="560.6" r="1.1"/><circle cx="457" cy="538.3" r="1.2"/><circle cx="481.7" cy="558.4" r="1.5"/><circle cx="498" cy="571.5" r="1.4"/><circle cx="454.5" cy="537.9" r="1.5"/><circle cx="485.5" cy="576" r="1.4"/><circle cx="510.1" cy="537.9" r="1.4"/><circle cx="457.3" cy="566.6" r="1.5"/><circle cx="508.4" cy="520.2" r="1.4"/><circle cx="500.7" cy="581.1" r="1.2"/><circle cx="504.8" cy="537.8" r="1.3"/><circle cx="490.2" cy="566.7" r="1.3"/><circle cx="508.7" cy="528.5" r="1.4"/><circle cx="442.4" cy="527.2" r="1.3"/><circle cx="492.2" cy="576.8" r="1.5"/><circle cx="455.7" cy="568.9" r="1.2"/><circle cx="415.2" cy="509.3" r="1.5"/><circle cx="467.7" cy="531.5" r="1.3"/><circle cx="420.2" cy="511.6" r="1.2"/><circle cx="501.7" cy="576.4" r="1.2"/><circle cx="497" cy="532.6" r="1.4"/><circle cx="470.1" cy="544.5" r="1.4"/><circle cx="420.2" cy="573.1" r="1.5"/><circle cx="478.4" cy="561.5" r="1.2"/><circle cx="478.8" cy="554.7" r="1.5"/><circle cx="443.9" cy="528.4" r="1.2"/><circle cx="462.6" cy="586.9" r="1.4"/><circle cx="443.4" cy="583.4" r="1.1"/><circle cx="444.6" cy="505.4" r="1.4"/><circle cx="442.6" cy="564.1" r="1.3"/><circle cx="446.8" cy="523.8" r="1.4"/><circle cx="509.7" cy="531.3" r="1.2"/><circle cx="466.1" cy="542" r="1.4"/><circle cx="492.6" cy="531.8" r="1.3"/><circle cx="488.5" cy="559.7" r="1.3"/><circle cx="459.8" cy="541" r="1.4"/><circle cx="508.5" cy="560.7" r="1.4"/><circle cx="454.9" cy="532.6" r="1.4"/><circle cx="428.4" cy="579.7" r="1.5"/><circle cx="444.8" cy="531.1" r="1.2"/><circle cx="446.3" cy="555.8" r="1.3"/><circle cx="455.9" cy="523.1" r="1.1"/><circle cx="435.3" cy="527" r="1.4"/><circle cx="485.2" cy="557.5" r="1.4"/><circle cx="511.9" cy="580.6" r="1.3"/><circle cx="496.1" cy="574.4" r="1.4"/><circle cx="500.3" cy="548.2" r="1.2"/><circle cx="440.6" cy="530.4" r="1.4"/><circle cx="501" cy="576.2" r="1.2"/><circle cx="474.7" cy="568.9" r="1.4"/><circle cx="491.1" cy="551.3" r="1.3"/><circle cx="446.6" cy="578.3" r="1.2"/><circle cx="447.4" cy="581.5" r="1.3"/><circle cx="442.6" cy="589.7" r="1.4"/><circle cx="492.4" cy="561.4" r="1.5"/><circle cx="450.4" cy="576.3" r="1.4"/><circle cx="453.2" cy="563.7" r="1.4"/><circle cx="391.4" cy="582.6" r="1.3"/><circle cx="436" cy="589.2" r="1.4"/><circle cx="444.7" cy="557.2" r="1.1"/><circle cx="491.9" cy="547.4" r="1.2"/><circle cx="433.9" cy="536" r="1.3"/><circle cx="414" cy="527.3" r="1.1"/><circle cx="512.3" cy="586.6" r="1.4"/><circle cx="511.4" cy="551.3" r="1.1"/><circle cx="501" cy="558.8" r="1.1"/><circle cx="469.6" cy="579.2" r="1.2"/><circle cx="466.3" cy="542.5" r="1.4"/><circle cx="472.5" cy="544.8" r="1.2"/><circle cx="401.6" cy="509" r="1.4"/><circle cx="448.5" cy="521" r="1.2"/><circle cx="483" cy="587" r="1.2"/><circle cx="508.5" cy="592.8" r="1.2"/><circle cx="439.4" cy="538.1" r="1.5"/><circle cx="447.7" cy="530" r="1.1"/><circle cx="469.4" cy="575.5" r="1.2"/><circle cx="489.8" cy="540.2" r="1.5"/><circle cx="463.9" cy="539.8" r="1.5"/><circle cx="450.5" cy="591.1" r="1.5"/><circle cx="456.3" cy="565.8" r="1.2"/><circle cx="491.3" cy="528.6" r="1.2"/><circle cx="506.4" cy="586" r="1.4"/><circle cx="463" cy="569.1" r="1.4"/><circle cx="459.3" cy="524.9" r="1.3"/><circle cx="453.4" cy="585.4" r="1.3"/><circle cx="473.2" cy="530.4" r="1.4"/><circle cx="433.7" cy="541.8" r="1.1"/><circle cx="487.4" cy="560.9" r="1.4"/><circle cx="481.1" cy="565.7" r="1.3"/><circle cx="439.7" cy="507" r="1.5"/><circle cx="432.1" cy="514.1" r="1.4"/><circle cx="479.8" cy="554.2" r="1.1"/><circle cx="491.7" cy="571.1" r="1.2"/><circle cx="450" cy="528.9" r="1.5"/><circle cx="462.1" cy="572.4" r="1.2"/><circle cx="436.4" cy="551.9" r="1.2"/><circle cx="476" cy="530.3" r="1.4"/><circle cx="493.1" cy="543.5" r="1.2"/><circle cx="464.5" cy="559.8" r="1.4"/><circle cx="473" cy="532.5" r="1.5"/><circle cx="425.8" cy="508.1" r="1.5"/><circle cx="507.5" cy="503" r="1.3"/><circle cx="465.1" cy="538.5" r="1.5"/><circle cx="510.9" cy="540.8" r="1.5"/><circle cx="505.6" cy="516.9" r="1.5"/><circle cx="403.3" cy="585.6" r="1.2"/><circle cx="479.8" cy="589.6" r="1.4"/><circle cx="478.6" cy="589.1" r="1.5"/><circle cx="456" cy="530.5" r="1.5"/><circle cx="504.2" cy="551.5" r="1.1"/><circle cx="471.9" cy="549" r="1.3"/><circle cx="448.6" cy="549.5" r="1.5"/><circle cx="438.9" cy="518.8" r="1.5"/><circle cx="426.3" cy="558.3" r="1.2"/><circle cx="490" cy="548.9" r="1.5"/><circle cx="421" cy="507" r="1.3"/><circle cx="420.5" cy="515.8" r="1.4"/><circle cx="502.3" cy="524.4" r="1.1"/><circle cx="499.1" cy="568.1" r="1.3"/><circle cx="472" cy="568.8" r="1.2"/><circle cx="488.6" cy="580.9" r="1.2"/><circle cx="497.4" cy="531" r="1.4"/><circle cx="445.3" cy="538.6" r="1.3"/><circle cx="433" cy="521.6" r="1.3"/><circle cx="505.9" cy="526.2" r="1.4"/><circle cx="472.7" cy="562.3" r="1.4"/><circle cx="462.1" cy="578.1" r="1.4"/><circle cx="485.3" cy="564.1" r="1.1"/><circle cx="440.7" cy="529.5" r="1.4"/><circle cx="502" cy="567.9" r="1.4"/><circle cx="454.3" cy="573.5" r="1.2"/><circle cx="489.9" cy="525.7" r="1.2"/><circle cx="429.2" cy="579.1" r="1.3"/><circle cx="437.8" cy="553.8" r="1.3"/><circle cx="512.9" cy="592.6" r="1.3"/><circle cx="511.7" cy="548.2" r="1.1"/><circle cx="406.5" cy="523.3" r="1.3"/><circle cx="496.9" cy="546" r="1.2"/><circle cx="429.5" cy="585.2" r="1.2"/><circle cx="491.7" cy="575.5" r="1.5"/><circle cx="510.7" cy="577.6" r="1.2"/><circle cx="489.7" cy="526.8" r="1.3"/><circle cx="455.4" cy="522.4" r="1.3"/><circle cx="393" cy="589.1" r="1.5"/><circle cx="392.7" cy="525.6" r="1.4"/><circle cx="504.6" cy="563.4" r="1.2"/><circle cx="493.2" cy="531.6" r="1.1"/><circle cx="477.4" cy="572.8" r="1.4"/><circle cx="490.4" cy="572.5" r="1.4"/><circle cx="457.9" cy="550.9" r="1.3"/><circle cx="480.3" cy="543.3" r="1.2"/><circle cx="512.1" cy="562.6" r="1.4"/><circle cx="469.4" cy="542.7" r="1.2"/><circle cx="484.6" cy="564.8" r="1.2"/><circle cx="450.3" cy="525.6" r="1.3"/><circle cx="466.7" cy="571.5" r="1.5"/><circle cx="495.6" cy="560.5" r="1.2"/><circle cx="456.9" cy="502.5" r="1.2"/><circle cx="430.7" cy="509.9" r="1.4"/><circle cx="445.7" cy="523.2" r="1.2"/><circle cx="481.6" cy="589.3" r="1.5"/><circle cx="445.5" cy="557.7" r="1.4"/><circle cx="471.4" cy="558.6" r="1.5"/><circle cx="444.9" cy="504.7" r="1.5"/><circle cx="444.1" cy="563.8" r="1.4"/><circle cx="494.7" cy="575" r="1.5"/><circle cx="443.7" cy="565.8" r="1.2"/><circle cx="469.9" cy="543.3" r="1.2"/><circle cx="490.2" cy="537.5" r="1.2"/><circle cx="495" cy="558.4" r="1.5"/><circle cx="441.5" cy="529.6" r="1.5"/><circle cx="478.9" cy="562.5" r="1.4"/><circle cx="452.7" cy="584.4" r="1.3"/><circle cx="404.3" cy="544.4" r="1.1"/><circle cx="499.2" cy="584.3" r="1.4"/><circle cx="422.9" cy="544.5" r="1.3"/><circle cx="490.4" cy="508.4" r="1.5"/><circle cx="484.5" cy="553.3" r="1.4"/><circle cx="499.5" cy="543.2" r="1.5"/><circle cx="512.5" cy="587.5" r="1.2"/><circle cx="488.7" cy="563.2" r="1.3"/><circle cx="495.8" cy="514.8" r="1.3"/><circle cx="458.5" cy="537" r="1.4"/><circle cx="449.3" cy="506" r="1.5"/><circle cx="453.5" cy="548.1" r="1.2"/><circle cx="471.1" cy="502.8" r="1.2"/><circle cx="466.7" cy="586.6" r="1.1"/><circle cx="505.8" cy="516.1" r="1.2"/><circle cx="510.7" cy="566.8" r="1.1"/><circle cx="478.4" cy="575.2" r="1.4"/><circle cx="504.6" cy="557.2" r="1.1"/><circle cx="459.1" cy="576.5" r="1.5"/><circle cx="487.1" cy="532.2" r="1.2"/><circle cx="447" cy="580.7" r="1.5"/><circle cx="487.7" cy="572.3" r="1.2"/><circle cx="481.8" cy="566.3" r="1.5"/><circle cx="468.1" cy="549.3" r="1.2"/><circle cx="498.8" cy="555.1" r="1.1"/><circle cx="498.5" cy="526.1" r="1.5"/><circle cx="437.3" cy="587.3" r="1.2"/><circle cx="445.9" cy="560.6" r="1.5"/><circle cx="484.2" cy="564.5" r="1.2"/><circle cx="431.8" cy="505.3" r="1.3"/><circle cx="460" cy="580.8" r="1.3"/><circle cx="456" cy="513.7" r="1.5"/><circle cx="511.4" cy="528.3" r="1.1"/><circle cx="484" cy="554.9" r="1.2"/><circle cx="502.4" cy="557.2" r="1.2"/><circle cx="476.6" cy="584.9" r="1.2"/><circle cx="483.1" cy="564.1" r="1.4"/><circle cx="464.2" cy="581.6" r="1.5"/><circle cx="471.4" cy="570.7" r="1.5"/><circle cx="452.6" cy="552.3" r="1.5"/><circle cx="511.8" cy="525.2" r="1.2"/><circle cx="415.8" cy="526.8" r="1.4"/><circle cx="484.9" cy="533.6" r="1.3"/><circle cx="508.2" cy="581" r="1.2"/><circle cx="510.2" cy="577.8" r="1.2"/><circle cx="456.9" cy="569.6" r="1.5"/><circle cx="413.8" cy="537.2" r="1.2"/><circle cx="458.7" cy="567.9" r="1.5"/><circle cx="478" cy="538.5" r="1.2"/><circle cx="454.9" cy="558.3" r="1.3"/><circle cx="452.1" cy="524.6" r="1.3"/><circle cx="438" cy="557.1" r="1.5"/><circle cx="454" cy="561.9" r="1.4"/><circle cx="473.8" cy="528.9" r="1.3"/><circle cx="447.1" cy="578.6" r="1.2"/><circle cx="481.5" cy="570.4" r="1.4"/><circle cx="396.4" cy="530.4" r="1.3"/><circle cx="462.2" cy="536.4" r="1.5"/><circle cx="499.1" cy="570.3" r="1.2"/><circle cx="447.2" cy="547.9" r="1.4"/><circle cx="511.9" cy="528" r="1.3"/><circle cx="511.4" cy="564.3" r="1.3"/><circle cx="412.4" cy="517.6" r="1.3"/><circle cx="505.8" cy="529.6" r="1.2"/><circle cx="488.5" cy="551.3" r="1.5"/><circle cx="482" cy="575.8" r="1.4"/><circle cx="460.6" cy="554.8" r="1.4"/><circle cx="471.2" cy="544.5" r="1.3"/><circle cx="397.3" cy="588.4" r="1.2"/><circle cx="456.4" cy="559.8" r="1.1"/><circle cx="511.7" cy="544.6" r="1.1"/><circle cx="457.9" cy="516.4" r="1.1"/><circle cx="512.2" cy="521.6" r="1.4"/><circle cx="485.7" cy="569.5" r="1.4"/><circle cx="463.4" cy="507.7" r="1.1"/><circle cx="461.2" cy="538" r="1.2"/><circle cx="459.6" cy="538.4" r="1.1"/><circle cx="477.4" cy="532.4" r="1.2"/><circle cx="494.6" cy="575.5" r="1.3"/><circle cx="450.2" cy="576.9" r="1.3"/><circle cx="468.2" cy="567.1" r="1.3"/><circle cx="482.2" cy="503.2" r="1.4"/><circle cx="468.3" cy="566.7" r="1.4"/><circle cx="397.7" cy="545.5" r="1.4"/><circle cx="410.2" cy="530.2" r="1.2"/><circle cx="485.5" cy="556.6" r="1.5"/><circle cx="428.7" cy="564" r="1.5"/><circle cx="398" cy="589" r="1.5"/><circle cx="458.7" cy="505.6" r="1.5"/><circle cx="507.8" cy="587.5" r="1.4"/><circle cx="497.6" cy="576" r="1.3"/><circle cx="498.8" cy="590.5" r="1.3"/><circle cx="451.6" cy="531.1" r="1.2"/><circle cx="486.5" cy="565.5" r="1.4"/><circle cx="497.5" cy="571.7" r="1.1"/><circle cx="430" cy="582.5" r="1.4"/><circle cx="476.6" cy="534.4" r="1.1"/><circle cx="432.9" cy="589.1" r="1.3"/><circle cx="504.9" cy="525.3" r="1.5"/><circle cx="443.3" cy="567.9" r="1.5"/><circle cx="482.8" cy="589.9" r="1.5"/><circle cx="506.1" cy="573" r="1.3"/><circle cx="434.1" cy="568.1" r="1.5"/><circle cx="486.5" cy="576.7" r="1.4"/><circle cx="506" cy="516" r="1.1"/><circle cx="457.8" cy="556.7" r="1.5"/><circle cx="429.4" cy="519.6" r="1.1"/><circle cx="447.3" cy="580.1" r="1.4"/><circle cx="499.6" cy="521.6" r="1.5"/><circle cx="483.9" cy="508.4" r="1.4"/><circle cx="494.8" cy="581.6" r="1.4"/><circle cx="461.3" cy="560.1" r="1.1"/><circle cx="469.9" cy="561.1" r="1.3"/><circle cx="506.6" cy="590.9" r="1.1"/><circle cx="482.2" cy="586.2" r="1.2"/><circle cx="513.1" cy="537.1" r="1.1"/><circle cx="439" cy="546.9" r="1.4"/><circle cx="511.9" cy="540.2" r="1.3"/><circle cx="454.3" cy="536.5" r="1.3"/><circle cx="483.8" cy="510.4" r="1.2"/><circle cx="485.9" cy="537.4" r="1.1"/><circle cx="448.2" cy="576.4" r="1.4"/><circle cx="497" cy="547.8" r="1.3"/><circle cx="467" cy="531" r="1.2"/><circle cx="454.1" cy="573.7" r="1.5"/><circle cx="503.9" cy="523.9" r="1.1"/><circle cx="452.4" cy="536.5" r="1.2"/><circle cx="464.8" cy="525.7" r="1.4"/><circle cx="428" cy="518.5" r="1.5"/><circle cx="504.5" cy="554.8" r="1.5"/><circle cx="507.3" cy="539.6" r="1.4"/><circle cx="437.5" cy="560.1" r="1.5"/><circle cx="489.9" cy="526.6" r="1.2"/><circle cx="446.5" cy="549.6" r="1.4"/><circle cx="455" cy="536.3" r="1.3"/><circle cx="460.1" cy="529.9" r="1.5"/><circle cx="502.3" cy="581.4" r="1.2"/><circle cx="507.3" cy="561.1" r="1.3"/><circle cx="445" cy="510.1" r="1.5"/><circle cx="477.7" cy="550.3" r="1.5"/><circle cx="479.3" cy="584.8" r="1.2"/><circle cx="403.6" cy="574.7" r="1.2"/><circle cx="509.2" cy="551.9" r="1.3"/><circle cx="454.6" cy="556.8" r="1.3"/><circle cx="434.1" cy="592.9" r="1.2"/><circle cx="504" cy="546.8" r="1.4"/><circle cx="443.5" cy="563.1" r="1.1"/><circle cx="498.4" cy="551.6" r="1.2"/><circle cx="450.2" cy="527.3" r="1.5"/><circle cx="423" cy="579.8" r="1.5"/><circle cx="439.6" cy="543.1" r="1.3"/><circle cx="449.6" cy="532.3" r="1.3"/><circle cx="436.5" cy="556.3" r="1.1"/><circle cx="465.6" cy="550.8" r="1.5"/><circle cx="462" cy="542.3" r="1.3"/><circle cx="495.1" cy="531.6" r="1.3"/><circle cx="442.1" cy="550" r="1.2"/><circle cx="442.3" cy="551.7" r="1.4"/><circle cx="460" cy="587.7" r="1.3"/><circle cx="478.3" cy="569.7" r="1.3"/><circle cx="444.5" cy="592.4" r="1.4"/><circle cx="489.3" cy="568.8" r="1.3"/><circle cx="455.5" cy="554.9" r="1.3"/><circle cx="443" cy="566.1" r="1.5"/><circle cx="390.8" cy="574.9" r="1.2"/><circle cx="463.5" cy="549.7" r="1.3"/><circle cx="466.6" cy="529" r="1.5"/><circle cx="446.7" cy="555.9" r="1.2"/><circle cx="504.4" cy="567.2" r="1.4"/><circle cx="447.6" cy="579.4" r="1.5"/><circle cx="467.1" cy="546.9" r="1.5"/><circle cx="453.2" cy="544.4" r="1.4"/><circle cx="446.7" cy="586.3" r="1.5"/><circle cx="453.8" cy="578.3" r="1.2"/><circle cx="501.9" cy="577.3" r="1.5"/><circle cx="458.8" cy="564.2" r="1.3"/><circle cx="446" cy="576.5" r="1.2"/><circle cx="430.7" cy="524.5" r="1.2"/><circle cx="425.7" cy="542.9" r="1.4"/><circle cx="453.5" cy="582.3" r="1.2"/><circle cx="455.7" cy="565.6" r="1.3"/><circle cx="483.3" cy="545.6" r="1.3"/><circle cx="413.1" cy="573.6" r="1.3"/><circle cx="479.3" cy="530" r="1.2"/><circle cx="510.3" cy="584.5" r="1.2"/><circle cx="487" cy="537.5" r="1.5"/><circle cx="480.9" cy="562.6" r="1.2"/><circle cx="511.4" cy="576.6" r="1.4"/><circle cx="499" cy="507.6" r="1.2"/><circle cx="465" cy="541.3" r="1.5"/><circle cx="445.5" cy="557" r="1.4"/><circle cx="458.6" cy="554.2" r="1.1"/><circle cx="429.8" cy="553.2" r="1.4"/><circle cx="499.5" cy="540.6" r="1.4"/><circle cx="462.1" cy="514.1" r="1.5"/><circle cx="473.4" cy="534.2" r="1.5"/><circle cx="465.7" cy="543.2" r="1.3"/><circle cx="497.8" cy="555.9" r="1.3"/><circle cx="471.4" cy="584.3" r="1.4"/><circle cx="499.7" cy="584.3" r="1.5"/><circle cx="459.2" cy="535" r="1.3"/><circle cx="478.8" cy="567.3" r="1.5"/><circle cx="449.2" cy="535.9" r="1.4"/><circle cx="435.1" cy="506.6" r="1.3"/><circle cx="468.8" cy="513.2" r="1.4"/><circle cx="500.7" cy="516.2" r="1.3"/><circle cx="414.5" cy="580.1" r="1.5"/><circle cx="493" cy="568.1" r="1.5"/><circle cx="465.6" cy="544.9" r="1.5"/><circle cx="466.9" cy="580.8" r="1.2"/><circle cx="495.2" cy="585.9" r="1.5"/><circle cx="506.9" cy="582.8" r="1.3"/><circle cx="422.2" cy="591.4" r="1.5"/><circle cx="430.2" cy="547.3" r="1.4"/><circle cx="468.9" cy="547.9" r="1.1"/><circle cx="433.5" cy="579.4" r="1.5"/><circle cx="468.9" cy="524.6" r="1.2"/><circle cx="451" cy="552.1" r="1.3"/><circle cx="442.4" cy="526.7" r="1.1"/><circle cx="486.5" cy="559.4" r="1.5"/><circle cx="453.6" cy="568.2" r="1.3"/><circle cx="500.1" cy="526.3" r="1.5"/><circle cx="503.6" cy="570.3" r="1.5"/><circle cx="426.6" cy="510.3" r="1.4"/><circle cx="491.2" cy="566.6" r="1.2"/><circle cx="473.5" cy="555.8" r="1.5"/><circle cx="498.1" cy="572.2" r="1.5"/><circle cx="447.9" cy="566.8" r="1.2"/><circle cx="446.9" cy="549.4" r="1.1"/><circle cx="496.2" cy="556.6" r="1.2"/><circle cx="397.4" cy="523.4" r="1.2"/><circle cx="470.1" cy="560.1" r="1.3"/><circle cx="475" cy="541.6" r="1.3"/><circle cx="507.8" cy="573" r="1.3"/><circle cx="454.1" cy="555.7" r="1.3"/><circle cx="478.4" cy="591.8" r="1.1"/><circle cx="497.1" cy="580" r="1.5"/><circle cx="498.2" cy="574.5" r="1.2"/><circle cx="506.5" cy="534.4" r="1.2"/><circle cx="473.9" cy="546.9" r="1.4"/><circle cx="475.7" cy="555.1" r="1.3"/><circle cx="455.9" cy="572.8" r="1.5"/><circle cx="513.5" cy="524.7" r="1.5"/><circle cx="501.1" cy="516.9" r="1.4"/><circle cx="498.3" cy="549" r="1.3"/><circle cx="474.2" cy="546.1" r="1.2"/><circle cx="483.3" cy="532.2" r="1.5"/><circle cx="511.4" cy="565.9" r="1.5"/><circle cx="400.3" cy="517.6" r="1.2"/><circle cx="432.5" cy="522.6" r="1.2"/><circle cx="450.5" cy="545.3" r="1.3"/><circle cx="507.4" cy="578.4" r="1.2"/><circle cx="471.9" cy="566.5" r="1.5"/><circle cx="401" cy="531.5" r="1.3"/><circle cx="461.2" cy="532.9" r="1.4"/><circle cx="513.1" cy="591.1" r="1.2"/><circle cx="402.6" cy="587.2" r="1.2"/><circle cx="434.9" cy="581.3" r="1.4"/><circle cx="511.5" cy="565.5" r="1.1"/><circle cx="439.9" cy="532.2" r="1.5"/><circle cx="448.1" cy="587.7" r="1.3"/><circle cx="457.9" cy="526.2" r="1.5"/><circle cx="442.7" cy="543.5" r="1.3"/><circle cx="470.9" cy="581.2" r="1.4"/><circle cx="411.1" cy="592.4" r="1.5"/><circle cx="449.7" cy="566.3" r="1.3"/><circle cx="498.3" cy="588.1" r="1.5"/><circle cx="450.4" cy="520.7" r="1.2"/><circle cx="507.7" cy="544.8" r="1.5"/><circle cx="463.8" cy="545.1" r="1.1"/><circle cx="458.9" cy="531.8" r="1.3"/><circle cx="493.5" cy="505.1" r="1.4"/><circle cx="394.9" cy="585.3" r="1.2"/><circle cx="511.6" cy="589.4" r="1.2"/><circle cx="503" cy="527.6" r="1.4"/><circle cx="470.3" cy="564.8" r="1.5"/><circle cx="511.2" cy="530.9" r="1.4"/><circle cx="496.8" cy="566.8" r="1.3"/><circle cx="492.7" cy="567.6" r="1.4"/><circle cx="504.9" cy="544.7" r="1.4"/><circle cx="430.5" cy="546" r="1.2"/><circle cx="505.4" cy="550.6" r="1.2"/><circle cx="511.2" cy="565.9" r="1.1"/><circle cx="494" cy="528.3" r="1.1"/><circle cx="426.8" cy="591.1" r="1.5"/><circle cx="477" cy="533.2" r="1.2"/><circle cx="508.8" cy="542.9" r="1.2"/><circle cx="440.3" cy="513.2" r="1.5"/><circle cx="390.4" cy="533.9" r="1.2"/><circle cx="412.8" cy="535.1" r="1.3"/><circle cx="427.7" cy="512" r="1.4"/><circle cx="431.7" cy="552.9" r="1.5"/><circle cx="470.3" cy="547.5" r="1.4"/><circle cx="446" cy="568.1" r="1.2"/><circle cx="478.1" cy="580.5" r="1.5"/><circle cx="488" cy="511" r="1.3"/><circle cx="437" cy="545.6" r="1.2"/><circle cx="484.9" cy="532.9" r="1.4"/><circle cx="480" cy="587.4" r="1.5"/><circle cx="456.5" cy="538" r="1.4"/><circle cx="484.6" cy="528.6" r="1.3"/><circle cx="477.1" cy="591" r="1.3"/><circle cx="453.2" cy="529.4" r="1.4"/><circle cx="506.2" cy="564" r="1.2"/><circle cx="456.5" cy="557.2" r="1.4"/><circle cx="438.2" cy="552.9" r="1.2"/><circle cx="468.9" cy="559.8" r="1.2"/><circle cx="414.5" cy="504.6" r="1.1"/><circle cx="446" cy="576.6" r="1.5"/><circle cx="479.8" cy="574.2" r="1.3"/><circle cx="471.9" cy="512.5" r="1.5"/><circle cx="446" cy="557.7" r="1.2"/><circle cx="448" cy="576.1" r="1.3"/><circle cx="499.5" cy="526.5" r="1.1"/><circle cx="488.2" cy="521.1" r="1.3"/><circle cx="442.7" cy="527.3" r="1.2"/><circle cx="460.9" cy="542.7" r="1.2"/><circle cx="472" cy="527.9" r="1.2"/><circle cx="456.5" cy="539.2" r="1.2"/><circle cx="402.5" cy="514.1" r="1.3"/><circle cx="477.9" cy="570.3" r="1.4"/><circle cx="430.3" cy="533.5" r="1.5"/><circle cx="508.5" cy="503.1" r="1.2"/><circle cx="461.4" cy="520.6" r="1.2"/><circle cx="454.3" cy="551.3" r="1.3"/><circle cx="466.7" cy="554.3" r="1.2"/><circle cx="510.1" cy="574.5" r="1.2"/><circle cx="506.3" cy="560.8" r="1.5"/><circle cx="502.7" cy="518.8" r="1.4"/><circle cx="392.3" cy="574.2" r="1.1"/><circle cx="396.1" cy="525.8" r="1.2"/><circle cx="434.4" cy="546.2" r="1.3"/><circle cx="481" cy="555.2" r="1.1"/><circle cx="397.8" cy="536.2" r="1.5"/><circle cx="445" cy="582" r="1.1"/><circle cx="473" cy="534.3" r="1.3"/><circle cx="454.5" cy="576.4" r="1.5"/><circle cx="389.9" cy="521.1" r="1.5"/><circle cx="496.3" cy="558.2" r="1.3"/><circle cx="491.4" cy="508.2" r="1.5"/><circle cx="495.1" cy="570" r="1.4"/><circle cx="467.8" cy="530.1" r="1.3"/><circle cx="460" cy="564.3" r="1.3"/><circle cx="500.3" cy="550.1" r="1.2"/><circle cx="510.3" cy="558.9" r="1.5"/><circle cx="462.7" cy="572.1" r="1.2"/><circle cx="499.2" cy="544.8" r="1.1"/><circle cx="404.8" cy="575.6" r="1.3"/><circle cx="450.2" cy="566.2" r="1.5"/><circle cx="436.3" cy="568.2" r="1.1"/><circle cx="450.8" cy="573.9" r="1.5"/><circle cx="473.8" cy="565.1" r="1.3"/><circle cx="464.8" cy="535.3" r="1.3"/><circle cx="449.2" cy="578.3" r="1.3"/><circle cx="467.5" cy="547" r="1.4"/><circle cx="432.8" cy="511.1" r="1.3"/><circle cx="503.2" cy="554.1" r="1.3"/><circle cx="392.3" cy="511.2" r="1.2"/><circle cx="465.8" cy="548" r="1.5"/><circle cx="407.5" cy="557.5" r="1.2"/><circle cx="485" cy="592.8" r="1.2"/><circle cx="433.3" cy="504.7" r="1.3"/><circle cx="468.8" cy="561.3" r="1.3"/><circle cx="503" cy="510" r="1.1"/><circle cx="481.7" cy="547.5" r="1.2"/><circle cx="508.9" cy="527.6" r="1.5"/><circle cx="433" cy="541.3" r="1.5"/><circle cx="426.4" cy="508.5" r="1.3"/><circle cx="472.4" cy="538" r="1.5"/><circle cx="440.8" cy="510.4" r="1.4"/><circle cx="511.4" cy="550.5" r="1.5"/><circle cx="499.9" cy="514.7" r="1.2"/><circle cx="494.7" cy="523.9" r="1.3"/><circle cx="449.4" cy="531.2" r="1.4"/><circle cx="421.5" cy="540.8" r="1.4"/><circle cx="508.9" cy="560.9" r="1.2"/><circle cx="455.6" cy="545.4" r="1.3"/><circle cx="416.8" cy="577.7" r="1.2"/><circle cx="434.2" cy="592.7" r="1.3"/><circle cx="475.1" cy="547.2" r="1.3"/><circle cx="512.4" cy="547.3" r="1.1"/><circle cx="476.3" cy="578.6" r="1.3"/><circle cx="512.9" cy="567.4" r="1.5"/><circle cx="468.6" cy="528.6" r="1.2"/><circle cx="476" cy="538.1" r="1.5"/><circle cx="450.3" cy="547" r="1.4"/><circle cx="478" cy="560.8" r="1.5"/><circle cx="505.8" cy="537.2" r="1.2"/><circle cx="467.2" cy="569.6" r="1.4"/><circle cx="506.1" cy="539.3" r="1.1"/><circle cx="410.1" cy="505" r="1.2"/><circle cx="478.9" cy="520.7" r="1.5"/><circle cx="438.3" cy="536.9" r="1.5"/><circle cx="513.3" cy="579.1" r="1.5"/><circle cx="481.3" cy="535.3" r="1.2"/><circle cx="437.8" cy="545.7" r="1.2"/><circle cx="441" cy="571.7" r="1.1"/><circle cx="390" cy="583.7" r="1.3"/><circle cx="511.4" cy="590.7" r="1.2"/><circle cx="456.4" cy="590.5" r="1.5"/><circle cx="449.8" cy="549.2" r="1.3"/><circle cx="441.1" cy="553.8" r="1.3"/><circle cx="458.1" cy="567.2" r="1.4"/><circle cx="449.9" cy="577.9" r="1.1"/><circle cx="498.6" cy="563.2" r="1.2"/><circle cx="478.8" cy="535.1" r="1.3"/><circle cx="402.1" cy="505.9" r="1.3"/><circle cx="397.6" cy="513.2" r="1.5"/><circle cx="400.1" cy="525.3" r="1.2"/><circle cx="511.1" cy="542.8" r="1.4"/><circle cx="456.2" cy="571.3" r="1.5"/><circle cx="446.7" cy="569.1" r="1.2"/><circle cx="414.2" cy="529.1" r="1.5"/><circle cx="461.5" cy="572.6" r="1.2"/><circle cx="511.9" cy="582" r="1.5"/><circle cx="450.1" cy="566.2" r="1.1"/><circle cx="504.3" cy="548.5" r="1.3"/><circle cx="439.5" cy="535.3" r="1.5"/><circle cx="469.4" cy="557.8" r="1.3"/><circle cx="475.8" cy="578.9" r="1.5"/><circle cx="477.6" cy="550.2" r="1.4"/><circle cx="429.2" cy="574.5" r="1.5"/><circle cx="499.1" cy="560.9" r="1.4"/><circle cx="509.8" cy="550.3" r="1.5"/><circle cx="471.5" cy="527.3" r="1.2"/><circle cx="463.7" cy="525.4" r="1.5"/><circle cx="482.5" cy="592.7" r="1.2"/><circle cx="486.8" cy="550.9" r="1.3"/><circle cx="405.7" cy="514.3" r="1.4"/><circle cx="466.4" cy="555" r="1.4"/><circle cx="434.9" cy="592.8" r="1.1"/><circle cx="495" cy="582.7" r="1.5"/><circle cx="501.7" cy="541" r="1.3"/><circle cx="454.7" cy="531.3" r="1.4"/><circle cx="419.9" cy="575.4" r="1.5"/><circle cx="500.4" cy="569.5" r="1.3"/><circle cx="395.2" cy="526.3" r="1.3"/><circle cx="499.5" cy="581.8" r="1.2"/><circle cx="431.7" cy="555" r="1.1"/><circle cx="499.8" cy="521.9" r="1.4"/><circle cx="417" cy="510.3" r="1.3"/><circle cx="390.6" cy="592.8" r="1.3"/><circle cx="410.9" cy="529.9" r="1.2"/><circle cx="476.1" cy="549" r="1.4"/><circle cx="420.1" cy="588.2" r="1.2"/><circle cx="501.8" cy="561.8" r="1.5"/><circle cx="468.5" cy="529.7" r="1.4"/><circle cx="405.6" cy="562.1" r="1.5"/><circle cx="471.5" cy="570.4" r="1.3"/><circle cx="472.6" cy="582.5" r="1.2"/><circle cx="507.4" cy="530.1" r="1.5"/><circle cx="470.2" cy="517" r="1.1"/><circle cx="506.7" cy="527.3" r="1.1"/><circle cx="490.5" cy="552.7" r="1.3"/><circle cx="471.7" cy="538.4" r="1.2"/><circle cx="505.9" cy="524.2" r="1.1"/><circle cx="438.7" cy="584.6" r="1.5"/><circle cx="393.9" cy="531" r="1.3"/><circle cx="476.3" cy="563.4" r="1.4"/><circle cx="393.7" cy="581.8" r="1.5"/><circle cx="505.8" cy="552.8" r="1.3"/><circle cx="509.2" cy="586.7" r="1.2"/><circle cx="435.5" cy="548.7" r="1.1"/><circle cx="434.4" cy="519.7" r="1.3"/><circle cx="511.5" cy="556.1" r="1.3"/><circle cx="471.9" cy="532.8" r="1.4"/><circle cx="427.8" cy="585.6" r="1.3"/><circle cx="454.7" cy="576.6" r="1.4"/><circle cx="483.6" cy="553.8" r="1.5"/><circle cx="510.8" cy="563.2" r="1.5"/><circle cx="471.5" cy="528" r="1.4"/><circle cx="423.3" cy="532.1" r="1.4"/><circle cx="458.4" cy="553.9" r="1.2"/><circle cx="436" cy="548.7" r="1.3"/><circle cx="493.6" cy="559.7" r="1.2"/><circle cx="494" cy="554.3" r="1.1"/><circle cx="495.8" cy="552.5" r="1.3"/><circle cx="508" cy="533.9" r="1.5"/><circle cx="470.1" cy="567.9" r="1.4"/><circle cx="496" cy="535.8" r="1.3"/><circle cx="482.7" cy="536.4" r="1.2"/><circle cx="495.2" cy="585.7" r="1.2"/><circle cx="478.3" cy="540.3" r="1.1"/><circle cx="457.2" cy="568.2" r="1.3"/><circle cx="454.3" cy="517.4" r="1.5"/><circle cx="503.2" cy="580.7" r="1.3"/><circle cx="424.7" cy="576" r="1.2"/><circle cx="398.7" cy="566" r="1.5"/><circle cx="506.9" cy="514" r="1.3"/><circle cx="462.3" cy="563.4" r="1.4"/><circle cx="472.9" cy="538.2" r="1.3"/><circle cx="393.2" cy="524.6" r="1.1"/><circle cx="458.4" cy="565.2" r="1.5"/><circle cx="428.4" cy="528.6" r="1.2"/><circle cx="427.4" cy="552.6" r="1.3"/><circle cx="443.2" cy="592.7" r="1.5"/><circle cx="428.9" cy="527.4" r="1.1"/><circle cx="498.8" cy="536.4" r="1.4"/><circle cx="456.9" cy="564.7" r="1.5"/><circle cx="456.3" cy="550.7" r="1.2"/><circle cx="465.1" cy="544.9" r="1.1"/><circle cx="439.6" cy="536.7" r="1.2"/><circle cx="392.6" cy="523.4" r="1.1"/><circle cx="491.1" cy="514.5" r="1.2"/><circle cx="397.8" cy="590.9" r="1.5"/><circle cx="502.8" cy="530.6" r="1.4"/><circle cx="408" cy="522" r="1.3"/><circle cx="464.4" cy="533.4" r="1.2"/><circle cx="472.2" cy="511.2" r="1.5"/><circle cx="460.3" cy="537.8" r="1.2"/><circle cx="509.2" cy="544.9" r="1.5"/><circle cx="489.9" cy="556.1" r="1.1"/><circle cx="471" cy="525.8" r="1.2"/><circle cx="509.4" cy="552.6" r="1.4"/><circle cx="411.8" cy="566.4" r="1.1"/><circle cx="493.7" cy="524.1" r="1.5"/><circle cx="420.3" cy="512.5" r="1.4"/><circle cx="426.4" cy="530.6" r="1.2"/><circle cx="491.8" cy="567.5" r="1.4"/><circle cx="463.4" cy="561.5" r="1.4"/><circle cx="501.9" cy="518" r="1.3"/><circle cx="471.5" cy="555.4" r="1.2"/><circle cx="484.9" cy="534.5" r="1.4"/><circle cx="513.3" cy="561" r="1.3"/><circle cx="473.6" cy="502.8" r="1.3"/><circle cx="491.5" cy="568.9" r="1.3"/><circle cx="492.3" cy="549.6" r="1.3"/><circle cx="447.9" cy="532.4" r="1.3"/><circle cx="435.5" cy="566.5" r="1.1"/><circle cx="489.7" cy="522.4" r="1.1"/><circle cx="498.8" cy="560" r="1.3"/><circle cx="466.2" cy="536.7" r="1.3"/><circle cx="397" cy="510.3" r="1.2"/><circle cx="493.1" cy="556.5" r="1.3"/><circle cx="402.2" cy="504.9" r="1.3"/><circle cx="472" cy="586.9" r="1.2"/><circle cx="446.3" cy="530.6" r="1.4"/><circle cx="480.3" cy="554.2" r="1.1"/><circle cx="477.4" cy="586.8" r="1.1"/><circle cx="407.1" cy="587.2" r="1.2"/><circle cx="453.9" cy="533.2" r="1.4"/><circle cx="450.8" cy="590.9" r="1.3"/><circle cx="513.3" cy="574" r="1.4"/><circle cx="430.4" cy="552.1" r="1.4"/><circle cx="512.2" cy="540" r="1.2"/><circle cx="455" cy="559.7" r="1.4"/><circle cx="444.3" cy="529.4" r="1.2"/><circle cx="438.4" cy="569.6" r="1.2"/><circle cx="493.3" cy="541.5" r="1.3"/><circle cx="496.9" cy="567.5" r="1.4"/><circle cx="484.1" cy="583.1" r="1.5"/><circle cx="434.7" cy="564.6" r="1.3"/><circle cx="444.1" cy="582.2" r="1.5"/><circle cx="447.2" cy="542.6" r="1.2"/><circle cx="489.7" cy="529.3" r="1.4"/><circle cx="456.9" cy="575.2" r="1.5"/><circle cx="477.4" cy="519.8" r="1.3"/><circle cx="471.5" cy="535.7" r="1.2"/><circle cx="496.3" cy="548.4" r="1.1"/><circle cx="450.7" cy="521.9" r="1.5"/><circle cx="445.1" cy="532.8" r="1.4"/><circle cx="463.2" cy="572.7" r="1.3"/><circle cx="481.6" cy="583.2" r="1.1"/><circle cx="489.4" cy="541.1" r="1.3"/><circle cx="466.7" cy="543.9" r="1.5"/><circle cx="465.2" cy="582.3" r="1.5"/><circle cx="511.5" cy="562" r="1.5"/><circle cx="457.9" cy="525" r="1.3"/><circle cx="441.6" cy="516.3" r="1.2"/><circle cx="440.7" cy="571.3" r="1.3"/><circle cx="461.5" cy="537.2" r="1.1"/><circle cx="489.3" cy="567" r="1.4"/><circle cx="443.4" cy="550.2" r="1.3"/><circle cx="486.6" cy="531.2" r="1.1"/><circle cx="506.8" cy="537.9" r="1.2"/><circle cx="512.3" cy="582.6" r="1.4"/><circle cx="431.7" cy="591" r="1.4"/><circle cx="456.9" cy="515.6" r="1.1"/><circle cx="425.1" cy="545.4" r="1.1"/><circle cx="473.8" cy="552.8" r="1.3"/><circle cx="484.9" cy="565.2" r="1.1"/><circle cx="484.4" cy="567.4" r="1.1"/><circle cx="459.8" cy="548.9" r="1.2"/><circle cx="404.5" cy="579.4" r="1.5"/><circle cx="457.6" cy="554.8" r="1.2"/><circle cx="470.9" cy="567.2" r="1.5"/><circle cx="504.1" cy="574.2" r="1.3"/><circle cx="394.6" cy="583.8" r="1.1"/><circle cx="398.6" cy="521.7" r="1.5"/><circle cx="402.9" cy="591.7" r="1.3"/><circle cx="458.2" cy="531" r="1.4"/><circle cx="471.9" cy="552.5" r="1.1"/><circle cx="469.1" cy="578.2" r="1.3"/><circle cx="508.6" cy="525.8" r="1.1"/><circle cx="494.5" cy="519" r="1.5"/><circle cx="481.4" cy="574.3" r="1.1"/><circle cx="494.7" cy="546.5" r="1.3"/><circle cx="462.2" cy="546.6" r="1.1"/><circle cx="401.3" cy="515.1" r="1.1"/><circle cx="432.7" cy="551.6" r="1.3"/><circle cx="420.9" cy="540.5" r="1.3"/><circle cx="484" cy="581.3" r="1.5"/><circle cx="395.7" cy="586.3" r="1.3"/><circle cx="473.1" cy="555.3" r="1.2"/><circle cx="476.1" cy="543.7" r="1.5"/><circle cx="463.7" cy="568.1" r="1.3"/><circle cx="462.8" cy="592.2" r="1.5"/><circle cx="438.6" cy="506.3" r="1.1"/><circle cx="481" cy="545" r="1.1"/><circle cx="461.8" cy="577.5" r="1.2"/><circle cx="512.9" cy="528.3" r="1.4"/><circle cx="491.5" cy="568" r="1.4"/><circle cx="467" cy="555.6" r="1.3"/><circle cx="485.4" cy="544.3" r="1.2"/><circle cx="442.2" cy="522.8" r="1.5"/><circle cx="475.3" cy="544.4" r="1.2"/><circle cx="446.8" cy="527.6" r="1.1"/><circle cx="468.3" cy="545.9" r="1.4"/><circle cx="393.6" cy="529.3" r="1.3"/><circle cx="448.8" cy="585.1" r="1.3"/><circle cx="434.2" cy="522.1" r="1.4"/><circle cx="455.8" cy="578.1" r="1.2"/><circle cx="490.5" cy="569.4" r="1.4"/><circle cx="509.8" cy="559.4" r="1.4"/><circle cx="485.4" cy="542.9" r="1.5"/><circle cx="464.9" cy="541.4" r="1.5"/><circle cx="477.3" cy="574.9" r="1.3"/><circle cx="460.5" cy="556.5" r="1.3"/><circle cx="438" cy="582.5" r="1.5"/><circle cx="437.5" cy="503.1" r="1.2"/><circle cx="453.3" cy="569.4" r="1.3"/><circle cx="406.9" cy="528.6" r="1.5"/><circle cx="483.2" cy="539.6" r="1.5"/><circle cx="491.2" cy="562.3" r="1.4"/><circle cx="437.2" cy="532.6" r="1.2"/><circle cx="424.3" cy="528.7" r="1.4"/><circle cx="434.2" cy="584.3" r="1.3"/><circle cx="473.4" cy="539.6" r="1.4"/><circle cx="458.4" cy="569.1" r="1.5"/><circle cx="434.4" cy="532.7" r="1.3"/><circle cx="446.2" cy="585" r="1.1"/><circle cx="473.4" cy="577.4" r="1.3"/><circle cx="432.6" cy="531.3" r="1.4"/><circle cx="486" cy="536.3" r="1.1"/><circle cx="493.9" cy="584.4" r="1.1"/><circle cx="459.9" cy="564.4" r="1.1"/><circle cx="436.5" cy="547.7" r="1.2"/><circle cx="513.8" cy="534.3" r="1.1"/><circle cx="468.4" cy="505.3" r="1.4"/><circle cx="513" cy="558.2" r="1.3"/><circle cx="449.4" cy="531.4" r="1.2"/><circle cx="452.9" cy="559.8" r="1.5"/><circle cx="458.9" cy="574.4" r="1.1"/><circle cx="458.6" cy="511.6" r="1.5"/><circle cx="470.3" cy="536.5" r="1.3"/><circle cx="463.6" cy="566.6" r="1.5"/><circle cx="502.3" cy="513.6" r="1.3"/><circle cx="471.9" cy="546.7" r="1.3"/><circle cx="492.3" cy="535.3" r="1.2"/><circle cx="415.5" cy="575.9" r="1.1"/><circle cx="507.2" cy="525.2" r="1.2"/><circle cx="423.3" cy="531" r="1.5"/><circle cx="466.7" cy="570.4" r="1.2"/><circle cx="507.8" cy="544.3" r="1.4"/><circle cx="428.1" cy="585.9" r="1.1"/><circle cx="480" cy="533.1" r="1.2"/><circle cx="396.3" cy="581.4" r="1.2"/><circle cx="489.2" cy="565.8" r="1.4"/><circle cx="497" cy="540.2" r="1.2"/><circle cx="468.6" cy="562.9" r="1.2"/><circle cx="433.8" cy="509.8" r="1.5"/><circle cx="492.4" cy="588.9" r="1.4"/><circle cx="484.4" cy="544.5" r="1.1"/><circle cx="501.6" cy="545.9" r="1.3"/><circle cx="480.6" cy="577.3" r="1.2"/><circle cx="484.1" cy="585.1" r="1.3"/><circle cx="502" cy="545.3" r="1.3"/><circle cx="461" cy="566.2" r="1.4"/><circle cx="469.3" cy="545.6" r="1.5"/><circle cx="469.8" cy="523.3" r="1.4"/><circle cx="435.8" cy="524.8" r="1.1"/><circle cx="474.7" cy="550.6" r="1.4"/><circle cx="461.2" cy="576.2" r="1.4"/><circle cx="500.4" cy="573.2" r="1.3"/><circle cx="502.7" cy="580.4" r="1.4"/><circle cx="390" cy="545.5" r="1.3"/><circle cx="415.2" cy="503.2" r="1.5"/><circle cx="504.2" cy="580.4" r="1.3"/><circle cx="461.2" cy="550.5" r="1.2"/><circle cx="466" cy="531.8" r="1.5"/><circle cx="453.4" cy="541.5" r="1.5"/><circle cx="456.1" cy="552.3" r="1.1"/><circle cx="467.7" cy="582" r="1.1"/><circle cx="486.5" cy="540.3" r="1.1"/><circle cx="508.9" cy="565.8" r="1.5"/><circle cx="450.1" cy="519.6" r="1.4"/><circle cx="391.3" cy="549.5" r="1.2"/><circle cx="415" cy="533.8" r="1.1"/><circle cx="453.1" cy="526.2" r="1.3"/><circle cx="484.4" cy="577.9" r="1.2"/><circle cx="468" cy="541.2" r="1.4"/><circle cx="513.5" cy="549.1" r="1.3"/><circle cx="482.4" cy="515.7" r="1.3"/><circle cx="457.4" cy="563.8" r="1.1"/><circle cx="410.5" cy="533.8" r="1.3"/><circle cx="460.5" cy="551.6" r="1.2"/><circle cx="483.2" cy="553.4" r="1.2"/><circle cx="473.8" cy="580.5" r="1.1"/><circle cx="447.3" cy="570.7" r="1.5"/><circle cx="484.1" cy="535.6" r="1.3"/><circle cx="486.3" cy="580.4" r="1.3"/><circle cx="476.2" cy="546.5" r="1.4"/><circle cx="446.3" cy="575.8" r="1.3"/><circle cx="442.1" cy="555.1" r="1.1"/><circle cx="502.1" cy="590" r="1.5"/><circle cx="506.7" cy="568.5" r="1.4"/><circle cx="479.6" cy="538.3" r="1.2"/><circle cx="500.7" cy="535.9" r="1.4"/><circle cx="442.2" cy="518.9" r="1.5"/><circle cx="443.4" cy="582.3" r="1.2"/><circle cx="503" cy="527.8" r="1.2"/><circle cx="408.7" cy="587.2" r="1.3"/><circle cx="452.9" cy="555.9" r="1.4"/><circle cx="509.8" cy="533" r="1.4"/><circle cx="487.7" cy="562.3" r="1.5"/><circle cx="394.4" cy="581" r="1.4"/><circle cx="460.2" cy="571.4" r="1.5"/><circle cx="427.3" cy="574.1" r="1.4"/><circle cx="469.7" cy="533.7" r="1.4"/><circle cx="470.6" cy="539.3" r="1.5"/><circle cx="483.8" cy="568.8" r="1.4"/><circle cx="479" cy="520.6" r="1.1"/><circle cx="433.6" cy="523.9" r="1.5"/><circle cx="475.4" cy="591.1" r="1.1"/><circle cx="503.8" cy="573.3" r="1.5"/><circle cx="440.5" cy="554.6" r="1.4"/><circle cx="427.7" cy="579.1" r="1.3"/><circle cx="471.8" cy="572.3" r="1.3"/><circle cx="448.9" cy="574.6" r="1.2"/><circle cx="476.1" cy="545.8" r="1.2"/><circle cx="415.6" cy="536.4" r="1.1"/><circle cx="405" cy="575.9" r="1.2"/><circle cx="483.1" cy="584.7" r="1.1"/><circle cx="471.7" cy="553.4" r="1.4"/><circle cx="461.7" cy="576.3" r="1.1"/><circle cx="436.1" cy="538.7" r="1.4"/><circle cx="501.1" cy="552" r="1.5"/><circle cx="497.8" cy="529.1" r="1.2"/><circle cx="505.3" cy="531.1" r="1.4"/><circle cx="500.3" cy="562.4" r="1.3"/><circle cx="409.7" cy="516.1" r="1.2"/><circle cx="418.5" cy="582.8" r="1.3"/><circle cx="437.3" cy="509.8" r="1.3"/><circle cx="429.7" cy="559.9" r="1.3"/><circle cx="447" cy="527.5" r="1.4"/><circle cx="475.9" cy="562.9" r="1.2"/><circle cx="424.7" cy="542.1" r="1.1"/><circle cx="491.9" cy="527.5" r="1.5"/><circle cx="504.8" cy="525.8" r="1.4"/></g>
<g fill="#d0d0d0"><circle cx="512.1" cy="580.1" r="0.8"/><circle cx="503.8" cy="510.2" r="0.9"/><circle cx="453.2" cy="531.7" r="1"/><circle cx="448.2" cy="525.4" r="0.9"/><circle cx="431.8" cy="527.1" r="0.8"/><circle cx="417.8" cy="520.5" r="0.8"/><circle cx="501.7" cy="540.5" r="0.8"/><circle cx="443.1" cy="581.4" r="0.8"/><circle cx="501.8" cy="570.1" r="0.9"/><circle cx="400.4" cy="509.1" r="0.8"/><circle cx="481.5" cy="558.4" r="0.9"/><circle cx="449.4" cy="545" r="0.8"/><circle cx="397.1" cy="554.5" r="1.1"/><circle cx="470.7" cy="568.5" r="0.8"/><circle cx="438.5" cy="503.5" r="0.9"/><circle cx="499.5" cy="556.9" r="1.1"/><circle cx="453.5" cy="572.1" r="0.8"/><circle cx="507.5" cy="559" r="1"/><circle cx="499.1" cy="532.4" r="0.8"/><circle cx="477.4" cy="556.4" r="0.9"/><circle cx="476.1" cy="547.5" r="1.1"/><circle cx="480.8" cy="515.8" r="0.7"/><circle cx="411.8" cy="541.9" r="0.9"/><circle cx="468.7" cy="514" r="0.7"/><circle cx="468.1" cy="556.9" r="1.1"/><circle cx="446.4" cy="518.8" r="0.9"/><circle cx="489.1" cy="555.2" r="1.1"/><circle cx="501.1" cy="587.5" r="0.8"/><circle cx="425.4" cy="537.7" r="0.9"/><circle cx="461.3" cy="583.1" r="0.8"/><circle cx="482.4" cy="578.4" r="0.8"/><circle cx="459.7" cy="586.7" r="0.9"/><circle cx="467.3" cy="531.4" r="0.9"/><circle cx="433.5" cy="542.6" r="1"/><circle cx="438.8" cy="519" r="1"/><circle cx="467.7" cy="551.1" r="0.7"/><circle cx="510.6" cy="584.7" r="1"/><circle cx="433.5" cy="588.2" r="1"/><circle cx="415.7" cy="524.8" r="1"/><circle cx="480.1" cy="551.3" r="1.1"/><circle cx="458.2" cy="517.9" r="1.1"/><circle cx="446.3" cy="575.4" r="1.1"/><circle cx="464.2" cy="561" r="0.9"/><circle cx="471.2" cy="591.4" r="0.8"/><circle cx="431.8" cy="556.5" r="0.8"/><circle cx="508.5" cy="591" r="1"/><circle cx="465.5" cy="552.6" r="1"/><circle cx="504.8" cy="534.3" r="0.7"/><circle cx="481.9" cy="524" r="1.1"/><circle cx="484" cy="536.1" r="0.9"/><circle cx="484.9" cy="558.2" r="0.8"/><circle cx="473.4" cy="537" r="1.1"/><circle cx="510.2" cy="569.3" r="0.8"/><circle cx="474.3" cy="554.4" r="1"/><circle cx="478.4" cy="549.3" r="0.8"/><circle cx="460.9" cy="586.3" r="1"/><circle cx="509.1" cy="520.6" r="0.7"/><circle cx="454.4" cy="544.5" r="0.7"/><circle cx="510" cy="588.2" r="1.1"/><circle cx="450.9" cy="512.2" r="0.7"/><circle cx="508.4" cy="591.2" r="0.9"/><circle cx="498.4" cy="527.5" r="1"/><circle cx="443" cy="537.2" r="0.8"/><circle cx="501.2" cy="531.9" r="0.9"/><circle cx="494.8" cy="503.2" r="1.1"/><circle cx="469.5" cy="581.2" r="0.9"/><circle cx="513" cy="508.3" r="0.8"/><circle cx="456.1" cy="575.5" r="1"/><circle cx="404.3" cy="534.1" r="0.9"/><circle cx="473.5" cy="560.2" r="1"/><circle cx="510.9" cy="534.7" r="1.1"/><circle cx="501.3" cy="571.5" r="1.1"/><circle cx="462.2" cy="547.3" r="0.7"/><circle cx="509.8" cy="536.2" r="1.1"/><circle cx="502.6" cy="573.2" r="0.8"/><circle cx="459.3" cy="521.6" r="0.8"/><circle cx="484.4" cy="524.1" r="1.1"/><circle cx="499.9" cy="522.8" r="0.8"/><circle cx="503.5" cy="553.6" r="0.8"/><circle cx="505.7" cy="582.2" r="0.8"/><circle cx="510.7" cy="550.2" r="1.1"/><circle cx="395.8" cy="592.7" r="0.8"/><circle cx="502.4" cy="538.2" r="0.7"/><circle cx="511.3" cy="544.3" r="1.1"/><circle cx="475.7" cy="550.4" r="1"/><circle cx="497.5" cy="514.5" r="1"/><circle cx="447.5" cy="530.6" r="1.1"/><circle cx="438.5" cy="562.3" r="0.8"/><circle cx="402.7" cy="515.9" r="0.7"/><circle cx="431.4" cy="562.9" r="1.1"/><circle cx="503.1" cy="561.3" r="0.9"/><circle cx="434.6" cy="528" r="0.9"/><circle cx="446.9" cy="562.6" r="1.1"/><circle cx="462.5" cy="544.8" r="0.8"/><circle cx="447" cy="516.7" r="0.9"/><circle cx="425" cy="502.6" r="1"/><circle cx="492.1" cy="536.9" r="1.1"/><circle cx="474.6" cy="523" r="1.1"/><circle cx="464.2" cy="523.5" r="1"/><circle cx="470.6" cy="555.1" r="0.8"/><circle cx="474.5" cy="518.4" r="0.9"/><circle cx="508.9" cy="511.8" r="0.8"/><circle cx="433.8" cy="534.7" r="0.7"/><circle cx="494" cy="534.7" r="1.1"/><circle cx="442.4" cy="538" r="1"/><circle cx="490.3" cy="548.8" r="0.9"/><circle cx="436.4" cy="549.8" r="0.9"/><circle cx="509.2" cy="552.4" r="1.1"/><circle cx="423.3" cy="516" r="1"/><circle cx="466.9" cy="578.9" r="1"/><circle cx="464.9" cy="572.2" r="1"/><circle cx="450.6" cy="553.4" r="1"/><circle cx="456.7" cy="548.2" r="0.9"/><circle cx="435.5" cy="528.6" r="1"/><circle cx="453.8" cy="505.2" r="1.1"/><circle cx="489" cy="532.6" r="0.8"/><circle cx="438.6" cy="519.9" r="0.8"/><circle cx="473.9" cy="550.7" r="1"/><circle cx="427.7" cy="562.4" r="1.1"/><circle cx="452.2" cy="551.1" r="1.1"/><circle cx="447.8" cy="538.2" r="1.1"/><circle cx="496" cy="509.5" r="1.1"/><circle cx="413.8" cy="588.7" r="0.8"/><circle cx="420.5" cy="570.3" r="0.9"/><circle cx="501.4" cy="548.6" r="0.7"/><circle cx="507.5" cy="559.7" r="0.8"/><circle cx="487" cy="592" r="0.8"/><circle cx="410.3" cy="513.2" r="0.9"/><circle cx="452.7" cy="551.4" r="1"/><circle cx="422.9" cy="582.5" r="1"/><circle cx="491.5" cy="541.4" r="0.8"/><circle cx="468.9" cy="527.8" r="0.9"/><circle cx="487.5" cy="529.1" r="1"/><circle cx="435.6" cy="527.8" r="0.9"/><circle cx="502.1" cy="589.2" r="0.9"/><circle cx="484.9" cy="529.4" r="0.9"/><circle cx="485" cy="558.5" r="0.8"/><circle cx="506.4" cy="544.2" r="1"/><circle cx="469" cy="579.5" r="1"/><circle cx="493.7" cy="580" r="1"/><circle cx="491.9" cy="568.3" r="1.1"/><circle cx="425.6" cy="503.6" r="0.9"/><circle cx="428.9" cy="585.6" r="1"/><circle cx="494.4" cy="558.9" r="0.9"/><circle cx="506.8" cy="517" r="0.7"/><circle cx="464.7" cy="540.8" r="0.9"/><circle cx="483" cy="543.1" r="1.1"/><circle cx="471.4" cy="533.2" r="0.8"/><circle cx="452.3" cy="561.8" r="0.9"/><circle cx="481.4" cy="546.6" r="0.8"/><circle cx="421.4" cy="540.6" r="1"/><circle cx="508.2" cy="528.3" r="1.1"/><circle cx="485.7" cy="558.9" r="1.1"/><circle cx="468.5" cy="554.9" r="1.1"/><circle cx="467.6" cy="567.1" r="1.1"/><circle cx="431.7" cy="586.5" r="1.1"/><circle cx="462.6" cy="545.8" r="1"/><circle cx="499.7" cy="536.8" r="0.8"/><circle cx="448.3" cy="592.6" r="1.1"/><circle cx="465.7" cy="574.6" r="0.9"/><circle cx="425.9" cy="571.7" r="1.1"/><circle cx="469.1" cy="556.5" r="0.7"/><circle cx="473.7" cy="539.8" r="1.1"/><circle cx="446.8" cy="588.3" r="1.1"/><circle cx="433.5" cy="577.1" r="0.8"/><circle cx="436.4" cy="584.8" r="0.9"/><circle cx="483.5" cy="534.6" r="0.9"/><circle cx="511" cy="570" r="0.7"/><circle cx="505.8" cy="537.9" r="0.7"/><circle cx="480.8" cy="570.7" r="1"/><circle cx="449.7" cy="572" r="0.8"/><circle cx="436.4" cy="518.8" r="0.9"/><circle cx="435.2" cy="525.2" r="0.9"/><circle cx="459.7" cy="547.6" r="0.9"/><circle cx="456.2" cy="538.7" r="1.1"/><circle cx="502" cy="527.3" r="1"/><circle cx="508.7" cy="551" r="0.8"/><circle cx="511.8" cy="502.8" r="0.7"/><circle cx="410.2" cy="586.3" r="0.7"/><circle cx="426.8" cy="556.1" r="1"/><circle cx="432.6" cy="589.1" r="0.9"/><circle cx="446.9" cy="559.6" r="1.1"/><circle cx="461.8" cy="527.1" r="1.1"/><circle cx="489.7" cy="564.9" r="1.1"/><circle cx="446.2" cy="588.3" r="1.1"/><circle cx="502" cy="530" r="1"/><circle cx="463.3" cy="563.4" r="1"/><circle cx="476.1" cy="541.4" r="1.1"/><circle cx="456.8" cy="551.8" r="1"/><circle cx="494.7" cy="563.3" r="0.8"/><circle cx="389.9" cy="525.8" r="1.1"/><circle cx="456.7" cy="528.8" r="0.7"/><circle cx="404.2" cy="589.9" r="0.8"/><circle cx="444.8" cy="571.8" r="1.1"/><circle cx="443.5" cy="538.8" r="0.7"/><circle cx="453.1" cy="580.8" r="0.8"/><circle cx="434.3" cy="513.4" r="0.8"/><circle cx="474" cy="548.6" r="0.9"/><circle cx="409.5" cy="580.6" r="0.8"/><circle cx="459.1" cy="523.1" r="1.1"/><circle cx="439.2" cy="590.1" r="0.9"/><circle cx="450.3" cy="545.6" r="0.9"/><circle cx="492" cy="531.7" r="1.1"/><circle cx="502.2" cy="565.8" r="1.1"/><circle cx="476.8" cy="583.8" r="1.1"/><circle cx="467.5" cy="545.4" r="1.1"/><circle cx="476.7" cy="575.6" r="0.7"/><circle cx="472.9" cy="592.2" r="0.9"/><circle cx="449.2" cy="534.1" r="1.1"/><circle cx="489.5" cy="577.9" r="0.8"/><circle cx="466.7" cy="576.6" r="0.8"/><circle cx="475.5" cy="561.4" r="0.8"/><circle cx="477.3" cy="585.9" r="1.1"/><circle cx="479.4" cy="534" r="0.9"/><circle cx="490.2" cy="526.6" r="1.1"/><circle cx="484.5" cy="527.8" r="0.9"/><circle cx="441.3" cy="561.8" r="1.1"/><circle cx="407.4" cy="578.7" r="0.8"/><circle cx="441.4" cy="542.7" r="0.8"/><circle cx="491" cy="551.6" r="0.9"/><circle cx="443.6" cy="580.3" r="1"/><circle cx="497.6" cy="587" r="0.7"/><circle cx="498.2" cy="558.5" r="1"/><circle cx="432.3" cy="586.3" r="0.7"/><circle cx="500.8" cy="535.4" r="0.9"/><circle cx="505.5" cy="585.1" r="0.9"/><circle cx="504" cy="588.3" r="0.8"/><circle cx="504.6" cy="554.7" r="0.8"/><circle cx="475" cy="530" r="0.8"/><circle cx="480.6" cy="566.6" r="1.1"/><circle cx="474.7" cy="578.7" r="0.9"/><circle cx="433.5" cy="541.4" r="0.9"/><circle cx="453.7" cy="507.2" r="1"/><circle cx="447.3" cy="563.7" r="0.7"/><circle cx="475.9" cy="506.4" r="0.8"/><circle cx="510.6" cy="524.1" r="0.7"/><circle cx="461.5" cy="539.5" r="0.8"/><circle cx="440.3" cy="525.7" r="0.8"/><circle cx="513.3" cy="538.3" r="0.7"/><circle cx="512.4" cy="518.1" r="0.9"/><circle cx="436" cy="590" r="0.9"/><circle cx="459.7" cy="570" r="0.7"/><circle cx="493.8" cy="542.1" r="0.9"/><circle cx="450.1" cy="530.5" r="1"/><circle cx="509.2" cy="511.5" r="1.1"/><circle cx="504.7" cy="517.9" r="1.1"/><circle cx="498.2" cy="533.1" r="1.1"/><circle cx="474.8" cy="531.6" r="0.9"/><circle cx="392.3" cy="584.9" r="0.8"/><circle cx="471" cy="558.3" r="0.8"/><circle cx="450.4" cy="575" r="0.8"/><circle cx="476.7" cy="528.3" r="0.7"/><circle cx="480.7" cy="560.3" r="1"/><circle cx="444.6" cy="535.3" r="0.9"/><circle cx="504.2" cy="581.5" r="0.9"/><circle cx="491.5" cy="546.4" r="0.9"/><circle cx="441.9" cy="586.7" r="1.1"/><circle cx="511.2" cy="575.9" r="1"/><circle cx="415" cy="536.2" r="0.8"/><circle cx="468.5" cy="512.9" r="1"/><circle cx="505" cy="544.1" r="1.1"/><circle cx="462.6" cy="545.5" r="0.9"/><circle cx="427.1" cy="507.4" r="0.8"/><circle cx="463" cy="529.6" r="1.1"/><circle cx="456.4" cy="522.9" r="0.8"/><circle cx="403.6" cy="514.1" r="0.9"/><circle cx="468.2" cy="570.2" r="0.7"/><circle cx="453.4" cy="532.7" r="0.9"/><circle cx="503.9" cy="579.9" r="1"/><circle cx="489.4" cy="570" r="0.9"/><circle cx="454.3" cy="545.1" r="0.8"/><circle cx="491.4" cy="508.6" r="0.8"/><circle cx="465" cy="574.5" r="0.9"/><circle cx="479.5" cy="546.2" r="0.9"/><circle cx="455.2" cy="569.2" r="1"/><circle cx="438.1" cy="548.5" r="1"/><circle cx="512.8" cy="511.6" r="0.9"/><circle cx="490" cy="533.6" r="1.1"/><circle cx="434.6" cy="558.5" r="1.1"/><circle cx="502.5" cy="527.6" r="1.1"/><circle cx="396.9" cy="506.6" r="1"/><circle cx="489.8" cy="571.1" r="0.9"/><circle cx="458.6" cy="571.1" r="0.9"/><circle cx="462.6" cy="538.2" r="1.1"/><circle cx="507.1" cy="578.8" r="0.8"/><circle cx="499.1" cy="590.9" r="1"/><circle cx="446.4" cy="550.4" r="0.8"/><circle cx="492.8" cy="558.7" r="0.8"/><circle cx="464.6" cy="581" r="0.7"/><circle cx="461.9" cy="571.6" r="1"/><circle cx="401.3" cy="502.4" r="1"/><circle cx="454.5" cy="534.9" r="1"/><circle cx="504.5" cy="559.5" r="0.7"/><circle cx="474.2" cy="532.1" r="0.9"/><circle cx="456.4" cy="514.2" r="0.9"/><circle cx="449.5" cy="544.9" r="1"/><circle cx="439.4" cy="572.1" r="0.8"/><circle cx="482.9" cy="548.2" r="0.8"/><circle cx="479.5" cy="546.4" r="1.1"/><circle cx="492.9" cy="556.7" r="0.9"/><circle cx="432.7" cy="592.5" r="0.7"/><circle cx="500.4" cy="521.6" r="1.1"/><circle cx="441.6" cy="583.8" r="1.1"/><circle cx="487.7" cy="567.6" r="0.9"/><circle cx="436.3" cy="580.2" r="0.8"/><circle cx="419.9" cy="538.8" r="0.8"/><circle cx="497.9" cy="517.2" r="0.7"/><circle cx="488.5" cy="589.1" r="1.1"/><circle cx="461.3" cy="522.6" r="1.1"/><circle cx="472.6" cy="571.1" r="1.1"/><circle cx="484.1" cy="580.2" r="1"/><circle cx="472.8" cy="528.3" r="0.8"/><circle cx="450.2" cy="550.4" r="1.1"/><circle cx="438.4" cy="554.9" r="1.1"/><circle cx="438.9" cy="550.6" r="1.1"/><circle cx="463" cy="518.3" r="0.9"/><circle cx="445.3" cy="548.7" r="0.9"/><circle cx="456" cy="560.1" r="0.9"/><circle cx="450" cy="518.2" r="0.9"/><circle cx="499.3" cy="553.3" r="1"/><circle cx="433.5" cy="570.7" r="1"/><circle cx="439.7" cy="532" r="1.1"/><circle cx="480" cy="559.5" r="1.1"/><circle cx="403.5" cy="592.4" r="0.7"/><circle cx="463.3" cy="565.4" r="0.8"/><circle cx="460.6" cy="529.4" r="1.1"/><circle cx="474.1" cy="548.7" r="0.9"/><circle cx="486.1" cy="583" r="1.1"/><circle cx="469.7" cy="557.3" r="0.9"/><circle cx="488.3" cy="516.9" r="1.1"/><circle cx="497.8" cy="545.5" r="0.7"/><circle cx="488.7" cy="530.2" r="1.1"/><circle cx="467.5" cy="549.9" r="1.1"/><circle cx="455" cy="555" r="0.9"/><circle cx="470.4" cy="566.6" r="0.9"/><circle cx="470.7" cy="557.6" r="0.9"/><circle cx="495.8" cy="550.1" r="1"/><circle cx="463.8" cy="547" r="0.9"/><circle cx="431.9" cy="506.3" r="0.7"/><circle cx="452.3" cy="535" r="1.1"/><circle cx="468.6" cy="570.5" r="0.9"/><circle cx="444" cy="518" r="0.9"/><circle cx="461.5" cy="575.2" r="0.9"/><circle cx="488.8" cy="562.6" r="1"/><circle cx="505.1" cy="590" r="0.9"/><circle cx="449.5" cy="579.5" r="0.7"/><circle cx="499.6" cy="564.3" r="1.1"/><circle cx="473.2" cy="580.5" r="0.8"/><circle cx="473" cy="539.4" r="0.9"/><circle cx="492.2" cy="538.3" r="1"/><circle cx="496.5" cy="549.1" r="1.1"/><circle cx="469.3" cy="583.9" r="1"/><circle cx="421.2" cy="514.2" r="1"/><circle cx="489.9" cy="515" r="1.1"/><circle cx="476.5" cy="528.2" r="1.1"/><circle cx="467.5" cy="540.7" r="1.1"/><circle cx="477.9" cy="506.2" r="0.9"/><circle cx="508.1" cy="583.8" r="0.8"/><circle cx="483.2" cy="547.7" r="0.9"/><circle cx="464.2" cy="530" r="1"/><circle cx="434.8" cy="526.4" r="1"/><circle cx="450.3" cy="579.1" r="0.9"/><circle cx="433.4" cy="590.2" r="0.9"/><circle cx="410.5" cy="502" r="1"/><circle cx="395.3" cy="582" r="1.1"/><circle cx="490.7" cy="556.9" r="1"/><circle cx="490.2" cy="578" r="0.7"/><circle cx="512.1" cy="580.7" r="1"/><circle cx="497.8" cy="560.4" r="0.9"/><circle cx="511.4" cy="547.5" r="0.8"/><circle cx="503.9" cy="533.1" r="0.9"/><circle cx="457.1" cy="552.5" r="0.7"/><circle cx="500.1" cy="554.9" r="0.8"/><circle cx="450.8" cy="540.8" r="1"/><circle cx="419.6" cy="590" r="0.8"/><circle cx="495.8" cy="573.7" r="1"/><circle cx="477.1" cy="579.3" r="0.8"/><circle cx="472.8" cy="551.4" r="1.1"/><circle cx="443.6" cy="589.4" r="0.8"/><circle cx="472.1" cy="517.1" r="0.7"/><circle cx="441" cy="551" r="0.8"/><circle cx="498.1" cy="587.5" r="1"/><circle cx="444.7" cy="532.7" r="0.9"/><circle cx="422.3" cy="575.3" r="1.1"/><circle cx="500.1" cy="532.1" r="1.1"/><circle cx="492" cy="554.3" r="1"/><circle cx="455.1" cy="555.5" r="1.1"/><circle cx="505.9" cy="541.7" r="0.9"/><circle cx="484.3" cy="577.2" r="0.7"/><circle cx="455.6" cy="524.5" r="1"/><circle cx="496.6" cy="539.5" r="0.7"/><circle cx="468.4" cy="551.2" r="1.1"/><circle cx="494.5" cy="580.5" r="0.9"/><circle cx="472.4" cy="527.2" r="1"/><circle cx="455.7" cy="512.7" r="1.1"/><circle cx="423.2" cy="529.1" r="0.7"/><circle cx="461.8" cy="531.3" r="0.9"/><circle cx="396.4" cy="575.9" r="1"/><circle cx="406.7" cy="591.4" r="0.9"/><circle cx="473.1" cy="559.4" r="0.9"/><circle cx="455.7" cy="562.3" r="1"/><circle cx="436.2" cy="568.8" r="0.7"/><circle cx="400.5" cy="512.8" r="0.8"/><circle cx="510.9" cy="507.8" r="1.1"/><circle cx="508.6" cy="521.6" r="1"/><circle cx="469.8" cy="560.1" r="0.7"/><circle cx="456.5" cy="537.8" r="0.8"/><circle cx="481.2" cy="557.9" r="1.1"/><circle cx="497.5" cy="571" r="1"/><circle cx="454" cy="537.4" r="1.1"/><circle cx="485" cy="575.5" r="1"/><circle cx="509.6" cy="537.4" r="1"/><circle cx="456.8" cy="566.1" r="1.1"/><circle cx="507.9" cy="519.7" r="1"/><circle cx="500.2" cy="580.6" r="0.8"/><circle cx="504.3" cy="537.3" r="0.9"/><circle cx="489.7" cy="566.2" r="0.9"/><circle cx="508.2" cy="528" r="1"/><circle cx="441.9" cy="526.7" r="0.9"/><circle cx="491.7" cy="576.3" r="1.1"/><circle cx="455.2" cy="568.4" r="0.8"/><circle cx="414.7" cy="508.8" r="1.1"/><circle cx="467.2" cy="531" r="0.9"/><circle cx="419.7" cy="511.1" r="0.8"/><circle cx="501.2" cy="575.9" r="0.8"/><circle cx="496.5" cy="532.1" r="1"/><circle cx="469.6" cy="544" r="1"/><circle cx="419.7" cy="572.6" r="1.1"/><circle cx="477.9" cy="561" r="0.8"/><circle cx="478.3" cy="554.2" r="1.1"/><circle cx="443.4" cy="527.9" r="0.8"/><circle cx="462.1" cy="586.4" r="1"/><circle cx="442.9" cy="582.9" r="0.7"/><circle cx="444.1" cy="504.9" r="1"/><circle cx="442.1" cy="563.6" r="0.9"/><circle cx="446.3" cy="523.3" r="1"/><circle cx="509.2" cy="530.8" r="0.8"/><circle cx="465.6" cy="541.5" r="1"/><circle cx="492.1" cy="531.3" r="0.9"/><circle cx="488" cy="559.2" r="0.9"/><circle cx="459.3" cy="540.5" r="1"/><circle cx="508" cy="560.2" r="1"/><circle cx="454.4" cy="532.1" r="1"/><circle cx="427.9" cy="579.2" r="1.1"/><circle cx="444.3" cy="530.6" r="0.8"/><circle cx="445.8" cy="555.3" r="0.9"/><circle cx="455.4" cy="522.6" r="0.7"/><circle cx="434.8" cy="526.5" r="1"/><circle cx="484.7" cy="557" r="1"/><circle cx="511.4" cy="580.1" r="0.9"/><circle cx="495.6" cy="573.9" r="1"/><circle cx="499.8" cy="547.7" r="0.8"/><circle cx="440.1" cy="529.9" r="1"/><circle cx="500.5" cy="575.7" r="0.8"/><circle cx="474.2" cy="568.4" r="1"/><circle cx="490.6" cy="550.8" r="0.9"/><circle cx="446.1" cy="577.8" r="0.8"/><circle cx="446.9" cy="581" r="0.9"/><circle cx="442.1" cy="589.2" r="1"/><circle cx="491.9" cy="560.9" r="1.1"/><circle cx="449.9" cy="575.8" r="1"/><circle cx="452.7" cy="563.2" r="1"/><circle cx="390.9" cy="582.1" r="0.9"/><circle cx="435.5" cy="588.7" r="1"/><circle cx="444.2" cy="556.7" r="0.7"/><circle cx="491.4" cy="546.9" r="0.8"/><circle cx="433.4" cy="535.5" r="0.9"/><circle cx="413.5" cy="526.8" r="0.7"/><circle cx="511.8" cy="586.1" r="1"/><circle cx="510.9" cy="550.8" r="0.7"/><circle cx="500.5" cy="558.3" r="0.7"/><circle cx="469.1" cy="578.7" r="0.8"/><circle cx="465.8" cy="542" r="1"/><circle cx="472" cy="544.3" r="0.8"/><circle cx="401.1" cy="508.5" r="1"/><circle cx="448" cy="520.5" r="0.8"/><circle cx="482.5" cy="586.5" r="0.8"/><circle cx="508" cy="592.3" r="0.8"/><circle cx="438.9" cy="537.6" r="1.1"/><circle cx="447.2" cy="529.5" r="0.7"/><circle cx="468.9" cy="575" r="0.8"/><circle cx="489.3" cy="539.7" r="1.1"/><circle cx="463.4" cy="539.3" r="1.1"/><circle cx="450" cy="590.6" r="1.1"/><circle cx="455.8" cy="565.3" r="0.8"/><circle cx="490.8" cy="528.1" r="0.8"/><circle cx="505.9" cy="585.5" r="1"/><circle cx="462.5" cy="568.6" r="1"/><circle cx="458.8" cy="524.4" r="0.9"/><circle cx="452.9" cy="584.9" r="0.9"/><circle cx="472.7" cy="529.9" r="1"/><circle cx="433.2" cy="541.3" r="0.7"/><circle cx="486.9" cy="560.4" r="1"/><circle cx="480.6" cy="565.2" r="0.9"/><circle cx="439.2" cy="506.5" r="1.1"/><circle cx="431.6" cy="513.6" r="1"/><circle cx="479.3" cy="553.7" r="0.7"/><circle cx="491.2" cy="570.6" r="0.8"/><circle cx="449.5" cy="528.4" r="1.1"/><circle cx="461.6" cy="571.9" r="0.8"/><circle cx="435.9" cy="551.4" r="0.8"/><circle cx="475.5" cy="529.8" r="1"/><circle cx="492.6" cy="543" r="0.8"/><circle cx="464" cy="559.3" r="1"/><circle cx="472.5" cy="532" r="1.1"/><circle cx="425.3" cy="507.6" r="1.1"/><circle cx="507" cy="502.5" r="0.9"/><circle cx="464.6" cy="538" r="1.1"/><circle cx="510.4" cy="540.3" r="1.1"/><circle cx="505.1" cy="516.4" r="1.1"/><circle cx="402.8" cy="585.1" r="0.8"/><circle cx="479.3" cy="589.1" r="1"/><circle cx="478.1" cy="588.6" r="1.1"/><circle cx="455.5" cy="530" r="1.1"/><circle cx="503.7" cy="551" r="0.7"/><circle cx="471.4" cy="548.5" r="0.9"/><circle cx="448.1" cy="549" r="1.1"/><circle cx="438.4" cy="518.3" r="1.1"/><circle cx="425.8" cy="557.8" r="0.8"/><circle cx="489.5" cy="548.4" r="1.1"/><circle cx="420.5" cy="506.5" r="0.9"/><circle cx="420" cy="515.3" r="1"/><circle cx="501.8" cy="523.9" r="0.7"/><circle cx="498.6" cy="567.6" r="0.9"/><circle cx="471.5" cy="568.3" r="0.8"/><circle cx="488.1" cy="580.4" r="0.8"/><circle cx="496.9" cy="530.5" r="1"/><circle cx="444.8" cy="538.1" r="0.9"/><circle cx="432.5" cy="521.1" r="0.9"/><circle cx="505.4" cy="525.7" r="1"/><circle cx="472.2" cy="561.8" r="1"/><circle cx="461.6" cy="577.6" r="1"/><circle cx="484.8" cy="563.6" r="0.7"/><circle cx="440.2" cy="529" r="1"/><circle cx="501.5" cy="567.4" r="1"/><circle cx="453.8" cy="573" r="0.8"/><circle cx="489.4" cy="525.2" r="0.8"/><circle cx="428.7" cy="578.6" r="0.9"/><circle cx="437.3" cy="553.3" r="0.9"/><circle cx="512.4" cy="592.1" r="0.9"/><circle cx="511.2" cy="547.7" r="0.7"/><circle cx="406" cy="522.8" r="0.9"/><circle cx="496.4" cy="545.5" r="0.8"/><circle cx="429" cy="584.7" r="0.8"/><circle cx="491.2" cy="575" r="1.1"/><circle cx="510.2" cy="577.1" r="0.8"/><circle cx="489.2" cy="526.3" r="0.9"/><circle cx="454.9" cy="521.9" r="0.9"/><circle cx="392.5" cy="588.6" r="1.1"/><circle cx="392.2" cy="525.1" r="1"/><circle cx="504.1" cy="562.9" r="0.8"/><circle cx="492.7" cy="531.1" r="0.7"/><circle cx="476.9" cy="572.3" r="1"/><circle cx="489.9" cy="572" r="1"/><circle cx="457.4" cy="550.4" r="0.9"/><circle cx="479.8" cy="542.8" r="0.8"/><circle cx="511.6" cy="562.1" r="1"/><circle cx="468.9" cy="542.2" r="0.8"/><circle cx="484.1" cy="564.3" r="0.8"/><circle cx="449.8" cy="525.1" r="0.9"/><circle cx="466.2" cy="571" r="1.1"/><circle cx="495.1" cy="560" r="0.8"/><circle cx="456.4" cy="502" r="0.8"/><circle cx="430.2" cy="509.4" r="1"/><circle cx="445.2" cy="522.7" r="0.8"/><circle cx="481.1" cy="588.8" r="1.1"/><circle cx="445" cy="557.2" r="1"/><circle cx="470.9" cy="558.1" r="1.1"/><circle cx="444.4" cy="504.2" r="1.1"/><circle cx="443.6" cy="563.3" r="1"/><circle cx="494.2" cy="574.5" r="1.1"/><circle cx="443.2" cy="565.3" r="0.8"/><circle cx="469.4" cy="542.8" r="0.8"/><circle cx="489.7" cy="537" r="0.8"/><circle cx="494.5" cy="557.9" r="1.1"/><circle cx="441" cy="529.1" r="1.1"/><circle cx="478.4" cy="562" r="1"/><circle cx="452.2" cy="583.9" r="0.9"/><circle cx="403.8" cy="543.9" r="0.7"/><circle cx="498.7" cy="583.8" r="1"/><circle cx="422.4" cy="544" r="0.9"/><circle cx="489.9" cy="507.9" r="1.1"/><circle cx="484" cy="552.8" r="1"/><circle cx="499" cy="542.7" r="1.1"/><circle cx="512" cy="587" r="0.8"/><circle cx="488.2" cy="562.7" r="0.9"/><circle cx="495.3" cy="514.3" r="0.9"/><circle cx="458" cy="536.5" r="1"/><circle cx="448.8" cy="505.5" r="1.1"/><circle cx="453" cy="547.6" r="0.8"/><circle cx="470.6" cy="502.3" r="0.8"/><circle cx="466.2" cy="586.1" r="0.7"/><circle cx="505.3" cy="515.6" r="0.8"/><circle cx="510.2" cy="566.3" r="0.7"/><circle cx="477.9" cy="574.7" r="1"/><circle cx="504.1" cy="556.7" r="0.7"/><circle cx="458.6" cy="576" r="1.1"/><circle cx="486.6" cy="531.7" r="0.8"/><circle cx="446.5" cy="580.2" r="1.1"/><circle cx="487.2" cy="571.8" r="0.8"/><circle cx="481.3" cy="565.8" r="1.1"/><circle cx="467.6" cy="548.8" r="0.8"/><circle cx="498.3" cy="554.6" r="0.7"/><circle cx="498" cy="525.6" r="1.1"/><circle cx="436.8" cy="586.8" r="0.8"/><circle cx="445.4" cy="560.1" r="1.1"/><circle cx="483.7" cy="564" r="0.8"/><circle cx="431.3" cy="504.8" r="0.9"/><circle cx="459.5" cy="580.3" r="0.9"/><circle cx="455.5" cy="513.2" r="1.1"/><circle cx="510.9" cy="527.8" r="0.7"/><circle cx="483.5" cy="554.4" r="0.8"/><circle cx="501.9" cy="556.7" r="0.8"/><circle cx="476.1" cy="584.4" r="0.8"/><circle cx="482.6" cy="563.6" r="1"/><circle cx="463.7" cy="581.1" r="1.1"/><circle cx="470.9" cy="570.2" r="1.1"/><circle cx="452.1" cy="551.8" r="1.1"/><circle cx="511.3" cy="524.7" r="0.8"/><circle cx="415.3" cy="526.3" r="1"/><circle cx="484.4" cy="533.1" r="0.9"/><circle cx="507.7" cy="580.5" r="0.8"/><circle cx="509.7" cy="577.3" r="0.8"/><circle cx="456.4" cy="569.1" r="1.1"/><circle cx="413.3" cy="536.7" r="0.8"/><circle cx="458.2" cy="567.4" r="1.1"/><circle cx="477.5" cy="538" r="0.8"/><circle cx="454.4" cy="557.8" r="0.9"/><circle cx="451.6" cy="524.1" r="0.9"/><circle cx="437.5" cy="556.6" r="1.1"/><circle cx="453.5" cy="561.4" r="1"/><circle cx="473.3" cy="528.4" r="0.9"/><circle cx="446.6" cy="578.1" r="0.8"/><circle cx="481" cy="569.9" r="1"/><circle cx="395.9" cy="529.9" r="0.9"/><circle cx="461.7" cy="535.9" r="1.1"/><circle cx="498.6" cy="569.8" r="0.8"/><circle cx="446.7" cy="547.4" r="1"/><circle cx="511.4" cy="527.5" r="0.9"/><circle cx="510.9" cy="563.8" r="0.9"/><circle cx="411.9" cy="517.1" r="0.9"/><circle cx="505.3" cy="529.1" r="0.8"/><circle cx="488" cy="550.8" r="1.1"/><circle cx="481.5" cy="575.3" r="1"/><circle cx="460.1" cy="554.3" r="1"/><circle cx="470.7" cy="544" r="0.9"/><circle cx="396.8" cy="587.9" r="0.8"/><circle cx="455.9" cy="559.3" r="0.7"/><circle cx="511.2" cy="544.1" r="0.7"/><circle cx="457.4" cy="515.9" r="0.7"/><circle cx="511.7" cy="521.1" r="1"/><circle cx="485.2" cy="569" r="1"/><circle cx="462.9" cy="507.2" r="0.7"/><circle cx="460.7" cy="537.5" r="0.8"/><circle cx="459.1" cy="537.9" r="0.7"/><circle cx="476.9" cy="531.9" r="0.8"/><circle cx="494.1" cy="575" r="0.9"/><circle cx="449.7" cy="576.4" r="0.9"/><circle cx="467.7" cy="566.6" r="0.9"/><circle cx="481.7" cy="502.7" r="1"/><circle cx="467.8" cy="566.2" r="1"/><circle cx="397.2" cy="545" r="1"/><circle cx="409.7" cy="529.7" r="0.8"/><circle cx="485" cy="556.1" r="1.1"/><circle cx="428.2" cy="563.5" r="1.1"/><circle cx="397.5" cy="588.5" r="1.1"/><circle cx="458.2" cy="505.1" r="1.1"/><circle cx="507.3" cy="587" r="1"/><circle cx="497.1" cy="575.5" r="0.9"/><circle cx="498.3" cy="590" r="0.9"/><circle cx="451.1" cy="530.6" r="0.8"/><circle cx="486" cy="565" r="1"/><circle cx="497" cy="571.2" r="0.7"/><circle cx="429.5" cy="582" r="1"/><circle cx="476.1" cy="533.9" r="0.7"/><circle cx="432.4" cy="588.6" r="0.9"/><circle cx="504.4" cy="524.8" r="1.1"/><circle cx="442.8" cy="567.4" r="1.1"/><circle cx="482.3" cy="589.4" r="1.1"/><circle cx="505.6" cy="572.5" r="0.9"/><circle cx="433.6" cy="567.6" r="1.1"/><circle cx="486" cy="576.2" r="1"/><circle cx="505.5" cy="515.5" r="0.7"/><circle cx="457.3" cy="556.2" r="1.1"/><circle cx="428.9" cy="519.1" r="0.7"/><circle cx="446.8" cy="579.6" r="1"/><circle cx="499.1" cy="521.1" r="1.1"/><circle cx="483.4" cy="507.9" r="1"/><circle cx="494.3" cy="581.1" r="1"/><circle cx="460.8" cy="559.6" r="0.7"/><circle cx="469.4" cy="560.6" r="0.9"/><circle cx="506.1" cy="590.4" r="0.7"/><circle cx="481.7" cy="585.7" r="0.8"/><circle cx="512.6" cy="536.6" r="0.7"/><circle cx="438.5" cy="546.4" r="1"/><circle cx="511.4" cy="539.7" r="0.9"/><circle cx="453.8" cy="536" r="0.9"/><circle cx="483.3" cy="509.9" r="0.8"/><circle cx="485.4" cy="536.9" r="0.7"/><circle cx="447.7" cy="575.9" r="1"/><circle cx="496.5" cy="547.3" r="0.9"/><circle cx="466.5" cy="530.5" r="0.8"/><circle cx="453.6" cy="573.2" r="1.1"/><circle cx="503.4" cy="523.4" r="0.7"/><circle cx="451.9" cy="536" r="0.8"/><circle cx="464.3" cy="525.2" r="1"/><circle cx="427.5" cy="518" r="1.1"/><circle cx="504" cy="554.3" r="1.1"/><circle cx="506.8" cy="539.1" r="1"/><circle cx="437" cy="559.6" r="1.1"/><circle cx="489.4" cy="526.1" r="0.8"/><circle cx="446" cy="549.1" r="1"/><circle cx="454.5" cy="535.8" r="0.9"/><circle cx="459.6" cy="529.4" r="1.1"/><circle cx="501.8" cy="580.9" r="0.8"/><circle cx="506.8" cy="560.6" r="0.9"/><circle cx="444.5" cy="509.6" r="1.1"/><circle cx="477.2" cy="549.8" r="1.1"/><circle cx="478.8" cy="584.3" r="0.8"/><circle cx="403.1" cy="574.2" r="0.8"/><circle cx="508.7" cy="551.4" r="0.9"/><circle cx="454.1" cy="556.3" r="0.9"/><circle cx="433.6" cy="592.4" r="0.8"/><circle cx="503.5" cy="546.3" r="1"/><circle cx="443" cy="562.6" r="0.7"/><circle cx="497.9" cy="551.1" r="0.8"/><circle cx="449.7" cy="526.8" r="1.1"/><circle cx="422.5" cy="579.3" r="1.1"/><circle cx="439.1" cy="542.6" r="0.9"/><circle cx="449.1" cy="531.8" r="0.9"/><circle cx="436" cy="555.8" r="0.7"/><circle cx="465.1" cy="550.3" r="1.1"/><circle cx="461.5" cy="541.8" r="0.9"/><circle cx="494.6" cy="531.1" r="0.9"/><circle cx="441.6" cy="549.5" r="0.8"/><circle cx="441.8" cy="551.2" r="1"/><circle cx="459.5" cy="587.2" r="0.9"/><circle cx="477.8" cy="569.2" r="0.9"/><circle cx="444" cy="591.9" r="1"/><circle cx="488.8" cy="568.3" r="0.9"/><circle cx="455" cy="554.4" r="0.9"/><circle cx="442.5" cy="565.6" r="1.1"/><circle cx="390.3" cy="574.4" r="0.8"/><circle cx="463" cy="549.2" r="0.9"/><circle cx="466.1" cy="528.5" r="1.1"/><circle cx="446.2" cy="555.4" r="0.8"/><circle cx="503.9" cy="566.7" r="1"/><circle cx="447.1" cy="578.9" r="1.1"/><circle cx="466.6" cy="546.4" r="1.1"/><circle cx="452.7" cy="543.9" r="1"/><circle cx="446.2" cy="585.8" r="1.1"/><circle cx="453.3" cy="577.8" r="0.8"/><circle cx="501.4" cy="576.8" r="1.1"/><circle cx="458.3" cy="563.7" r="0.9"/><circle cx="445.5" cy="576" r="0.8"/><circle cx="430.2" cy="524" r="0.8"/><circle cx="425.2" cy="542.4" r="1"/><circle cx="453" cy="581.8" r="0.8"/><circle cx="455.2" cy="565.1" r="0.9"/><circle cx="482.8" cy="545.1" r="0.9"/><circle cx="412.6" cy="573.1" r="0.9"/><circle cx="478.8" cy="529.5" r="0.8"/><circle cx="509.8" cy="584" r="0.8"/><circle cx="486.5" cy="537" r="1.1"/><circle cx="480.4" cy="562.1" r="0.8"/><circle cx="510.9" cy="576.1" r="1"/><circle cx="498.5" cy="507.1" r="0.8"/><circle cx="464.5" cy="540.8" r="1.1"/><circle cx="445" cy="556.5" r="1"/><circle cx="458.1" cy="553.7" r="0.7"/><circle cx="429.3" cy="552.7" r="1"/><circle cx="499" cy="540.1" r="1"/><circle cx="461.6" cy="513.6" r="1.1"/><circle cx="472.9" cy="533.7" r="1.1"/><circle cx="465.2" cy="542.7" r="0.9"/><circle cx="497.3" cy="555.4" r="0.9"/><circle cx="470.9" cy="583.8" r="1"/><circle cx="499.2" cy="583.8" r="1.1"/><circle cx="458.7" cy="534.5" r="0.9"/><circle cx="478.3" cy="566.8" r="1.1"/><circle cx="448.7" cy="535.4" r="1"/><circle cx="434.6" cy="506.1" r="0.9"/><circle cx="468.3" cy="512.7" r="1"/><circle cx="500.2" cy="515.7" r="0.9"/><circle cx="414" cy="579.6" r="1.1"/><circle cx="492.5" cy="567.6" r="1.1"/><circle cx="465.1" cy="544.4" r="1.1"/><circle cx="466.4" cy="580.3" r="0.8"/><circle cx="494.7" cy="585.4" r="1.1"/><circle cx="506.4" cy="582.3" r="0.9"/><circle cx="421.7" cy="590.9" r="1.1"/><circle cx="429.7" cy="546.8" r="1"/><circle cx="468.4" cy="547.4" r="0.7"/><circle cx="433" cy="578.9" r="1.1"/><circle cx="468.4" cy="524.1" r="0.8"/><circle cx="450.5" cy="551.6" r="0.9"/><circle cx="441.9" cy="526.2" r="0.7"/><circle cx="486" cy="558.9" r="1.1"/><circle cx="453.1" cy="567.7" r="0.9"/><circle cx="499.6" cy="525.8" r="1.1"/><circle cx="503.1" cy="569.8" r="1.1"/><circle cx="426.1" cy="509.8" r="1"/><circle cx="490.7" cy="566.1" r="0.8"/><circle cx="473" cy="555.3" r="1.1"/><circle cx="497.6" cy="571.7" r="1.1"/><circle cx="447.4" cy="566.3" r="0.8"/><circle cx="446.4" cy="548.9" r="0.7"/><circle cx="495.7" cy="556.1" r="0.8"/><circle cx="396.9" cy="522.9" r="0.8"/><circle cx="469.6" cy="559.6" r="0.9"/><circle cx="474.5" cy="541.1" r="0.9"/><circle cx="507.3" cy="572.5" r="0.9"/><circle cx="453.6" cy="555.2" r="0.9"/><circle cx="477.9" cy="591.3" r="0.7"/><circle cx="496.6" cy="579.5" r="1.1"/><circle cx="497.7" cy="574" r="0.8"/><circle cx="506" cy="533.9" r="0.8"/><circle cx="473.4" cy="546.4" r="1"/><circle cx="475.2" cy="554.6" r="0.9"/><circle cx="455.4" cy="572.3" r="1.1"/><circle cx="513" cy="524.2" r="1.1"/><circle cx="500.6" cy="516.4" r="1"/><circle cx="497.8" cy="548.5" r="0.9"/><circle cx="473.7" cy="545.6" r="0.8"/><circle cx="482.8" cy="531.7" r="1.1"/><circle cx="510.9" cy="565.4" r="1.1"/><circle cx="399.8" cy="517.1" r="0.8"/><circle cx="432" cy="522.1" r="0.8"/><circle cx="450" cy="544.8" r="0.9"/><circle cx="506.9" cy="577.9" r="0.8"/><circle cx="471.4" cy="566" r="1.1"/><circle cx="400.5" cy="531" r="0.9"/><circle cx="460.7" cy="532.4" r="1"/><circle cx="512.6" cy="590.6" r="0.8"/><circle cx="402.1" cy="586.7" r="0.8"/><circle cx="434.4" cy="580.8" r="1"/><circle cx="511" cy="565" r="0.7"/><circle cx="439.4" cy="531.7" r="1.1"/><circle cx="447.6" cy="587.2" r="0.9"/><circle cx="457.4" cy="525.7" r="1.1"/><circle cx="442.2" cy="543" r="0.9"/><circle cx="470.4" cy="580.7" r="1"/><circle cx="410.6" cy="591.9" r="1.1"/><circle cx="449.2" cy="565.8" r="0.9"/><circle cx="497.8" cy="587.6" r="1.1"/><circle cx="449.9" cy="520.2" r="0.8"/><circle cx="507.2" cy="544.3" r="1.1"/><circle cx="463.3" cy="544.6" r="0.7"/><circle cx="458.4" cy="531.3" r="0.9"/><circle cx="493" cy="504.6" r="1"/><circle cx="394.4" cy="584.8" r="0.8"/><circle cx="511.1" cy="588.9" r="0.8"/><circle cx="502.5" cy="527.1" r="1"/><circle cx="469.8" cy="564.3" r="1.1"/><circle cx="510.7" cy="530.4" r="1"/><circle cx="496.3" cy="566.3" r="0.9"/><circle cx="492.2" cy="567.1" r="1"/><circle cx="504.4" cy="544.2" r="1"/><circle cx="430" cy="545.5" r="0.8"/><circle cx="504.9" cy="550.1" r="0.8"/><circle cx="510.7" cy="565.4" r="0.7"/><circle cx="493.5" cy="527.8" r="0.7"/><circle cx="426.3" cy="590.6" r="1.1"/><circle cx="476.5" cy="532.7" r="0.8"/><circle cx="508.3" cy="542.4" r="0.8"/><circle cx="439.8" cy="512.7" r="1.1"/><circle cx="389.9" cy="533.4" r="0.8"/><circle cx="412.3" cy="534.6" r="0.9"/><circle cx="427.2" cy="511.5" r="1"/><circle cx="431.2" cy="552.4" r="1.1"/><circle cx="469.8" cy="547" r="1"/><circle cx="445.5" cy="567.6" r="0.8"/><circle cx="477.6" cy="580" r="1.1"/><circle cx="487.5" cy="510.5" r="0.9"/><circle cx="436.5" cy="545.1" r="0.8"/><circle cx="484.4" cy="532.4" r="1"/><circle cx="479.5" cy="586.9" r="1.1"/><circle cx="456" cy="537.5" r="1"/><circle cx="484.1" cy="528.1" r="0.9"/><circle cx="476.6" cy="590.5" r="0.9"/><circle cx="452.7" cy="528.9" r="1"/><circle cx="505.7" cy="563.5" r="0.8"/><circle cx="456" cy="556.7" r="1"/><circle cx="437.7" cy="552.4" r="0.8"/><circle cx="468.4" cy="559.3" r="0.8"/><circle cx="414" cy="504.1" r="0.7"/><circle cx="445.5" cy="576.1" r="1.1"/><circle cx="479.3" cy="573.7" r="0.9"/><circle cx="471.4" cy="512" r="1.1"/><circle cx="445.5" cy="557.2" r="0.8"/><circle cx="447.5" cy="575.6" r="0.9"/><circle cx="499" cy="526" r="0.7"/><circle cx="487.7" cy="520.6" r="0.9"/><circle cx="442.2" cy="526.8" r="0.8"/><circle cx="460.4" cy="542.2" r="0.8"/><circle cx="471.5" cy="527.4" r="0.8"/><circle cx="456" cy="538.7" r="0.8"/><circle cx="402" cy="513.6" r="0.9"/><circle cx="477.4" cy="569.8" r="1"/><circle cx="429.8" cy="533" r="1.1"/><circle cx="508" cy="502.6" r="0.8"/><circle cx="460.9" cy="520.1" r="0.8"/><circle cx="453.8" cy="550.8" r="0.9"/><circle cx="466.2" cy="553.8" r="0.8"/><circle cx="509.6" cy="574" r="0.8"/><circle cx="505.8" cy="560.3" r="1.1"/><circle cx="502.2" cy="518.3" r="1"/><circle cx="391.8" cy="573.7" r="0.7"/><circle cx="395.6" cy="525.3" r="0.8"/><circle cx="433.9" cy="545.7" r="0.9"/><circle cx="480.5" cy="554.7" r="0.7"/><circle cx="397.3" cy="535.7" r="1.1"/><circle cx="444.5" cy="581.5" r="0.7"/><circle cx="472.5" cy="533.8" r="0.9"/><circle cx="454" cy="575.9" r="1.1"/><circle cx="389.4" cy="520.6" r="1.1"/><circle cx="495.8" cy="557.7" r="0.9"/><circle cx="490.9" cy="507.7" r="1.1"/><circle cx="494.6" cy="569.5" r="1"/><circle cx="467.3" cy="529.6" r="0.9"/><circle cx="459.5" cy="563.8" r="0.9"/><circle cx="499.8" cy="549.6" r="0.8"/><circle cx="509.8" cy="558.4" r="1.1"/><circle cx="462.2" cy="571.6" r="0.8"/><circle cx="498.7" cy="544.3" r="0.7"/><circle cx="404.3" cy="575.1" r="0.9"/><circle cx="449.7" cy="565.7" r="1.1"/><circle cx="435.8" cy="567.7" r="0.7"/><circle cx="450.3" cy="573.4" r="1.1"/><circle cx="473.3" cy="564.6" r="0.9"/><circle cx="464.3" cy="534.8" r="0.9"/><circle cx="448.7" cy="577.8" r="0.9"/><circle cx="467" cy="546.5" r="1"/><circle cx="432.3" cy="510.6" r="0.9"/><circle cx="502.7" cy="553.6" r="0.9"/><circle cx="391.8" cy="510.7" r="0.8"/><circle cx="465.3" cy="547.5" r="1.1"/><circle cx="407" cy="557" r="0.8"/><circle cx="484.5" cy="592.3" r="0.8"/><circle cx="432.8" cy="504.2" r="0.9"/><circle cx="468.3" cy="560.8" r="0.9"/><circle cx="502.5" cy="509.5" r="0.7"/><circle cx="481.2" cy="547" r="0.8"/><circle cx="508.4" cy="527.1" r="1.1"/><circle cx="432.5" cy="540.8" r="1.1"/><circle cx="425.9" cy="508" r="0.9"/><circle cx="471.9" cy="537.5" r="1.1"/><circle cx="440.3" cy="509.9" r="1"/><circle cx="510.9" cy="550" r="1.1"/><circle cx="499.4" cy="514.2" r="0.8"/><circle cx="494.2" cy="523.4" r="0.9"/><circle cx="448.9" cy="530.7" r="1"/><circle cx="421" cy="540.3" r="1"/><circle cx="508.4" cy="560.4" r="0.8"/><circle cx="455.1" cy="544.9" r="0.9"/><circle cx="416.3" cy="577.2" r="0.8"/><circle cx="433.7" cy="592.2" r="0.9"/><circle cx="474.6" cy="546.7" r="0.9"/><circle cx="511.9" cy="546.8" r="0.7"/><circle cx="475.8" cy="578.1" r="0.9"/><circle cx="512.4" cy="566.9" r="1.1"/><circle cx="468.1" cy="528.1" r="0.8"/><circle cx="475.5" cy="537.6" r="1.1"/><circle cx="449.8" cy="546.5" r="1"/><circle cx="477.5" cy="560.3" r="1.1"/><circle cx="505.3" cy="536.7" r="0.8"/><circle cx="466.7" cy="569.1" r="1"/><circle cx="505.6" cy="538.8" r="0.7"/><circle cx="409.6" cy="504.5" r="0.8"/><circle cx="478.4" cy="520.2" r="1.1"/><circle cx="437.8" cy="536.4" r="1.1"/><circle cx="512.8" cy="578.6" r="1.1"/><circle cx="480.8" cy="534.8" r="0.8"/><circle cx="437.3" cy="545.2" r="0.8"/><circle cx="440.5" cy="571.2" r="0.7"/><circle cx="389.5" cy="583.2" r="0.9"/><circle cx="510.9" cy="590.2" r="0.8"/><circle cx="455.9" cy="590" r="1.1"/><circle cx="449.3" cy="548.7" r="0.9"/><circle cx="440.6" cy="553.3" r="0.9"/><circle cx="457.6" cy="566.7" r="1"/><circle cx="449.4" cy="577.4" r="0.7"/><circle cx="498.1" cy="562.7" r="0.8"/><circle cx="478.3" cy="534.6" r="0.9"/><circle cx="401.6" cy="505.4" r="0.9"/><circle cx="397.1" cy="512.7" r="1.1"/><circle cx="399.6" cy="524.8" r="0.8"/><circle cx="510.6" cy="542.3" r="1"/><circle cx="455.7" cy="570.8" r="1.1"/><circle cx="446.2" cy="568.6" r="0.8"/><circle cx="413.7" cy="528.6" r="1.1"/><circle cx="461" cy="572.1" r="0.8"/><circle cx="511.4" cy="581.5" r="1.1"/><circle cx="449.6" cy="565.7" r="0.7"/><circle cx="503.8" cy="548" r="0.9"/><circle cx="439" cy="534.8" r="1.1"/><circle cx="468.9" cy="557.3" r="0.9"/><circle cx="475.3" cy="578.4" r="1.1"/><circle cx="477.1" cy="549.7" r="1"/><circle cx="428.7" cy="574" r="1.1"/><circle cx="498.6" cy="560.4" r="1"/><circle cx="509.3" cy="549.8" r="1.1"/><circle cx="471" cy="526.8" r="0.8"/><circle cx="463.2" cy="524.9" r="1.1"/><circle cx="482" cy="592.2" r="0.8"/><circle cx="486.3" cy="550.4" r="0.9"/><circle cx="405.2" cy="513.8" r="1"/><circle cx="465.9" cy="554.5" r="1"/><circle cx="434.4" cy="592.3" r="0.7"/><circle cx="494.5" cy="582.2" r="1.1"/><circle cx="501.2" cy="540.5" r="0.9"/><circle cx="454.2" cy="530.8" r="1"/><circle cx="419.4" cy="574.9" r="1.1"/><circle cx="499.9" cy="569" r="0.9"/><circle cx="394.7" cy="525.8" r="0.9"/><circle cx="499" cy="581.3" r="0.8"/><circle cx="431.2" cy="554.5" r="0.7"/><circle cx="499.3" cy="521.4" r="1"/><circle cx="416.5" cy="509.8" r="0.9"/><circle cx="390.1" cy="592.3" r="0.9"/><circle cx="410.4" cy="529.4" r="0.8"/><circle cx="475.6" cy="548.5" r="1"/><circle cx="419.6" cy="587.7" r="0.8"/><circle cx="501.3" cy="561.3" r="1.1"/><circle cx="468" cy="529.2" r="1"/><circle cx="405.1" cy="561.6" r="1.1"/><circle cx="471" cy="569.9" r="0.9"/><circle cx="472.1" cy="582" r="0.8"/><circle cx="506.9" cy="529.6" r="1.1"/><circle cx="469.7" cy="516.5" r="0.7"/><circle cx="506.2" cy="526.8" r="0.7"/><circle cx="490" cy="552.2" r="0.9"/><circle cx="471.2" cy="537.9" r="0.8"/><circle cx="505.4" cy="523.7" r="0.7"/><circle cx="438.2" cy="584.1" r="1.1"/><circle cx="393.4" cy="530.5" r="0.9"/><circle cx="475.8" cy="562.9" r="1"/><circle cx="393.2" cy="581.3" r="1.1"/><circle cx="505.3" cy="552.3" r="0.9"/><circle cx="508.7" cy="586.2" r="0.8"/><circle cx="435" cy="548.2" r="0.7"/><circle cx="433.9" cy="519.2" r="0.9"/><circle cx="511" cy="555.6" r="0.9"/><circle cx="471.4" cy="532.3" r="1"/><circle cx="427.3" cy="585.1" r="0.9"/><circle cx="454.2" cy="576.1" r="1"/><circle cx="483.1" cy="553.3" r="1.1"/><circle cx="510.3" cy="562.7" r="1.1"/><circle cx="471" cy="527.5" r="1"/><circle cx="422.8" cy="531.6" r="1"/><circle cx="457.9" cy="553.4" r="0.8"/><circle cx="435.5" cy="548.2" r="0.9"/><circle cx="493.1" cy="559.2" r="0.8"/><circle cx="493.5" cy="553.8" r="0.7"/><circle cx="495.3" cy="552" r="0.9"/><circle cx="507.5" cy="533.4" r="1.1"/><circle cx="469.6" cy="567.4" r="1"/><circle cx="495.5" cy="535.3" r="0.9"/><circle cx="482.2" cy="535.9" r="0.8"/><circle cx="494.7" cy="585.2" r="0.8"/><circle cx="477.8" cy="539.8" r="0.7"/><circle cx="456.7" cy="567.7" r="0.9"/><circle cx="453.8" cy="516.9" r="1.1"/><circle cx="502.7" cy="580.2" r="0.9"/><circle cx="424.2" cy="575.5" r="0.8"/><circle cx="398.2" cy="565.5" r="1.1"/><circle cx="506.4" cy="513.5" r="0.9"/><circle cx="461.8" cy="562.9" r="1"/><circle cx="472.4" cy="537.7" r="0.9"/><circle cx="392.7" cy="524.1" r="0.7"/><circle cx="457.9" cy="564.7" r="1.1"/><circle cx="427.9" cy="528.1" r="0.8"/><circle cx="426.9" cy="552.1" r="0.9"/><circle cx="442.7" cy="592.2" r="1.1"/><circle cx="428.4" cy="526.9" r="0.7"/><circle cx="498.3" cy="535.9" r="1"/><circle cx="456.4" cy="564.2" r="1.1"/><circle cx="455.8" cy="550.2" r="0.8"/><circle cx="464.6" cy="544.4" r="0.7"/><circle cx="439.1" cy="536.2" r="0.8"/><circle cx="392.1" cy="522.9" r="0.7"/><circle cx="490.6" cy="514" r="0.8"/><circle cx="397.3" cy="590.4" r="1.1"/><circle cx="502.3" cy="530.1" r="1"/><circle cx="407.5" cy="521.5" r="0.9"/><circle cx="463.9" cy="532.9" r="0.8"/><circle cx="471.7" cy="510.7" r="1.1"/><circle cx="459.8" cy="537.3" r="0.8"/><circle cx="508.7" cy="544.4" r="1.1"/><circle cx="489.4" cy="555.6" r="0.7"/><circle cx="470.5" cy="525.3" r="0.8"/><circle cx="508.9" cy="552.1" r="1"/><circle cx="411.3" cy="565.9" r="0.7"/><circle cx="493.2" cy="523.6" r="1.1"/><circle cx="419.8" cy="512" r="1"/><circle cx="425.9" cy="530.1" r="0.8"/><circle cx="491.3" cy="567" r="1"/><circle cx="462.9" cy="561" r="1"/><circle cx="501.4" cy="517.5" r="0.9"/><circle cx="471" cy="554.9" r="0.8"/><circle cx="484.4" cy="534" r="1"/><circle cx="512.8" cy="560.5" r="0.9"/><circle cx="473.1" cy="502.3" r="0.9"/><circle cx="491" cy="568.4" r="0.9"/><circle cx="491.8" cy="549.1" r="0.9"/><circle cx="447.4" cy="531.9" r="0.9"/><circle cx="435" cy="566" r="0.7"/><circle cx="489.2" cy="521.9" r="0.7"/><circle cx="498.3" cy="559.5" r="0.9"/><circle cx="465.7" cy="536.2" r="0.9"/><circle cx="396.5" cy="509.8" r="0.8"/><circle cx="492.6" cy="556" r="0.9"/><circle cx="401.7" cy="504.4" r="0.9"/><circle cx="471.5" cy="586.4" r="0.8"/><circle cx="445.8" cy="530.1" r="1"/><circle cx="479.8" cy="553.7" r="0.7"/><circle cx="476.9" cy="586.3" r="0.7"/><circle cx="406.6" cy="586.7" r="0.8"/><circle cx="453.4" cy="532.7" r="1"/><circle cx="450.3" cy="590.4" r="0.9"/><circle cx="512.8" cy="573.5" r="1"/><circle cx="429.9" cy="551.6" r="1"/><circle cx="511.7" cy="539.5" r="0.8"/><circle cx="454.5" cy="559.2" r="1"/><circle cx="443.8" cy="528.9" r="0.8"/><circle cx="437.9" cy="569.1" r="0.8"/><circle cx="492.8" cy="541" r="0.9"/><circle cx="496.4" cy="567" r="1"/><circle cx="483.6" cy="582.6" r="1.1"/><circle cx="434.2" cy="564.1" r="0.9"/><circle cx="443.6" cy="581.7" r="1.1"/><circle cx="446.7" cy="542.1" r="0.8"/><circle cx="489.2" cy="528.8" r="1"/><circle cx="456.4" cy="574.7" r="1.1"/><circle cx="476.9" cy="519.3" r="0.9"/><circle cx="471" cy="535.2" r="0.8"/><circle cx="495.8" cy="547.9" r="0.7"/><circle cx="450.2" cy="521.4" r="1.1"/><circle cx="444.6" cy="532.3" r="1"/><circle cx="462.7" cy="572.2" r="0.9"/><circle cx="481.1" cy="582.7" r="0.7"/><circle cx="488.9" cy="540.6" r="0.9"/><circle cx="466.2" cy="543.4" r="1.1"/><circle cx="464.7" cy="581.8" r="1.1"/><circle cx="511" cy="561.5" r="1.1"/><circle cx="457.4" cy="524.5" r="0.9"/><circle cx="441.1" cy="515.8" r="0.8"/><circle cx="440.2" cy="570.8" r="0.9"/><circle cx="461" cy="536.7" r="0.7"/><circle cx="488.8" cy="566.5" r="1"/><circle cx="442.9" cy="549.7" r="0.9"/><circle cx="486.1" cy="530.7" r="0.7"/><circle cx="506.3" cy="537.4" r="0.8"/><circle cx="511.8" cy="582.1" r="1"/><circle cx="431.2" cy="590.5" r="1"/><circle cx="456.4" cy="515.1" r="0.7"/><circle cx="424.6" cy="544.9" r="0.7"/><circle cx="473.3" cy="552.3" r="0.9"/><circle cx="484.4" cy="564.7" r="0.7"/><circle cx="483.9" cy="566.9" r="0.7"/><circle cx="459.3" cy="548.4" r="0.8"/><circle cx="404" cy="578.9" r="1.1"/><circle cx="457.1" cy="554.3" r="0.8"/><circle cx="470.4" cy="566.7" r="1.1"/><circle cx="503.6" cy="573.7" r="0.9"/><circle cx="394.1" cy="583.3" r="0.7"/><circle cx="398.1" cy="521.2" r="1.1"/><circle cx="402.4" cy="591.2" r="0.9"/><circle cx="457.7" cy="530.5" r="1"/><circle cx="471.4" cy="552" r="0.7"/><circle cx="468.6" cy="577.7" r="0.9"/><circle cx="508.1" cy="525.3" r="0.7"/><circle cx="494" cy="518.5" r="1.1"/><circle cx="480.9" cy="573.8" r="0.7"/><circle cx="494.2" cy="546" r="0.9"/><circle cx="461.7" cy="546.1" r="0.7"/><circle cx="400.8" cy="514.6" r="0.7"/><circle cx="432.2" cy="551.1" r="0.9"/><circle cx="420.4" cy="540" r="0.9"/><circle cx="483.5" cy="580.8" r="1.1"/><circle cx="395.2" cy="585.8" r="0.9"/><circle cx="472.6" cy="554.8" r="0.8"/><circle cx="475.6" cy="543.2" r="1.1"/><circle cx="463.2" cy="567.6" r="0.9"/><circle cx="462.3" cy="591.7" r="1.1"/><circle cx="438.1" cy="505.8" r="0.7"/><circle cx="480.5" cy="544.5" r="0.7"/><circle cx="461.3" cy="577" r="0.8"/><circle cx="512.4" cy="527.8" r="1"/><circle cx="491" cy="567.5" r="1"/><circle cx="466.5" cy="555.1" r="0.9"/><circle cx="484.9" cy="543.8" r="0.8"/><circle cx="441.7" cy="522.3" r="1.1"/><circle cx="474.8" cy="543.9" r="0.8"/><circle cx="446.3" cy="527.1" r="0.7"/><circle cx="467.8" cy="545.4" r="1"/><circle cx="393.1" cy="528.8" r="0.9"/><circle cx="448.3" cy="584.6" r="0.9"/><circle cx="433.7" cy="521.6" r="1"/><circle cx="455.3" cy="577.6" r="0.8"/><circle cx="490" cy="568.9" r="1"/><circle cx="509.3" cy="558.9" r="1"/><circle cx="484.9" cy="542.4" r="1.1"/><circle cx="464.4" cy="540.9" r="1.1"/><circle cx="476.8" cy="574.4" r="0.9"/><circle cx="460" cy="556" r="0.9"/><circle cx="437.5" cy="582" r="1.1"/><circle cx="437" cy="502.6" r="0.8"/><circle cx="452.8" cy="568.9" r="0.9"/><circle cx="406.4" cy="528.1" r="1.1"/><circle cx="482.7" cy="539.1" r="1.1"/><circle cx="490.7" cy="561.8" r="1"/><circle cx="436.7" cy="532.1" r="0.8"/><circle cx="423.8" cy="528.2" r="1"/><circle cx="433.7" cy="583.8" r="0.9"/><circle cx="472.9" cy="539.1" r="1"/><circle cx="457.9" cy="568.6" r="1.1"/><circle cx="433.9" cy="532.2" r="0.9"/><circle cx="445.7" cy="584.5" r="0.7"/><circle cx="472.9" cy="576.9" r="0.9"/><circle cx="432.1" cy="530.8" r="1"/><circle cx="485.5" cy="535.8" r="0.7"/><circle cx="493.4" cy="583.9" r="0.7"/><circle cx="459.4" cy="563.9" r="0.7"/><circle cx="436" cy="547.2" r="0.8"/><circle cx="513.3" cy="533.8" r="0.7"/><circle cx="467.9" cy="504.8" r="1"/><circle cx="512.5" cy="557.7" r="0.9"/><circle cx="448.9" cy="530.9" r="0.8"/><circle cx="452.4" cy="559.3" r="1.1"/><circle cx="458.4" cy="573.9" r="0.7"/><circle cx="458.1" cy="511.1" r="1.1"/><circle cx="469.8" cy="536" r="0.9"/><circle cx="463.1" cy="566.1" r="1.1"/><circle cx="501.8" cy="513.1" r="0.9"/><circle cx="471.4" cy="546.2" r="0.9"/><circle cx="491.8" cy="534.8" r="0.8"/><circle cx="415" cy="575.4" r="0.7"/><circle cx="506.7" cy="524.7" r="0.8"/><circle cx="422.8" cy="530.5" r="1.1"/><circle cx="466.2" cy="569.9" r="0.8"/><circle cx="507.3" cy="543.8" r="1"/><circle cx="427.6" cy="585.4" r="0.7"/><circle cx="479.5" cy="532.6" r="0.8"/><circle cx="395.8" cy="580.9" r="0.8"/><circle cx="488.7" cy="565.3" r="1"/><circle cx="496.5" cy="539.7" r="0.8"/><circle cx="468.1" cy="562.4" r="0.8"/><circle cx="433.3" cy="509.3" r="1.1"/><circle cx="491.9" cy="588.4" r="1"/><circle cx="483.9" cy="544" r="0.7"/><circle cx="501.1" cy="545.4" r="0.9"/><circle cx="480.1" cy="576.8" r="0.8"/><circle cx="483.6" cy="584.6" r="0.9"/><circle cx="501.5" cy="544.8" r="0.9"/><circle cx="460.5" cy="565.7" r="1"/><circle cx="468.8" cy="545.1" r="1.1"/><circle cx="469.3" cy="522.8" r="1"/><circle cx="435.3" cy="524.3" r="0.7"/><circle cx="474.2" cy="550.1" r="1"/><circle cx="460.7" cy="575.7" r="1"/><circle cx="499.9" cy="572.7" r="0.9"/><circle cx="502.2" cy="579.9" r="1"/><circle cx="389.5" cy="545" r="0.9"/><circle cx="414.7" cy="502.7" r="1.1"/><circle cx="503.7" cy="579.9" r="0.9"/><circle cx="460.7" cy="550" r="0.8"/><circle cx="465.5" cy="531.3" r="1.1"/><circle cx="452.9" cy="541" r="1.1"/><circle cx="455.6" cy="551.8" r="0.7"/><circle cx="467.2" cy="581.5" r="0.7"/><circle cx="486" cy="539.8" r="0.7"/><circle cx="508.4" cy="565.3" r="1.1"/><circle cx="449.6" cy="519.1" r="1"/><circle cx="390.8" cy="549" r="0.8"/><circle cx="414.5" cy="533.3" r="0.7"/><circle cx="452.6" cy="525.7" r="0.9"/><circle cx="483.9" cy="577.4" r="0.8"/><circle cx="467.5" cy="540.7" r="1"/><circle cx="513" cy="548.6" r="0.9"/><circle cx="481.9" cy="515.2" r="0.9"/><circle cx="456.9" cy="563.3" r="0.7"/><circle cx="410" cy="533.3" r="0.9"/><circle cx="460" cy="551.1" r="0.8"/><circle cx="482.7" cy="552.9" r="0.8"/><circle cx="473.3" cy="580" r="0.7"/><circle cx="446.8" cy="570.2" r="1.1"/><circle cx="483.6" cy="535.1" r="0.9"/><circle cx="485.8" cy="579.9" r="0.9"/><circle cx="475.7" cy="546" r="1"/><circle cx="445.8" cy="575.3" r="0.9"/><circle cx="441.6" cy="554.6" r="0.7"/><circle cx="501.6" cy="589.5" r="1.1"/><circle cx="506.2" cy="568" r="1"/><circle cx="479.1" cy="537.8" r="0.8"/><circle cx="500.2" cy="535.4" r="1"/><circle cx="441.7" cy="518.4" r="1.1"/><circle cx="442.9" cy="581.8" r="0.8"/><circle cx="502.5" cy="527.3" r="0.8"/><circle cx="408.2" cy="586.7" r="0.9"/><circle cx="452.4" cy="555.4" r="1"/><circle cx="509.3" cy="532.5" r="1"/><circle cx="487.2" cy="561.8" r="1.1"/><circle cx="393.9" cy="580.5" r="1"/><circle cx="459.7" cy="570.9" r="1.1"/><circle cx="426.8" cy="573.6" r="1"/><circle cx="469.2" cy="533.2" r="1"/><circle cx="470.1" cy="538.8" r="1.1"/><circle cx="483.3" cy="568.3" r="1"/><circle cx="478.5" cy="520.1" r="0.7"/><circle cx="433.1" cy="523.4" r="1.1"/><circle cx="474.9" cy="590.6" r="0.7"/><circle cx="503.3" cy="572.8" r="1.1"/><circle cx="440" cy="554.1" r="1"/><circle cx="427.2" cy="578.6" r="0.9"/><circle cx="471.3" cy="571.8" r="0.9"/><circle cx="448.4" cy="574.1" r="0.8"/><circle cx="475.6" cy="545.3" r="0.8"/><circle cx="415.1" cy="535.9" r="0.7"/><circle cx="404.5" cy="575.4" r="0.8"/><circle cx="482.6" cy="584.2" r="0.7"/><circle cx="471.2" cy="552.9" r="1"/><circle cx="461.2" cy="575.8" r="0.7"/><circle cx="435.6" cy="538.2" r="1"/><circle cx="500.6" cy="551.5" r="1.1"/><circle cx="497.3" cy="528.6" r="0.8"/><circle cx="504.8" cy="530.6" r="1"/><circle cx="499.8" cy="561.9" r="0.9"/><circle cx="409.2" cy="515.6" r="0.8"/><circle cx="418" cy="582.3" r="0.9"/><circle cx="436.8" cy="509.3" r="0.9"/><circle cx="429.2" cy="559.4" r="0.9"/><circle cx="446.5" cy="527" r="1"/><circle cx="475.4" cy="562.4" r="0.8"/><circle cx="424.2" cy="541.6" r="0.7"/><circle cx="491.4" cy="527" r="1.1"/><circle cx="504.3" cy="525.3" r="1"/></g>
</g>
</g>
<text x="396.5" y="518.4" font-size="12.6" text-anchor="start" font-weight="bold" fill="#000" >M. CCL21+ICAM1</text>
<rect x="395.6" y="578" width="14.5" height="1.7" fill="#000"/>
<text x="391.3" y="588" font-size="7.5" text-anchor="start" font-weight="bold" fill="#000" >50 &#181;m</text>
<text x="11.8" y="619.4" font-size="11.8" text-anchor="start" font-weight="bold" fill="#000" >N</text>
<path d="M160 701.2 L168.5 701.2 L171.3 697.4 L175.2 695 L180 694.5 L183.8 694.5 L186.7 691.6 L189.6 684 L191.5 672.4 L193.5 651.2 L195 630 L196.3 620.5 L197.7 622.4 L199.6 641.6 L201.5 664.7 L204 680 L207 689.7 L210.8 697.4 L214.6 700.8 L220 701.2" fill="none" stroke="#6fae5a" stroke-width="1.3" stroke-linejoin="round"/>
<path d="M160 701.2 L167.5 701.2 L169.4 697.4 L171.3 684 L173.3 664.7 L175.2 655 L177.1 650.3 L179 643.5 L181 637.8 L182.3 644.5 L183.8 641.6 L185.8 639.7 L187.3 645.5 L188.7 662.8 L190.6 664.7 L192.5 664.7 L194.4 676.2 L196.3 684 L199.2 687.8 L202.1 691.6 L204 693.5 L206 697.4 L208.8 700.8 L216 701.2" fill="none" stroke="#8c1c44" stroke-width="1.3" stroke-linejoin="round"/>
<path d="M144 701.2 L151 701.2 L153.8 697.4 L156.7 688 L159.6 669 L161.5 650 L163.5 633 L165.3 635 L166.8 634 L168.2 620 L169.6 624 L171 637 L172.5 648 L174 652 L175.4 658 L176.4 666 L178.2 673 L180.2 679 L182 686.5 L184 690 L187 693 L190 696 L194 698 L200 699.5 L207 700.8 L212 701.2" fill="none" stroke="#4a2466" stroke-width="1.3" stroke-linejoin="round"/>
<path d="M144 701.2 L151.2 701.2 L154 697.4 L156.9 687.8 L159.8 668.5 L161.7 649.3 L163.7 630 L165.6 629 L167.1 622.4 L168 617.6 L169.4 622.4 L170.8 635.8 L172.3 647.4 L173.8 651.2 L175.2 657 L176.2 664.7 L178 672.4 L180 678.2 L181.9 685.8 L183.8 689.7 L186.7 692.6 L189.6 695.5 L193.5 697.4 L199.2 699.3 L207 700.8 L212 701.2" fill="none" stroke="#dc9a3a" stroke-width="1.3" stroke-linejoin="round"/>
<rect x="131.5" y="609.2" width="92.5" height="91.8" fill="none" stroke="#000" stroke-width="1.7"/>
<line x1="131.5" y1="702.6" x2="224" y2="702.6" stroke="#111" stroke-width="1.5"/>
<line x1="132.5" y1="701" x2="132.5" y2="703.6" stroke="#000" stroke-width="0.8"/>
<line x1="134.46" y1="701" x2="134.46" y2="703" stroke="#000" stroke-width="0.8"/>
<line x1="137.17" y1="701" x2="137.17" y2="703.6" stroke="#000" stroke-width="0.8"/>
<line x1="139.68" y1="701" x2="139.68" y2="703.6" stroke="#000" stroke-width="0.8"/>
<line x1="141.32" y1="701" x2="141.32" y2="703" stroke="#000" stroke-width="0.8"/>
<line x1="144.01" y1="701" x2="144.01" y2="702.4" stroke="#000" stroke-width="0.8"/>
<line x1="149.2" y1="701" x2="149.2" y2="704" stroke="#000" stroke-width="1"/>
<line x1="155.7" y1="701" x2="155.7" y2="703" stroke="#000" stroke-width="0.8"/>
<line x1="159.51" y1="701" x2="159.51" y2="703" stroke="#000" stroke-width="0.8"/>
<line x1="162.2" y1="701" x2="162.2" y2="703" stroke="#000" stroke-width="0.8"/>
<line x1="164.3" y1="701" x2="164.3" y2="703" stroke="#000" stroke-width="0.8"/>
<line x1="166.01" y1="701" x2="166.01" y2="703" stroke="#000" stroke-width="0.8"/>
<line x1="167.45" y1="701" x2="167.45" y2="703" stroke="#000" stroke-width="0.8"/>
<line x1="168.71" y1="701" x2="168.71" y2="703" stroke="#000" stroke-width="0.8"/>
<line x1="169.81" y1="701" x2="169.81" y2="703" stroke="#000" stroke-width="0.8"/>
<line x1="171.4" y1="701" x2="171.4" y2="704" stroke="#000" stroke-width="1"/>
<line x1="177.9" y1="701" x2="177.9" y2="703" stroke="#000" stroke-width="0.8"/>
<line x1="181.71" y1="701" x2="181.71" y2="703" stroke="#000" stroke-width="0.8"/>
<line x1="184.4" y1="701" x2="184.4" y2="703" stroke="#000" stroke-width="0.8"/>
<line x1="186.5" y1="701" x2="186.5" y2="703" stroke="#000" stroke-width="0.8"/>
<line x1="188.21" y1="701" x2="188.21" y2="703" stroke="#000" stroke-width="0.8"/>
<line x1="189.65" y1="701" x2="189.65" y2="703" stroke="#000" stroke-width="0.8"/>
<line x1="190.91" y1="701" x2="190.91" y2="703" stroke="#000" stroke-width="0.8"/>
<line x1="192.01" y1="701" x2="192.01" y2="703" stroke="#000" stroke-width="0.8"/>
<line x1="193" y1="701" x2="193" y2="704" stroke="#000" stroke-width="1"/>
<line x1="199.5" y1="701" x2="199.5" y2="703" stroke="#000" stroke-width="0.8"/>
<line x1="203.31" y1="701" x2="203.31" y2="703" stroke="#000" stroke-width="0.8"/>
<line x1="206" y1="701" x2="206" y2="703" stroke="#000" stroke-width="0.8"/>
<line x1="208.1" y1="701" x2="208.1" y2="703" stroke="#000" stroke-width="0.8"/>
<line x1="209.81" y1="701" x2="209.81" y2="703" stroke="#000" stroke-width="0.8"/>
<line x1="211.25" y1="701" x2="211.25" y2="703" stroke="#000" stroke-width="0.8"/>
<line x1="212.51" y1="701" x2="212.51" y2="703" stroke="#000" stroke-width="0.8"/>
<line x1="213.61" y1="701" x2="213.61" y2="703" stroke="#000" stroke-width="0.8"/>
<line x1="213.8" y1="701" x2="213.8" y2="704" stroke="#000" stroke-width="1"/>
<line x1="220.3" y1="701" x2="220.3" y2="703" stroke="#000" stroke-width="0.8"/>
<line x1="128.5" y1="701" x2="131.5" y2="701" stroke="#000" stroke-width="1"/>
<text x="124.6" y="703.4" font-size="6.8" text-anchor="middle" font-weight="normal" fill="#1a1a1a" >0</text>
<text x="138.7" y="712.7" font-size="6.7" text-anchor="middle" font-weight="normal" fill="#1a1a1a" >0</text>
<text x="146.3" y="712.7" font-size="6.7" text-anchor="start" font-weight="normal" fill="#1a1a1a" >10<tspan font-size="4.6" dy="-2.2">2</tspan></text>
<text x="168" y="712.7" font-size="6.7" text-anchor="start" font-weight="normal" fill="#1a1a1a" >10<tspan font-size="4.6" dy="-2.2">3</tspan></text>
<text x="189.6" y="712.7" font-size="6.7" text-anchor="start" font-weight="normal" fill="#1a1a1a" >10<tspan font-size="4.6" dy="-2.2">4</tspan></text>
<text x="210.2" y="712.7" font-size="6.7" text-anchor="start" font-weight="normal" fill="#1a1a1a" >10<tspan font-size="4.6" dy="-2.2">5</tspan></text>
<text x="0" y="0" font-size="9.7" font-weight="bold" text-anchor="middle" fill="#1a1a1a" transform="translate(177.7 726.2) scale(0.63 1)">CFSE</text>
<text x="0" y="0" font-size="10.1" font-weight="bold" text-anchor="middle" fill="#1a1a1a" transform="translate(118.6 655.4) rotate(-90) scale(0.58 1)">Count</text>
<text x="68" y="625.4" font-size="8.85" text-anchor="middle" font-weight="bold" fill="#000" >Beads + IL-2</text>
<text x="68" y="635.8" font-size="8.85" text-anchor="middle" font-weight="bold" fill="#000" >Activation</text>
<text x="43.8" y="655.3" font-size="7.5" text-anchor="start" font-weight="normal" fill="#7db86a" >Non-Activated</text>
<text x="43.8" y="668" font-size="7.5" text-anchor="start" font-weight="normal" fill="#8c2a55" >No-Coating</text>
<text x="43.8" y="680" font-size="7.5" text-anchor="start" font-weight="normal" fill="#46325c" letter-spacing="0.2">CCL21+ICAM1</text>
<text x="43.8" y="692.2" font-size="7.5" text-anchor="start" font-weight="normal" fill="#d8a04c" letter-spacing="0.2">CCL21+ICAM1</text>
<text x="43.8" y="702.4" font-size="7.5" text-anchor="start" font-weight="normal" fill="#d8a04c" >+IL-6</text>
<text x="256.6" y="619.4" font-size="12" text-anchor="start" font-weight="bold" fill="#000" >O</text>
<line x1="306" y1="619.3" x2="306" y2="699.7" stroke="#111" stroke-width="1.4"/>
<line x1="302.8" y1="699" x2="306" y2="699" stroke="#111" stroke-width="1.2"/>
<text x="299.4" y="701.95" font-size="8.4" text-anchor="end" font-weight="normal" fill="#1a1a1a" >0</text>
<line x1="302.8" y1="689.4" x2="306" y2="689.4" stroke="#111" stroke-width="1.2"/>
<text x="299.4" y="692.35" font-size="8.4" text-anchor="end" font-weight="normal" fill="#1a1a1a" >500</text>
<line x1="302.8" y1="679.8" x2="306" y2="679.8" stroke="#111" stroke-width="1.2"/>
<text x="299.4" y="682.75" font-size="8.4" text-anchor="end" font-weight="normal" fill="#1a1a1a" >1000</text>
<line x1="302.8" y1="670.2" x2="306" y2="670.2" stroke="#111" stroke-width="1.2"/>
<text x="299.4" y="673.15" font-size="8.4" text-anchor="end" font-weight="normal" fill="#1a1a1a" >1500</text>
<line x1="302.8" y1="660.6" x2="306" y2="660.6" stroke="#111" stroke-width="1.2"/>
<text x="299.4" y="663.55" font-size="8.4" text-anchor="end" font-weight="normal" fill="#1a1a1a" >2000</text>
<line x1="302.8" y1="651" x2="306" y2="651" stroke="#111" stroke-width="1.2"/>
<text x="299.4" y="653.95" font-size="8.4" text-anchor="end" font-weight="normal" fill="#1a1a1a" >2500</text>
<line x1="302.8" y1="641.4" x2="306" y2="641.4" stroke="#111" stroke-width="1.2"/>
<text x="299.4" y="644.35" font-size="8.4" text-anchor="end" font-weight="normal" fill="#1a1a1a" >3000</text>
<line x1="302.8" y1="631.8" x2="306" y2="631.8" stroke="#111" stroke-width="1.2"/>
<text x="299.4" y="634.75" font-size="8.4" text-anchor="end" font-weight="normal" fill="#1a1a1a" >3500</text>
<line x1="302.8" y1="622.2" x2="306" y2="622.2" stroke="#111" stroke-width="1.2"/>
<text x="299.4" y="625.15" font-size="8.4" text-anchor="end" font-weight="normal" fill="#1a1a1a" >4000</text>
<line x1="305.3" y1="699" x2="429" y2="699" stroke="#111" stroke-width="1.4"/>
<rect x="314.6" y="637.7" width="24.2" height="61.3" fill="#a7012a"/>
<line x1="326.4" y1="629.2" x2="326.4" y2="645.8" stroke="#151515" stroke-width="1"/>
<line x1="324.8" y1="629.2" x2="328" y2="629.2" stroke="#151515" stroke-width="1.1"/>
<line x1="324.8" y1="645.8" x2="328" y2="645.8" stroke="#151515" stroke-width="1.1"/>
<rect x="355.5" y="684" width="24.2" height="15" fill="#552566"/>
<line x1="367.6" y1="683.2" x2="367.6" y2="684.8" stroke="#151515" stroke-width="1"/>
<line x1="366" y1="683.2" x2="369.2" y2="683.2" stroke="#151515" stroke-width="1.1"/>
<line x1="366" y1="684.8" x2="369.2" y2="684.8" stroke="#151515" stroke-width="1.1"/>
<rect x="397" y="688" width="24.5" height="11" fill="#da8e1c"/>
<line x1="409.2" y1="687.4" x2="409.2" y2="688.6" stroke="#151515" stroke-width="1"/>
<line x1="407.6" y1="687.4" x2="410.8" y2="687.4" stroke="#151515" stroke-width="1.1"/>
<line x1="407.6" y1="688.6" x2="410.8" y2="688.6" stroke="#151515" stroke-width="1.1"/>
<line x1="321.3" y1="617.5" x2="365" y2="617.5" stroke="#3a3a3a" stroke-width="1.4"/>
<circle cx="339.6" cy="613.4" r="1.25" fill="#1a1a1a"/>
<circle cx="343.4" cy="613.4" r="1.25" fill="#1a1a1a"/>
<circle cx="347.2" cy="613.4" r="1.25" fill="#1a1a1a"/>
<line x1="321.3" y1="626.9" x2="423.5" y2="626.9" stroke="#3a3a3a" stroke-width="1.4"/>
<circle cx="368.9" cy="622.6" r="1.25" fill="#1a1a1a"/>
<circle cx="372.7" cy="622.6" r="1.25" fill="#1a1a1a"/>
<circle cx="376.5" cy="622.6" r="1.25" fill="#1a1a1a"/>
<text x="354.2" y="638.9" font-size="7.95" text-anchor="start" font-weight="normal" fill="#1a1a1a" >***, p&lt;0.001</text>
<text x="327" y="710.3" font-size="8" text-anchor="middle" font-weight="normal" fill="#1a1a1a" >No</text>
<text x="327" y="720.25" font-size="8" text-anchor="middle" font-weight="normal" fill="#1a1a1a" >Coating</text>
<text x="368" y="710.3" font-size="8" text-anchor="middle" font-weight="normal" fill="#1a1a1a" >CCL21</text>
<text x="368" y="720.25" font-size="8" text-anchor="middle" font-weight="normal" fill="#1a1a1a" >+ICAM1</text>
<text x="409.2" y="710.3" font-size="8" text-anchor="middle" font-weight="normal" fill="#1a1a1a" >CCL21</text>
<text x="409.2" y="720.25" font-size="8" text-anchor="middle" font-weight="normal" fill="#1a1a1a" >+ICAM1</text>
<text x="409.2" y="730.2" font-size="8" text-anchor="middle" font-weight="normal" fill="#1a1a1a" >+IL-6</text>
<text x="0" y="0" font-size="8.9" font-weight="bold" text-anchor="middle" fill="#1a1a1a" transform="translate(274.1 659.2) rotate(-90) scale(0.71 1)">Mean CFSE</text>
<rect x="0" y="0" width="520" height="1.2" fill="#000"/>
<rect x="0" y="0" width="1.5" height="738" fill="#000"/>
<rect x="518.2" y="0" width="1.8" height="738" fill="#000"/>
<rect x="0" y="736" width="520" height="2" fill="#000"/>
</svg>
</body></html>
